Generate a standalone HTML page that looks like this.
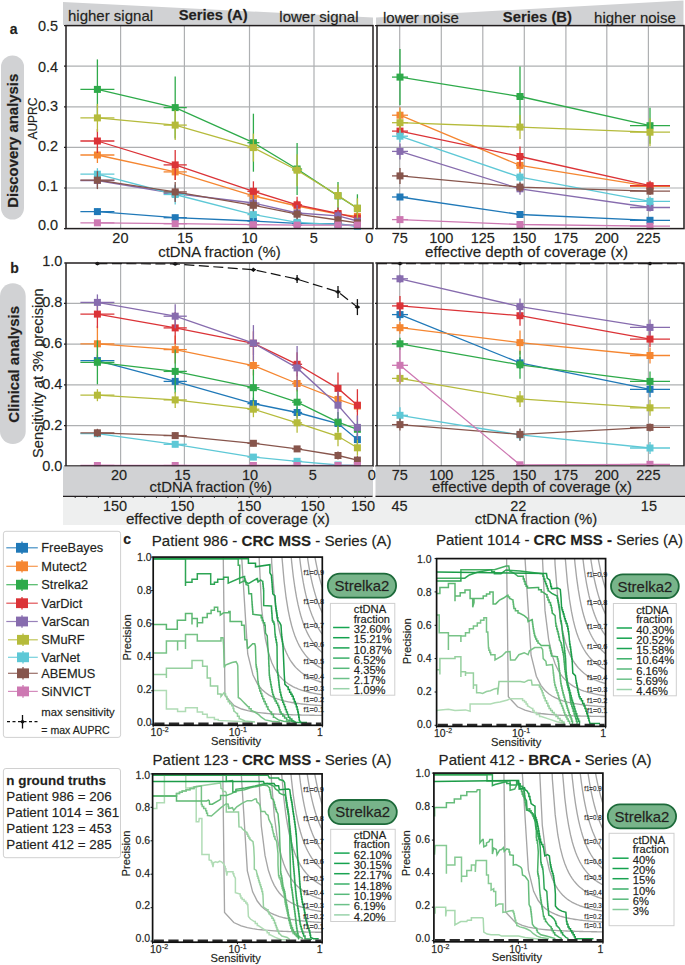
<!DOCTYPE html>
<html><head><meta charset="utf-8"><style>
html,body{margin:0;padding:0;background:#fff;}
svg{display:block;font-family:"Liberation Sans", sans-serif;}
text{stroke:#231f20;stroke-width:0.3px;stroke-opacity:0.6;}
</style></head><body>
<svg width="685" height="965" viewBox="0 0 685 965">
<rect width="685" height="965" fill="#fff"/>
<polygon points="63,2 373,17.5 373,25 63,25" fill="#d1d2d4"/>
<polygon points="376,17.5 683.5,0.5 683.5,25 376,25" fill="#d1d2d4"/>
<text x="68.0" y="21.0" font-size="15" text-anchor="start" font-weight="normal" fill="#231f20" >higher signal</text>
<text x="213.2" y="19.9" font-size="14.8" text-anchor="middle" font-weight="bold" fill="#231f20" >Series (A)</text>
<text x="279.3" y="21.9" font-size="15" text-anchor="start" font-weight="normal" fill="#231f20" >lower signal</text>
<text x="383.0" y="23.4" font-size="15" text-anchor="start" font-weight="normal" fill="#231f20" >lower noise</text>
<text x="537.4" y="21.6" font-size="14.8" text-anchor="middle" font-weight="bold" fill="#231f20" >Series (B)</text>
<text x="675.8" y="23.4" font-size="15" text-anchor="end" font-weight="normal" fill="#231f20" >higher noise</text>
<text x="9.8" y="33.6" font-size="14" text-anchor="start" font-weight="bold" fill="#231f20" >a</text>
<text x="10.2" y="272.6" font-size="14" text-anchor="start" font-weight="bold" fill="#231f20" >b</text>
<rect x="1" y="55.5" width="23" height="164" rx="11.5" fill="#d1d2d4"/>
<rect x="0" y="283.3" width="25.7" height="160.7" rx="12.8" fill="#d1d2d4"/>
<text transform="translate(18.2,140.8) rotate(-90)" font-size="14.9" font-weight="bold" text-anchor="middle" fill="#231f20">Discovery analysis</text>
<text transform="translate(18.6,364.3) rotate(-90)" font-size="15" font-weight="bold" text-anchor="middle" fill="#231f20">Clinical analysis</text>
<text transform="translate(37.4,118.6) rotate(-90)" font-size="12" text-anchor="middle" fill="#231f20">AUPRC</text>
<text transform="translate(42.6,373.2) rotate(-90)" font-size="14.6" text-anchor="middle" fill="#231f20">Sensitivity at 3% precision</text>
<line x1="120.6" y1="25.6" x2="120.6" y2="228.6" stroke="#aeb0b2" stroke-width="1.2"/>
<line x1="184.4" y1="25.6" x2="184.4" y2="228.6" stroke="#aeb0b2" stroke-width="1.2"/>
<line x1="249.5" y1="25.6" x2="249.5" y2="228.6" stroke="#aeb0b2" stroke-width="1.2"/>
<line x1="314.0" y1="25.6" x2="314.0" y2="228.6" stroke="#aeb0b2" stroke-width="1.2"/>
<line x1="66" y1="66.2" x2="373" y2="66.2" stroke="#aeb0b2" stroke-width="1.2"/>
<line x1="66" y1="106.8" x2="373" y2="106.8" stroke="#aeb0b2" stroke-width="1.2"/>
<line x1="66" y1="147.4" x2="373" y2="147.4" stroke="#aeb0b2" stroke-width="1.2"/>
<line x1="66" y1="188.0" x2="373" y2="188.0" stroke="#aeb0b2" stroke-width="1.2"/>
<line x1="399.7" y1="25.6" x2="399.7" y2="228.6" stroke="#aeb0b2" stroke-width="1.2"/>
<line x1="441.3" y1="25.6" x2="441.3" y2="228.6" stroke="#aeb0b2" stroke-width="1.2"/>
<line x1="482.8" y1="25.6" x2="482.8" y2="228.6" stroke="#aeb0b2" stroke-width="1.2"/>
<line x1="524.3" y1="25.6" x2="524.3" y2="228.6" stroke="#aeb0b2" stroke-width="1.2"/>
<line x1="565.9" y1="25.6" x2="565.9" y2="228.6" stroke="#aeb0b2" stroke-width="1.2"/>
<line x1="606.8" y1="25.6" x2="606.8" y2="228.6" stroke="#aeb0b2" stroke-width="1.2"/>
<line x1="648.4" y1="25.6" x2="648.4" y2="228.6" stroke="#aeb0b2" stroke-width="1.2"/>
<line x1="377" y1="66.2" x2="684" y2="66.2" stroke="#aeb0b2" stroke-width="1.2"/>
<line x1="377" y1="106.8" x2="684" y2="106.8" stroke="#aeb0b2" stroke-width="1.2"/>
<line x1="377" y1="147.4" x2="684" y2="147.4" stroke="#aeb0b2" stroke-width="1.2"/>
<line x1="377" y1="188.0" x2="684" y2="188.0" stroke="#aeb0b2" stroke-width="1.2"/>
<text x="58.2" y="31.4" font-size="14.5" text-anchor="end" font-weight="normal" fill="#231f20" >0.5</text>
<line x1="64" y1="25.6" x2="66" y2="25.6" stroke="#231f20" stroke-width="1.2"/>
<line x1="375" y1="25.6" x2="377" y2="25.6" stroke="#231f20" stroke-width="1.2"/>
<text x="58.2" y="72.3" font-size="14.5" text-anchor="end" font-weight="normal" fill="#231f20" >0.4</text>
<line x1="64" y1="66.2" x2="66" y2="66.2" stroke="#231f20" stroke-width="1.2"/>
<line x1="375" y1="66.2" x2="377" y2="66.2" stroke="#231f20" stroke-width="1.2"/>
<text x="58.2" y="111.2" font-size="14.5" text-anchor="end" font-weight="normal" fill="#231f20" >0.3</text>
<line x1="64" y1="106.8" x2="66" y2="106.8" stroke="#231f20" stroke-width="1.2"/>
<line x1="375" y1="106.8" x2="377" y2="106.8" stroke="#231f20" stroke-width="1.2"/>
<text x="58.2" y="151.2" font-size="14.5" text-anchor="end" font-weight="normal" fill="#231f20" >0.2</text>
<line x1="64" y1="147.4" x2="66" y2="147.4" stroke="#231f20" stroke-width="1.2"/>
<line x1="375" y1="147.4" x2="377" y2="147.4" stroke="#231f20" stroke-width="1.2"/>
<text x="58.2" y="191.0" font-size="14.5" text-anchor="end" font-weight="normal" fill="#231f20" >0.1</text>
<line x1="64" y1="188.0" x2="66" y2="188.0" stroke="#231f20" stroke-width="1.2"/>
<line x1="375" y1="188.0" x2="377" y2="188.0" stroke="#231f20" stroke-width="1.2"/>
<text x="58.2" y="229.5" font-size="14.5" text-anchor="end" font-weight="normal" fill="#231f20" >0.0</text>
<line x1="64" y1="228.6" x2="66" y2="228.6" stroke="#231f20" stroke-width="1.2"/>
<line x1="375" y1="228.6" x2="377" y2="228.6" stroke="#231f20" stroke-width="1.2"/>
<text x="120.4" y="242.8" font-size="14.5" text-anchor="middle" font-weight="normal" fill="#231f20" >20</text>
<text x="185.0" y="242.8" font-size="14.5" text-anchor="middle" font-weight="normal" fill="#231f20" >15</text>
<text x="249.6" y="242.8" font-size="14.5" text-anchor="middle" font-weight="normal" fill="#231f20" >10</text>
<text x="313.7" y="242.8" font-size="14.5" text-anchor="middle" font-weight="normal" fill="#231f20" >5</text>
<text x="369.3" y="242.8" font-size="14.5" text-anchor="middle" font-weight="normal" fill="#231f20" >0</text>
<text x="219.5" y="257.4" font-size="14.9" text-anchor="middle" font-weight="normal" fill="#231f20" >ctDNA fraction (%)</text>
<text x="399.7" y="242.8" font-size="14.5" text-anchor="middle" font-weight="normal" fill="#231f20" >75</text>
<text x="441.3" y="242.8" font-size="14.5" text-anchor="middle" font-weight="normal" fill="#231f20" >100</text>
<text x="482.8" y="242.8" font-size="14.5" text-anchor="middle" font-weight="normal" fill="#231f20" >125</text>
<text x="524.3" y="242.8" font-size="14.5" text-anchor="middle" font-weight="normal" fill="#231f20" >150</text>
<text x="565.9" y="242.8" font-size="14.5" text-anchor="middle" font-weight="normal" fill="#231f20" >175</text>
<text x="606.8" y="242.8" font-size="14.5" text-anchor="middle" font-weight="normal" fill="#231f20" >200</text>
<text x="648.4" y="242.8" font-size="14.5" text-anchor="middle" font-weight="normal" fill="#231f20" >225</text>
<text x="526.6" y="257.4" font-size="14.9" text-anchor="middle" font-weight="normal" fill="#231f20" textLength="203" lengthAdjust="spacingAndGlyphs">effective depth of coverage (x)</text>
<polyline points="97.4,211.6 175.2,217.7 253.4,221.0 297.1,223.3 338.0,224.0 357.4,226.0" fill="none" stroke="#2079b8" stroke-width="1.3"/>
<line x1="80.4" y1="211.6" x2="114.4" y2="211.6" stroke="#2079b8" stroke-width="1.3"/>
<line x1="97.4" y1="208.6" x2="97.4" y2="214.6" stroke="#2079b8" stroke-width="1.3"/>
<rect x="93.9" y="208.1" width="7" height="7" fill="#2079b8"/>
<line x1="163.6" y1="217.7" x2="186.8" y2="217.7" stroke="#2079b8" stroke-width="1.3"/>
<line x1="175.2" y1="214.7" x2="175.2" y2="220.7" stroke="#2079b8" stroke-width="1.3"/>
<rect x="171.7" y="214.2" width="7" height="7" fill="#2079b8"/>
<line x1="247.4" y1="221.0" x2="259.4" y2="221.0" stroke="#2079b8" stroke-width="1.3"/>
<line x1="253.4" y1="218.0" x2="253.4" y2="224.0" stroke="#2079b8" stroke-width="1.3"/>
<rect x="249.9" y="217.5" width="7" height="7" fill="#2079b8"/>
<line x1="292.1" y1="223.3" x2="302.1" y2="223.3" stroke="#2079b8" stroke-width="1.3"/>
<line x1="297.1" y1="221.3" x2="297.1" y2="225.3" stroke="#2079b8" stroke-width="1.3"/>
<rect x="293.6" y="219.8" width="7" height="7" fill="#2079b8"/>
<line x1="335.0" y1="224.0" x2="341.0" y2="224.0" stroke="#2079b8" stroke-width="1.3"/>
<line x1="338.0" y1="222.0" x2="338.0" y2="226.0" stroke="#2079b8" stroke-width="1.3"/>
<rect x="334.5" y="220.5" width="7" height="7" fill="#2079b8"/>
<line x1="355.4" y1="226.0" x2="359.4" y2="226.0" stroke="#2079b8" stroke-width="1.3"/>
<line x1="357.4" y1="224.0" x2="357.4" y2="228.0" stroke="#2079b8" stroke-width="1.3"/>
<rect x="353.9" y="222.5" width="7" height="7" fill="#2079b8"/>
<polyline points="400.0,197.0 520.0,214.5 650.0,220.3" fill="none" stroke="#2079b8" stroke-width="1.3"/>
<line x1="392.0" y1="197.0" x2="408.0" y2="197.0" stroke="#2079b8" stroke-width="1.3"/>
<line x1="400.0" y1="194.0" x2="400.0" y2="200.0" stroke="#2079b8" stroke-width="1.3"/>
<rect x="396.5" y="193.5" width="7" height="7" fill="#2079b8"/>
<line x1="516.0" y1="214.5" x2="524.0" y2="214.5" stroke="#2079b8" stroke-width="1.3"/>
<line x1="520.0" y1="211.5" x2="520.0" y2="217.5" stroke="#2079b8" stroke-width="1.3"/>
<rect x="516.5" y="211.0" width="7" height="7" fill="#2079b8"/>
<line x1="630.0" y1="220.3" x2="670.0" y2="220.3" stroke="#2079b8" stroke-width="1.3"/>
<line x1="650.0" y1="217.3" x2="650.0" y2="223.3" stroke="#2079b8" stroke-width="1.3"/>
<rect x="646.5" y="216.8" width="7" height="7" fill="#2079b8"/>
<polyline points="97.4,155.0 175.2,171.9 253.4,195.9 297.1,206.0 338.0,214.2 357.4,216.3" fill="none" stroke="#f58631" stroke-width="1.3"/>
<line x1="80.4" y1="155.0" x2="114.4" y2="155.0" stroke="#f58631" stroke-width="1.3"/>
<line x1="97.4" y1="147.0" x2="97.4" y2="163.0" stroke="#f58631" stroke-width="1.3"/>
<rect x="93.9" y="151.5" width="7" height="7" fill="#f58631"/>
<line x1="163.6" y1="171.9" x2="186.8" y2="171.9" stroke="#f58631" stroke-width="1.3"/>
<line x1="175.2" y1="163.9" x2="175.2" y2="179.9" stroke="#f58631" stroke-width="1.3"/>
<rect x="171.7" y="168.4" width="7" height="7" fill="#f58631"/>
<line x1="247.4" y1="195.9" x2="259.4" y2="195.9" stroke="#f58631" stroke-width="1.3"/>
<line x1="253.4" y1="187.9" x2="253.4" y2="203.9" stroke="#f58631" stroke-width="1.3"/>
<rect x="249.9" y="192.4" width="7" height="7" fill="#f58631"/>
<line x1="292.1" y1="206.0" x2="302.1" y2="206.0" stroke="#f58631" stroke-width="1.3"/>
<line x1="297.1" y1="200.0" x2="297.1" y2="212.0" stroke="#f58631" stroke-width="1.3"/>
<rect x="293.6" y="202.5" width="7" height="7" fill="#f58631"/>
<line x1="335.0" y1="214.2" x2="341.0" y2="214.2" stroke="#f58631" stroke-width="1.3"/>
<line x1="338.0" y1="210.2" x2="338.0" y2="218.2" stroke="#f58631" stroke-width="1.3"/>
<rect x="334.5" y="210.7" width="7" height="7" fill="#f58631"/>
<line x1="355.4" y1="216.3" x2="359.4" y2="216.3" stroke="#f58631" stroke-width="1.3"/>
<line x1="357.4" y1="212.3" x2="357.4" y2="220.3" stroke="#f58631" stroke-width="1.3"/>
<rect x="353.9" y="212.8" width="7" height="7" fill="#f58631"/>
<polyline points="400.0,115.2 520.0,165.4 650.0,186.4" fill="none" stroke="#f58631" stroke-width="1.3"/>
<line x1="392.0" y1="115.2" x2="408.0" y2="115.2" stroke="#f58631" stroke-width="1.3"/>
<line x1="400.0" y1="107.2" x2="400.0" y2="123.2" stroke="#f58631" stroke-width="1.3"/>
<rect x="396.5" y="111.7" width="7" height="7" fill="#f58631"/>
<line x1="516.0" y1="165.4" x2="524.0" y2="165.4" stroke="#f58631" stroke-width="1.3"/>
<line x1="520.0" y1="157.4" x2="520.0" y2="173.4" stroke="#f58631" stroke-width="1.3"/>
<rect x="516.5" y="161.9" width="7" height="7" fill="#f58631"/>
<line x1="630.0" y1="186.4" x2="670.0" y2="186.4" stroke="#f58631" stroke-width="1.3"/>
<line x1="650.0" y1="182.4" x2="650.0" y2="190.4" stroke="#f58631" stroke-width="1.3"/>
<rect x="646.5" y="182.9" width="7" height="7" fill="#f58631"/>
<polyline points="97.4,89.4 175.2,107.6 253.4,142.7 297.1,169.0 338.0,195.9 357.4,208.3" fill="none" stroke="#2eaa4a" stroke-width="1.3"/>
<line x1="80.4" y1="89.4" x2="114.4" y2="89.4" stroke="#2eaa4a" stroke-width="1.3"/>
<line x1="97.4" y1="59.4" x2="97.4" y2="119.4" stroke="#2eaa4a" stroke-width="1.3"/>
<rect x="93.9" y="85.9" width="7" height="7" fill="#2eaa4a"/>
<line x1="163.6" y1="107.6" x2="186.8" y2="107.6" stroke="#2eaa4a" stroke-width="1.3"/>
<line x1="175.2" y1="76.6" x2="175.2" y2="138.6" stroke="#2eaa4a" stroke-width="1.3"/>
<rect x="171.7" y="104.1" width="7" height="7" fill="#2eaa4a"/>
<line x1="247.4" y1="142.7" x2="259.4" y2="142.7" stroke="#2eaa4a" stroke-width="1.3"/>
<line x1="253.4" y1="113.7" x2="253.4" y2="171.7" stroke="#2eaa4a" stroke-width="1.3"/>
<rect x="249.9" y="139.2" width="7" height="7" fill="#2eaa4a"/>
<line x1="292.1" y1="169.0" x2="302.1" y2="169.0" stroke="#2eaa4a" stroke-width="1.3"/>
<line x1="297.1" y1="143.0" x2="297.1" y2="195.0" stroke="#2eaa4a" stroke-width="1.3"/>
<rect x="293.6" y="165.5" width="7" height="7" fill="#2eaa4a"/>
<line x1="335.0" y1="195.9" x2="341.0" y2="195.9" stroke="#2eaa4a" stroke-width="1.3"/>
<line x1="338.0" y1="181.9" x2="338.0" y2="209.9" stroke="#2eaa4a" stroke-width="1.3"/>
<rect x="334.5" y="192.4" width="7" height="7" fill="#2eaa4a"/>
<line x1="355.4" y1="208.3" x2="359.4" y2="208.3" stroke="#2eaa4a" stroke-width="1.3"/>
<line x1="357.4" y1="194.3" x2="357.4" y2="222.3" stroke="#2eaa4a" stroke-width="1.3"/>
<rect x="353.9" y="204.8" width="7" height="7" fill="#2eaa4a"/>
<polyline points="400.0,77.1 520.0,96.5 650.0,125.7" fill="none" stroke="#2eaa4a" stroke-width="1.3"/>
<line x1="392.0" y1="77.1" x2="408.0" y2="77.1" stroke="#2eaa4a" stroke-width="1.3"/>
<line x1="400.0" y1="49.1" x2="400.0" y2="105.1" stroke="#2eaa4a" stroke-width="1.3"/>
<rect x="396.5" y="73.6" width="7" height="7" fill="#2eaa4a"/>
<line x1="516.0" y1="96.5" x2="524.0" y2="96.5" stroke="#2eaa4a" stroke-width="1.3"/>
<line x1="520.0" y1="66.5" x2="520.0" y2="126.5" stroke="#2eaa4a" stroke-width="1.3"/>
<rect x="516.5" y="93.0" width="7" height="7" fill="#2eaa4a"/>
<line x1="630.0" y1="125.7" x2="670.0" y2="125.7" stroke="#2eaa4a" stroke-width="1.3"/>
<line x1="650.0" y1="107.7" x2="650.0" y2="143.7" stroke="#2eaa4a" stroke-width="1.3"/>
<rect x="646.5" y="122.2" width="7" height="7" fill="#2eaa4a"/>
<polyline points="97.4,141.0 175.2,164.9 253.4,191.3 297.1,204.8 338.0,213.5 357.4,218.1" fill="none" stroke="#db3337" stroke-width="1.3"/>
<line x1="80.4" y1="141.0" x2="114.4" y2="141.0" stroke="#db3337" stroke-width="1.3"/>
<line x1="97.4" y1="129.0" x2="97.4" y2="153.0" stroke="#db3337" stroke-width="1.3"/>
<rect x="93.9" y="137.5" width="7" height="7" fill="#db3337"/>
<line x1="163.6" y1="164.9" x2="186.8" y2="164.9" stroke="#db3337" stroke-width="1.3"/>
<line x1="175.2" y1="149.9" x2="175.2" y2="179.9" stroke="#db3337" stroke-width="1.3"/>
<rect x="171.7" y="161.4" width="7" height="7" fill="#db3337"/>
<line x1="247.4" y1="191.3" x2="259.4" y2="191.3" stroke="#db3337" stroke-width="1.3"/>
<line x1="253.4" y1="181.3" x2="253.4" y2="201.3" stroke="#db3337" stroke-width="1.3"/>
<rect x="249.9" y="187.8" width="7" height="7" fill="#db3337"/>
<line x1="292.1" y1="204.8" x2="302.1" y2="204.8" stroke="#db3337" stroke-width="1.3"/>
<line x1="297.1" y1="196.8" x2="297.1" y2="212.8" stroke="#db3337" stroke-width="1.3"/>
<rect x="293.6" y="201.3" width="7" height="7" fill="#db3337"/>
<line x1="335.0" y1="213.5" x2="341.0" y2="213.5" stroke="#db3337" stroke-width="1.3"/>
<line x1="338.0" y1="207.5" x2="338.0" y2="219.5" stroke="#db3337" stroke-width="1.3"/>
<rect x="334.5" y="210.0" width="7" height="7" fill="#db3337"/>
<line x1="355.4" y1="218.1" x2="359.4" y2="218.1" stroke="#db3337" stroke-width="1.3"/>
<line x1="357.4" y1="213.1" x2="357.4" y2="223.1" stroke="#db3337" stroke-width="1.3"/>
<rect x="353.9" y="214.6" width="7" height="7" fill="#db3337"/>
<polyline points="400.0,131.1 520.0,156.5 650.0,185.7" fill="none" stroke="#db3337" stroke-width="1.3"/>
<line x1="392.0" y1="131.1" x2="408.0" y2="131.1" stroke="#db3337" stroke-width="1.3"/>
<line x1="400.0" y1="123.1" x2="400.0" y2="139.1" stroke="#db3337" stroke-width="1.3"/>
<rect x="396.5" y="127.6" width="7" height="7" fill="#db3337"/>
<line x1="516.0" y1="156.5" x2="524.0" y2="156.5" stroke="#db3337" stroke-width="1.3"/>
<line x1="520.0" y1="146.5" x2="520.0" y2="166.5" stroke="#db3337" stroke-width="1.3"/>
<rect x="516.5" y="153.0" width="7" height="7" fill="#db3337"/>
<line x1="630.0" y1="185.7" x2="670.0" y2="185.7" stroke="#db3337" stroke-width="1.3"/>
<line x1="650.0" y1="180.7" x2="650.0" y2="190.7" stroke="#db3337" stroke-width="1.3"/>
<rect x="646.5" y="182.2" width="7" height="7" fill="#db3337"/>
<polyline points="97.4,180.5 175.2,193.5 253.4,203.0 297.1,213.0 338.0,215.8 357.4,221.0" fill="none" stroke="#876cae" stroke-width="1.3"/>
<line x1="80.4" y1="180.5" x2="114.4" y2="180.5" stroke="#876cae" stroke-width="1.3"/>
<line x1="97.4" y1="172.5" x2="97.4" y2="188.5" stroke="#876cae" stroke-width="1.3"/>
<rect x="93.9" y="177.0" width="7" height="7" fill="#876cae"/>
<line x1="163.6" y1="193.5" x2="186.8" y2="193.5" stroke="#876cae" stroke-width="1.3"/>
<line x1="175.2" y1="185.5" x2="175.2" y2="201.5" stroke="#876cae" stroke-width="1.3"/>
<rect x="171.7" y="190.0" width="7" height="7" fill="#876cae"/>
<line x1="247.4" y1="203.0" x2="259.4" y2="203.0" stroke="#876cae" stroke-width="1.3"/>
<line x1="253.4" y1="195.0" x2="253.4" y2="211.0" stroke="#876cae" stroke-width="1.3"/>
<rect x="249.9" y="199.5" width="7" height="7" fill="#876cae"/>
<line x1="292.1" y1="213.0" x2="302.1" y2="213.0" stroke="#876cae" stroke-width="1.3"/>
<line x1="297.1" y1="205.0" x2="297.1" y2="221.0" stroke="#876cae" stroke-width="1.3"/>
<rect x="293.6" y="209.5" width="7" height="7" fill="#876cae"/>
<line x1="335.0" y1="215.8" x2="341.0" y2="215.8" stroke="#876cae" stroke-width="1.3"/>
<line x1="338.0" y1="210.8" x2="338.0" y2="220.8" stroke="#876cae" stroke-width="1.3"/>
<rect x="334.5" y="212.3" width="7" height="7" fill="#876cae"/>
<line x1="355.4" y1="221.0" x2="359.4" y2="221.0" stroke="#876cae" stroke-width="1.3"/>
<line x1="357.4" y1="216.0" x2="357.4" y2="226.0" stroke="#876cae" stroke-width="1.3"/>
<rect x="353.9" y="217.5" width="7" height="7" fill="#876cae"/>
<polyline points="400.0,151.4 520.0,188.8 650.0,207.5" fill="none" stroke="#876cae" stroke-width="1.3"/>
<line x1="392.0" y1="151.4" x2="408.0" y2="151.4" stroke="#876cae" stroke-width="1.3"/>
<line x1="400.0" y1="143.4" x2="400.0" y2="159.4" stroke="#876cae" stroke-width="1.3"/>
<rect x="396.5" y="147.9" width="7" height="7" fill="#876cae"/>
<line x1="516.0" y1="188.8" x2="524.0" y2="188.8" stroke="#876cae" stroke-width="1.3"/>
<line x1="520.0" y1="182.8" x2="520.0" y2="194.8" stroke="#876cae" stroke-width="1.3"/>
<rect x="516.5" y="185.3" width="7" height="7" fill="#876cae"/>
<line x1="630.0" y1="207.5" x2="670.0" y2="207.5" stroke="#876cae" stroke-width="1.3"/>
<line x1="650.0" y1="203.5" x2="650.0" y2="211.5" stroke="#876cae" stroke-width="1.3"/>
<rect x="646.5" y="204.0" width="7" height="7" fill="#876cae"/>
<polyline points="97.4,117.9 175.2,125.1 253.4,147.6 297.1,170.2 338.0,195.5 357.4,208.3" fill="none" stroke="#b5bb3b" stroke-width="1.3"/>
<line x1="80.4" y1="117.9" x2="114.4" y2="117.9" stroke="#b5bb3b" stroke-width="1.3"/>
<line x1="97.4" y1="103.9" x2="97.4" y2="131.9" stroke="#b5bb3b" stroke-width="1.3"/>
<rect x="93.9" y="114.4" width="7" height="7" fill="#b5bb3b"/>
<line x1="163.6" y1="125.1" x2="186.8" y2="125.1" stroke="#b5bb3b" stroke-width="1.3"/>
<line x1="175.2" y1="110.1" x2="175.2" y2="140.1" stroke="#b5bb3b" stroke-width="1.3"/>
<rect x="171.7" y="121.6" width="7" height="7" fill="#b5bb3b"/>
<line x1="247.4" y1="147.6" x2="259.4" y2="147.6" stroke="#b5bb3b" stroke-width="1.3"/>
<line x1="253.4" y1="133.6" x2="253.4" y2="161.6" stroke="#b5bb3b" stroke-width="1.3"/>
<rect x="249.9" y="144.1" width="7" height="7" fill="#b5bb3b"/>
<line x1="292.1" y1="170.2" x2="302.1" y2="170.2" stroke="#b5bb3b" stroke-width="1.3"/>
<line x1="297.1" y1="154.2" x2="297.1" y2="186.2" stroke="#b5bb3b" stroke-width="1.3"/>
<rect x="293.6" y="166.7" width="7" height="7" fill="#b5bb3b"/>
<line x1="335.0" y1="195.5" x2="341.0" y2="195.5" stroke="#b5bb3b" stroke-width="1.3"/>
<line x1="338.0" y1="184.5" x2="338.0" y2="206.5" stroke="#b5bb3b" stroke-width="1.3"/>
<rect x="334.5" y="192.0" width="7" height="7" fill="#b5bb3b"/>
<line x1="355.4" y1="208.3" x2="359.4" y2="208.3" stroke="#b5bb3b" stroke-width="1.3"/>
<line x1="357.4" y1="198.3" x2="357.4" y2="218.3" stroke="#b5bb3b" stroke-width="1.3"/>
<rect x="353.9" y="204.8" width="7" height="7" fill="#b5bb3b"/>
<polyline points="400.0,122.7 520.0,127.1 650.0,132.2" fill="none" stroke="#b5bb3b" stroke-width="1.3"/>
<line x1="392.0" y1="122.7" x2="408.0" y2="122.7" stroke="#b5bb3b" stroke-width="1.3"/>
<line x1="400.0" y1="110.7" x2="400.0" y2="134.7" stroke="#b5bb3b" stroke-width="1.3"/>
<rect x="396.5" y="119.2" width="7" height="7" fill="#b5bb3b"/>
<line x1="516.0" y1="127.1" x2="524.0" y2="127.1" stroke="#b5bb3b" stroke-width="1.3"/>
<line x1="520.0" y1="115.1" x2="520.0" y2="139.1" stroke="#b5bb3b" stroke-width="1.3"/>
<rect x="516.5" y="123.6" width="7" height="7" fill="#b5bb3b"/>
<line x1="630.0" y1="132.2" x2="670.0" y2="132.2" stroke="#b5bb3b" stroke-width="1.3"/>
<line x1="650.0" y1="118.2" x2="650.0" y2="146.2" stroke="#b5bb3b" stroke-width="1.3"/>
<rect x="646.5" y="128.7" width="7" height="7" fill="#b5bb3b"/>
<polyline points="97.4,174.2 175.2,194.5 253.4,214.6 297.1,222.3 338.0,224.7 357.4,226.0" fill="none" stroke="#5ec8d6" stroke-width="1.3"/>
<line x1="80.4" y1="174.2" x2="114.4" y2="174.2" stroke="#5ec8d6" stroke-width="1.3"/>
<line x1="97.4" y1="168.2" x2="97.4" y2="180.2" stroke="#5ec8d6" stroke-width="1.3"/>
<rect x="93.9" y="170.7" width="7" height="7" fill="#5ec8d6"/>
<line x1="163.6" y1="194.5" x2="186.8" y2="194.5" stroke="#5ec8d6" stroke-width="1.3"/>
<line x1="175.2" y1="184.5" x2="175.2" y2="204.5" stroke="#5ec8d6" stroke-width="1.3"/>
<rect x="171.7" y="191.0" width="7" height="7" fill="#5ec8d6"/>
<line x1="247.4" y1="214.6" x2="259.4" y2="214.6" stroke="#5ec8d6" stroke-width="1.3"/>
<line x1="253.4" y1="208.6" x2="253.4" y2="220.6" stroke="#5ec8d6" stroke-width="1.3"/>
<rect x="249.9" y="211.1" width="7" height="7" fill="#5ec8d6"/>
<line x1="292.1" y1="222.3" x2="302.1" y2="222.3" stroke="#5ec8d6" stroke-width="1.3"/>
<line x1="297.1" y1="218.3" x2="297.1" y2="226.3" stroke="#5ec8d6" stroke-width="1.3"/>
<rect x="293.6" y="218.8" width="7" height="7" fill="#5ec8d6"/>
<line x1="335.0" y1="224.7" x2="341.0" y2="224.7" stroke="#5ec8d6" stroke-width="1.3"/>
<line x1="338.0" y1="221.7" x2="338.0" y2="227.7" stroke="#5ec8d6" stroke-width="1.3"/>
<rect x="334.5" y="221.2" width="7" height="7" fill="#5ec8d6"/>
<line x1="355.4" y1="226.0" x2="359.4" y2="226.0" stroke="#5ec8d6" stroke-width="1.3"/>
<line x1="357.4" y1="224.0" x2="357.4" y2="228.0" stroke="#5ec8d6" stroke-width="1.3"/>
<rect x="353.9" y="222.5" width="7" height="7" fill="#5ec8d6"/>
<polyline points="400.0,136.2 520.0,177.1 650.0,201.4" fill="none" stroke="#5ec8d6" stroke-width="1.3"/>
<line x1="392.0" y1="136.2" x2="408.0" y2="136.2" stroke="#5ec8d6" stroke-width="1.3"/>
<line x1="400.0" y1="130.2" x2="400.0" y2="142.2" stroke="#5ec8d6" stroke-width="1.3"/>
<rect x="396.5" y="132.7" width="7" height="7" fill="#5ec8d6"/>
<line x1="516.0" y1="177.1" x2="524.0" y2="177.1" stroke="#5ec8d6" stroke-width="1.3"/>
<line x1="520.0" y1="172.1" x2="520.0" y2="182.1" stroke="#5ec8d6" stroke-width="1.3"/>
<rect x="516.5" y="173.6" width="7" height="7" fill="#5ec8d6"/>
<line x1="630.0" y1="201.4" x2="670.0" y2="201.4" stroke="#5ec8d6" stroke-width="1.3"/>
<line x1="650.0" y1="196.4" x2="650.0" y2="206.4" stroke="#5ec8d6" stroke-width="1.3"/>
<rect x="646.5" y="197.9" width="7" height="7" fill="#5ec8d6"/>
<polyline points="97.4,180.1 175.2,191.9 253.4,205.3 297.1,214.2 338.0,220.0 357.4,222.8" fill="none" stroke="#87554c" stroke-width="1.3"/>
<line x1="80.4" y1="180.1" x2="114.4" y2="180.1" stroke="#87554c" stroke-width="1.3"/>
<line x1="97.4" y1="171.1" x2="97.4" y2="189.1" stroke="#87554c" stroke-width="1.3"/>
<rect x="93.9" y="176.6" width="7" height="7" fill="#87554c"/>
<line x1="163.6" y1="191.9" x2="186.8" y2="191.9" stroke="#87554c" stroke-width="1.3"/>
<line x1="175.2" y1="181.9" x2="175.2" y2="201.9" stroke="#87554c" stroke-width="1.3"/>
<rect x="171.7" y="188.4" width="7" height="7" fill="#87554c"/>
<line x1="247.4" y1="205.3" x2="259.4" y2="205.3" stroke="#87554c" stroke-width="1.3"/>
<line x1="253.4" y1="199.3" x2="253.4" y2="211.3" stroke="#87554c" stroke-width="1.3"/>
<rect x="249.9" y="201.8" width="7" height="7" fill="#87554c"/>
<line x1="292.1" y1="214.2" x2="302.1" y2="214.2" stroke="#87554c" stroke-width="1.3"/>
<line x1="297.1" y1="209.2" x2="297.1" y2="219.2" stroke="#87554c" stroke-width="1.3"/>
<rect x="293.6" y="210.7" width="7" height="7" fill="#87554c"/>
<line x1="335.0" y1="220.0" x2="341.0" y2="220.0" stroke="#87554c" stroke-width="1.3"/>
<line x1="338.0" y1="216.0" x2="338.0" y2="224.0" stroke="#87554c" stroke-width="1.3"/>
<rect x="334.5" y="216.5" width="7" height="7" fill="#87554c"/>
<line x1="355.4" y1="222.8" x2="359.4" y2="222.8" stroke="#87554c" stroke-width="1.3"/>
<line x1="357.4" y1="219.8" x2="357.4" y2="225.8" stroke="#87554c" stroke-width="1.3"/>
<rect x="353.9" y="219.3" width="7" height="7" fill="#87554c"/>
<polyline points="400.0,175.9 520.0,187.1 650.0,191.1" fill="none" stroke="#87554c" stroke-width="1.3"/>
<line x1="392.0" y1="175.9" x2="408.0" y2="175.9" stroke="#87554c" stroke-width="1.3"/>
<line x1="400.0" y1="167.9" x2="400.0" y2="183.9" stroke="#87554c" stroke-width="1.3"/>
<rect x="396.5" y="172.4" width="7" height="7" fill="#87554c"/>
<line x1="516.0" y1="187.1" x2="524.0" y2="187.1" stroke="#87554c" stroke-width="1.3"/>
<line x1="520.0" y1="182.1" x2="520.0" y2="192.1" stroke="#87554c" stroke-width="1.3"/>
<rect x="516.5" y="183.6" width="7" height="7" fill="#87554c"/>
<line x1="630.0" y1="191.1" x2="670.0" y2="191.1" stroke="#87554c" stroke-width="1.3"/>
<line x1="650.0" y1="187.1" x2="650.0" y2="195.1" stroke="#87554c" stroke-width="1.3"/>
<rect x="646.5" y="187.6" width="7" height="7" fill="#87554c"/>
<polyline points="97.4,222.8 175.2,223.7 253.4,224.7 297.1,225.1 338.0,225.1 357.4,225.1" fill="none" stroke="#cd78b2" stroke-width="1.3"/>
<line x1="80.4" y1="222.8" x2="114.4" y2="222.8" stroke="#cd78b2" stroke-width="1.3"/>
<line x1="97.4" y1="221.8" x2="97.4" y2="223.8" stroke="#cd78b2" stroke-width="1.3"/>
<rect x="93.9" y="219.3" width="7" height="7" fill="#cd78b2"/>
<line x1="163.6" y1="223.7" x2="186.8" y2="223.7" stroke="#cd78b2" stroke-width="1.3"/>
<line x1="175.2" y1="222.7" x2="175.2" y2="224.7" stroke="#cd78b2" stroke-width="1.3"/>
<rect x="171.7" y="220.2" width="7" height="7" fill="#cd78b2"/>
<line x1="247.4" y1="224.7" x2="259.4" y2="224.7" stroke="#cd78b2" stroke-width="1.3"/>
<line x1="253.4" y1="223.7" x2="253.4" y2="225.7" stroke="#cd78b2" stroke-width="1.3"/>
<rect x="249.9" y="221.2" width="7" height="7" fill="#cd78b2"/>
<line x1="292.1" y1="225.1" x2="302.1" y2="225.1" stroke="#cd78b2" stroke-width="1.3"/>
<line x1="297.1" y1="224.1" x2="297.1" y2="226.1" stroke="#cd78b2" stroke-width="1.3"/>
<rect x="293.6" y="221.6" width="7" height="7" fill="#cd78b2"/>
<line x1="335.0" y1="225.1" x2="341.0" y2="225.1" stroke="#cd78b2" stroke-width="1.3"/>
<line x1="338.0" y1="224.1" x2="338.0" y2="226.1" stroke="#cd78b2" stroke-width="1.3"/>
<rect x="334.5" y="221.6" width="7" height="7" fill="#cd78b2"/>
<line x1="355.4" y1="225.1" x2="359.4" y2="225.1" stroke="#cd78b2" stroke-width="1.3"/>
<line x1="357.4" y1="224.1" x2="357.4" y2="226.1" stroke="#cd78b2" stroke-width="1.3"/>
<rect x="353.9" y="221.6" width="7" height="7" fill="#cd78b2"/>
<polyline points="400.0,219.6 520.0,224.5 650.0,226.2" fill="none" stroke="#cd78b2" stroke-width="1.3"/>
<line x1="392.0" y1="219.6" x2="408.0" y2="219.6" stroke="#cd78b2" stroke-width="1.3"/>
<line x1="400.0" y1="217.6" x2="400.0" y2="221.6" stroke="#cd78b2" stroke-width="1.3"/>
<rect x="396.5" y="216.1" width="7" height="7" fill="#cd78b2"/>
<line x1="516.0" y1="224.5" x2="524.0" y2="224.5" stroke="#cd78b2" stroke-width="1.3"/>
<line x1="520.0" y1="222.5" x2="520.0" y2="226.5" stroke="#cd78b2" stroke-width="1.3"/>
<rect x="516.5" y="221.0" width="7" height="7" fill="#cd78b2"/>
<line x1="630.0" y1="226.2" x2="670.0" y2="226.2" stroke="#cd78b2" stroke-width="1.3"/>
<line x1="650.0" y1="225.2" x2="650.0" y2="227.2" stroke="#cd78b2" stroke-width="1.3"/>
<rect x="646.5" y="222.7" width="7" height="7" fill="#cd78b2"/>
<rect x="66" y="25.6" width="307" height="203.0" fill="none" stroke="#231f20" stroke-width="1.5"/>
<rect x="377" y="25.6" width="307" height="203.0" fill="none" stroke="#231f20" stroke-width="1.5"/>
<line x1="120.6" y1="263" x2="120.6" y2="466.0" stroke="#aeb0b2" stroke-width="1.2"/>
<line x1="184.4" y1="263" x2="184.4" y2="466.0" stroke="#aeb0b2" stroke-width="1.2"/>
<line x1="249.5" y1="263" x2="249.5" y2="466.0" stroke="#aeb0b2" stroke-width="1.2"/>
<line x1="314.0" y1="263" x2="314.0" y2="466.0" stroke="#aeb0b2" stroke-width="1.2"/>
<line x1="66" y1="303.4" x2="373" y2="303.4" stroke="#aeb0b2" stroke-width="1.2"/>
<line x1="66" y1="344.1" x2="373" y2="344.1" stroke="#aeb0b2" stroke-width="1.2"/>
<line x1="66" y1="384.8" x2="373" y2="384.8" stroke="#aeb0b2" stroke-width="1.2"/>
<line x1="66" y1="425.6" x2="373" y2="425.6" stroke="#aeb0b2" stroke-width="1.2"/>
<line x1="399.7" y1="263" x2="399.7" y2="466.0" stroke="#aeb0b2" stroke-width="1.2"/>
<line x1="441.3" y1="263" x2="441.3" y2="466.0" stroke="#aeb0b2" stroke-width="1.2"/>
<line x1="482.8" y1="263" x2="482.8" y2="466.0" stroke="#aeb0b2" stroke-width="1.2"/>
<line x1="524.3" y1="263" x2="524.3" y2="466.0" stroke="#aeb0b2" stroke-width="1.2"/>
<line x1="565.9" y1="263" x2="565.9" y2="466.0" stroke="#aeb0b2" stroke-width="1.2"/>
<line x1="606.8" y1="263" x2="606.8" y2="466.0" stroke="#aeb0b2" stroke-width="1.2"/>
<line x1="648.4" y1="263" x2="648.4" y2="466.0" stroke="#aeb0b2" stroke-width="1.2"/>
<line x1="377" y1="303.4" x2="684" y2="303.4" stroke="#aeb0b2" stroke-width="1.2"/>
<line x1="377" y1="344.1" x2="684" y2="344.1" stroke="#aeb0b2" stroke-width="1.2"/>
<line x1="377" y1="384.8" x2="684" y2="384.8" stroke="#aeb0b2" stroke-width="1.2"/>
<line x1="377" y1="425.6" x2="684" y2="425.6" stroke="#aeb0b2" stroke-width="1.2"/>
<text x="62.4" y="266.3" font-size="14.5" text-anchor="end" font-weight="normal" fill="#231f20" >1.0</text>
<line x1="64" y1="263.0" x2="66" y2="263.0" stroke="#231f20" stroke-width="1.2"/>
<line x1="375" y1="263.0" x2="377" y2="263.0" stroke="#231f20" stroke-width="1.2"/>
<text x="62.4" y="307.0" font-size="14.5" text-anchor="end" font-weight="normal" fill="#231f20" >0.8</text>
<line x1="64" y1="303.4" x2="66" y2="303.4" stroke="#231f20" stroke-width="1.2"/>
<line x1="375" y1="303.4" x2="377" y2="303.4" stroke="#231f20" stroke-width="1.2"/>
<text x="62.4" y="347.5" font-size="14.5" text-anchor="end" font-weight="normal" fill="#231f20" >0.6</text>
<line x1="64" y1="344.1" x2="66" y2="344.1" stroke="#231f20" stroke-width="1.2"/>
<line x1="375" y1="344.1" x2="377" y2="344.1" stroke="#231f20" stroke-width="1.2"/>
<text x="62.4" y="389.2" font-size="14.5" text-anchor="end" font-weight="normal" fill="#231f20" >0.4</text>
<line x1="64" y1="384.8" x2="66" y2="384.8" stroke="#231f20" stroke-width="1.2"/>
<line x1="375" y1="384.8" x2="377" y2="384.8" stroke="#231f20" stroke-width="1.2"/>
<text x="62.4" y="429.6" font-size="14.5" text-anchor="end" font-weight="normal" fill="#231f20" >0.2</text>
<line x1="64" y1="425.6" x2="66" y2="425.6" stroke="#231f20" stroke-width="1.2"/>
<line x1="375" y1="425.6" x2="377" y2="425.6" stroke="#231f20" stroke-width="1.2"/>
<text x="62.4" y="470.7" font-size="14.5" text-anchor="end" font-weight="normal" fill="#231f20" >0.0</text>
<line x1="64" y1="466.0" x2="66" y2="466.0" stroke="#231f20" stroke-width="1.2"/>
<line x1="375" y1="466.0" x2="377" y2="466.0" stroke="#231f20" stroke-width="1.2"/>
<polyline points="97.4,360.6 175.2,381.4 253.4,403.6 297.1,412.5 338.0,423.5 357.4,439.6" fill="none" stroke="#2079b8" stroke-width="1.3"/>
<line x1="80.4" y1="360.6" x2="114.4" y2="360.6" stroke="#2079b8" stroke-width="1.3"/>
<line x1="97.4" y1="354.6" x2="97.4" y2="366.6" stroke="#2079b8" stroke-width="1.3"/>
<rect x="93.9" y="357.1" width="7" height="7" fill="#2079b8"/>
<line x1="163.6" y1="381.4" x2="186.8" y2="381.4" stroke="#2079b8" stroke-width="1.3"/>
<line x1="175.2" y1="373.4" x2="175.2" y2="389.4" stroke="#2079b8" stroke-width="1.3"/>
<rect x="171.7" y="377.9" width="7" height="7" fill="#2079b8"/>
<line x1="247.4" y1="403.6" x2="259.4" y2="403.6" stroke="#2079b8" stroke-width="1.3"/>
<line x1="253.4" y1="397.6" x2="253.4" y2="409.6" stroke="#2079b8" stroke-width="1.3"/>
<rect x="249.9" y="400.1" width="7" height="7" fill="#2079b8"/>
<line x1="292.1" y1="412.5" x2="302.1" y2="412.5" stroke="#2079b8" stroke-width="1.3"/>
<line x1="297.1" y1="406.5" x2="297.1" y2="418.5" stroke="#2079b8" stroke-width="1.3"/>
<rect x="293.6" y="409.0" width="7" height="7" fill="#2079b8"/>
<line x1="335.0" y1="423.5" x2="341.0" y2="423.5" stroke="#2079b8" stroke-width="1.3"/>
<line x1="338.0" y1="417.5" x2="338.0" y2="429.5" stroke="#2079b8" stroke-width="1.3"/>
<rect x="334.5" y="420.0" width="7" height="7" fill="#2079b8"/>
<line x1="355.4" y1="439.6" x2="359.4" y2="439.6" stroke="#2079b8" stroke-width="1.3"/>
<line x1="357.4" y1="433.6" x2="357.4" y2="445.6" stroke="#2079b8" stroke-width="1.3"/>
<rect x="353.9" y="436.1" width="7" height="7" fill="#2079b8"/>
<polyline points="400.0,314.6 520.0,362.9 650.0,389.3" fill="none" stroke="#2079b8" stroke-width="1.3"/>
<line x1="392.0" y1="314.6" x2="408.0" y2="314.6" stroke="#2079b8" stroke-width="1.3"/>
<line x1="400.0" y1="308.6" x2="400.0" y2="320.6" stroke="#2079b8" stroke-width="1.3"/>
<rect x="396.5" y="311.1" width="7" height="7" fill="#2079b8"/>
<line x1="516.0" y1="362.9" x2="524.0" y2="362.9" stroke="#2079b8" stroke-width="1.3"/>
<line x1="520.0" y1="356.9" x2="520.0" y2="368.9" stroke="#2079b8" stroke-width="1.3"/>
<rect x="516.5" y="359.4" width="7" height="7" fill="#2079b8"/>
<line x1="630.0" y1="389.3" x2="670.0" y2="389.3" stroke="#2079b8" stroke-width="1.3"/>
<line x1="650.0" y1="381.3" x2="650.0" y2="397.3" stroke="#2079b8" stroke-width="1.3"/>
<rect x="646.5" y="385.8" width="7" height="7" fill="#2079b8"/>
<polyline points="97.4,343.8 175.2,349.6 253.4,365.5 297.1,383.5 338.0,399.4 357.4,406.0" fill="none" stroke="#f58631" stroke-width="1.3"/>
<line x1="80.4" y1="343.8" x2="114.4" y2="343.8" stroke="#f58631" stroke-width="1.3"/>
<line x1="97.4" y1="325.8" x2="97.4" y2="361.8" stroke="#f58631" stroke-width="1.3"/>
<rect x="93.9" y="340.3" width="7" height="7" fill="#f58631"/>
<line x1="163.6" y1="349.6" x2="186.8" y2="349.6" stroke="#f58631" stroke-width="1.3"/>
<line x1="175.2" y1="335.6" x2="175.2" y2="363.6" stroke="#f58631" stroke-width="1.3"/>
<rect x="171.7" y="346.1" width="7" height="7" fill="#f58631"/>
<line x1="247.4" y1="365.5" x2="259.4" y2="365.5" stroke="#f58631" stroke-width="1.3"/>
<line x1="253.4" y1="355.5" x2="253.4" y2="375.5" stroke="#f58631" stroke-width="1.3"/>
<rect x="249.9" y="362.0" width="7" height="7" fill="#f58631"/>
<line x1="292.1" y1="383.5" x2="302.1" y2="383.5" stroke="#f58631" stroke-width="1.3"/>
<line x1="297.1" y1="375.5" x2="297.1" y2="391.5" stroke="#f58631" stroke-width="1.3"/>
<rect x="293.6" y="380.0" width="7" height="7" fill="#f58631"/>
<line x1="335.0" y1="399.4" x2="341.0" y2="399.4" stroke="#f58631" stroke-width="1.3"/>
<line x1="338.0" y1="393.4" x2="338.0" y2="405.4" stroke="#f58631" stroke-width="1.3"/>
<rect x="334.5" y="395.9" width="7" height="7" fill="#f58631"/>
<line x1="355.4" y1="406.0" x2="359.4" y2="406.0" stroke="#f58631" stroke-width="1.3"/>
<line x1="357.4" y1="400.0" x2="357.4" y2="412.0" stroke="#f58631" stroke-width="1.3"/>
<rect x="353.9" y="402.5" width="7" height="7" fill="#f58631"/>
<polyline points="400.0,327.7 520.0,342.6 650.0,355.5" fill="none" stroke="#f58631" stroke-width="1.3"/>
<line x1="392.0" y1="327.7" x2="408.0" y2="327.7" stroke="#f58631" stroke-width="1.3"/>
<line x1="400.0" y1="321.7" x2="400.0" y2="333.7" stroke="#f58631" stroke-width="1.3"/>
<rect x="396.5" y="324.2" width="7" height="7" fill="#f58631"/>
<line x1="516.0" y1="342.6" x2="524.0" y2="342.6" stroke="#f58631" stroke-width="1.3"/>
<line x1="520.0" y1="330.6" x2="520.0" y2="354.6" stroke="#f58631" stroke-width="1.3"/>
<rect x="516.5" y="339.1" width="7" height="7" fill="#f58631"/>
<line x1="630.0" y1="355.5" x2="670.0" y2="355.5" stroke="#f58631" stroke-width="1.3"/>
<line x1="650.0" y1="347.5" x2="650.0" y2="363.5" stroke="#f58631" stroke-width="1.3"/>
<rect x="646.5" y="352.0" width="7" height="7" fill="#f58631"/>
<polyline points="97.4,362.3 175.2,371.4 253.4,387.7 297.1,402.2 338.0,422.1 357.4,429.3" fill="none" stroke="#2eaa4a" stroke-width="1.3"/>
<line x1="80.4" y1="362.3" x2="114.4" y2="362.3" stroke="#2eaa4a" stroke-width="1.3"/>
<line x1="97.4" y1="340.3" x2="97.4" y2="384.3" stroke="#2eaa4a" stroke-width="1.3"/>
<rect x="93.9" y="358.8" width="7" height="7" fill="#2eaa4a"/>
<line x1="163.6" y1="371.4" x2="186.8" y2="371.4" stroke="#2eaa4a" stroke-width="1.3"/>
<line x1="175.2" y1="349.4" x2="175.2" y2="393.4" stroke="#2eaa4a" stroke-width="1.3"/>
<rect x="171.7" y="367.9" width="7" height="7" fill="#2eaa4a"/>
<line x1="247.4" y1="387.7" x2="259.4" y2="387.7" stroke="#2eaa4a" stroke-width="1.3"/>
<line x1="253.4" y1="369.7" x2="253.4" y2="405.7" stroke="#2eaa4a" stroke-width="1.3"/>
<rect x="249.9" y="384.2" width="7" height="7" fill="#2eaa4a"/>
<line x1="292.1" y1="402.2" x2="302.1" y2="402.2" stroke="#2eaa4a" stroke-width="1.3"/>
<line x1="297.1" y1="388.2" x2="297.1" y2="416.2" stroke="#2eaa4a" stroke-width="1.3"/>
<rect x="293.6" y="398.7" width="7" height="7" fill="#2eaa4a"/>
<line x1="335.0" y1="422.1" x2="341.0" y2="422.1" stroke="#2eaa4a" stroke-width="1.3"/>
<line x1="338.0" y1="412.1" x2="338.0" y2="432.1" stroke="#2eaa4a" stroke-width="1.3"/>
<rect x="334.5" y="418.6" width="7" height="7" fill="#2eaa4a"/>
<line x1="355.4" y1="429.3" x2="359.4" y2="429.3" stroke="#2eaa4a" stroke-width="1.3"/>
<line x1="357.4" y1="421.3" x2="357.4" y2="437.3" stroke="#2eaa4a" stroke-width="1.3"/>
<rect x="353.9" y="425.8" width="7" height="7" fill="#2eaa4a"/>
<polyline points="400.0,343.8 520.0,364.8 650.0,381.4" fill="none" stroke="#2eaa4a" stroke-width="1.3"/>
<line x1="392.0" y1="343.8" x2="408.0" y2="343.8" stroke="#2eaa4a" stroke-width="1.3"/>
<line x1="400.0" y1="337.8" x2="400.0" y2="349.8" stroke="#2eaa4a" stroke-width="1.3"/>
<rect x="396.5" y="340.3" width="7" height="7" fill="#2eaa4a"/>
<line x1="516.0" y1="364.8" x2="524.0" y2="364.8" stroke="#2eaa4a" stroke-width="1.3"/>
<line x1="520.0" y1="350.8" x2="520.0" y2="378.8" stroke="#2eaa4a" stroke-width="1.3"/>
<rect x="516.5" y="361.3" width="7" height="7" fill="#2eaa4a"/>
<line x1="630.0" y1="381.4" x2="670.0" y2="381.4" stroke="#2eaa4a" stroke-width="1.3"/>
<line x1="650.0" y1="371.4" x2="650.0" y2="391.4" stroke="#2eaa4a" stroke-width="1.3"/>
<rect x="646.5" y="377.9" width="7" height="7" fill="#2eaa4a"/>
<polyline points="97.4,314.1 175.2,327.9 253.4,343.3 297.1,364.3 338.0,388.4 357.4,405.2" fill="none" stroke="#db3337" stroke-width="1.3"/>
<line x1="80.4" y1="314.1" x2="114.4" y2="314.1" stroke="#db3337" stroke-width="1.3"/>
<line x1="97.4" y1="300.1" x2="97.4" y2="328.1" stroke="#db3337" stroke-width="1.3"/>
<rect x="93.9" y="310.6" width="7" height="7" fill="#db3337"/>
<line x1="163.6" y1="327.9" x2="186.8" y2="327.9" stroke="#db3337" stroke-width="1.3"/>
<line x1="175.2" y1="311.9" x2="175.2" y2="343.9" stroke="#db3337" stroke-width="1.3"/>
<rect x="171.7" y="324.4" width="7" height="7" fill="#db3337"/>
<line x1="247.4" y1="343.3" x2="259.4" y2="343.3" stroke="#db3337" stroke-width="1.3"/>
<line x1="253.4" y1="331.3" x2="253.4" y2="355.3" stroke="#db3337" stroke-width="1.3"/>
<rect x="249.9" y="339.8" width="7" height="7" fill="#db3337"/>
<line x1="292.1" y1="364.3" x2="302.1" y2="364.3" stroke="#db3337" stroke-width="1.3"/>
<line x1="297.1" y1="352.3" x2="297.1" y2="376.3" stroke="#db3337" stroke-width="1.3"/>
<rect x="293.6" y="360.8" width="7" height="7" fill="#db3337"/>
<line x1="335.0" y1="388.4" x2="341.0" y2="388.4" stroke="#db3337" stroke-width="1.3"/>
<line x1="338.0" y1="372.4" x2="338.0" y2="404.4" stroke="#db3337" stroke-width="1.3"/>
<rect x="334.5" y="384.9" width="7" height="7" fill="#db3337"/>
<line x1="355.4" y1="405.2" x2="359.4" y2="405.2" stroke="#db3337" stroke-width="1.3"/>
<line x1="357.4" y1="389.2" x2="357.4" y2="421.2" stroke="#db3337" stroke-width="1.3"/>
<rect x="353.9" y="401.7" width="7" height="7" fill="#db3337"/>
<polyline points="400.0,305.9 520.0,315.7 650.0,339.1" fill="none" stroke="#db3337" stroke-width="1.3"/>
<line x1="392.0" y1="305.9" x2="408.0" y2="305.9" stroke="#db3337" stroke-width="1.3"/>
<line x1="400.0" y1="295.9" x2="400.0" y2="315.9" stroke="#db3337" stroke-width="1.3"/>
<rect x="396.5" y="302.4" width="7" height="7" fill="#db3337"/>
<line x1="516.0" y1="315.7" x2="524.0" y2="315.7" stroke="#db3337" stroke-width="1.3"/>
<line x1="520.0" y1="305.7" x2="520.0" y2="325.7" stroke="#db3337" stroke-width="1.3"/>
<rect x="516.5" y="312.2" width="7" height="7" fill="#db3337"/>
<line x1="630.0" y1="339.1" x2="670.0" y2="339.1" stroke="#db3337" stroke-width="1.3"/>
<line x1="650.0" y1="331.1" x2="650.0" y2="347.1" stroke="#db3337" stroke-width="1.3"/>
<rect x="646.5" y="335.6" width="7" height="7" fill="#db3337"/>
<polyline points="97.4,302.4 175.2,316.2 253.4,343.1 297.1,367.9 338.0,405.2 357.4,427.4" fill="none" stroke="#876cae" stroke-width="1.3"/>
<line x1="80.4" y1="302.4" x2="114.4" y2="302.4" stroke="#876cae" stroke-width="1.3"/>
<line x1="97.4" y1="294.4" x2="97.4" y2="310.4" stroke="#876cae" stroke-width="1.3"/>
<rect x="93.9" y="298.9" width="7" height="7" fill="#876cae"/>
<line x1="163.6" y1="316.2" x2="186.8" y2="316.2" stroke="#876cae" stroke-width="1.3"/>
<line x1="175.2" y1="304.2" x2="175.2" y2="328.2" stroke="#876cae" stroke-width="1.3"/>
<rect x="171.7" y="312.7" width="7" height="7" fill="#876cae"/>
<line x1="247.4" y1="343.1" x2="259.4" y2="343.1" stroke="#876cae" stroke-width="1.3"/>
<line x1="253.4" y1="325.1" x2="253.4" y2="361.1" stroke="#876cae" stroke-width="1.3"/>
<rect x="249.9" y="339.6" width="7" height="7" fill="#876cae"/>
<line x1="292.1" y1="367.9" x2="302.1" y2="367.9" stroke="#876cae" stroke-width="1.3"/>
<line x1="297.1" y1="345.9" x2="297.1" y2="389.9" stroke="#876cae" stroke-width="1.3"/>
<rect x="293.6" y="364.4" width="7" height="7" fill="#876cae"/>
<line x1="335.0" y1="405.2" x2="341.0" y2="405.2" stroke="#876cae" stroke-width="1.3"/>
<line x1="338.0" y1="391.2" x2="338.0" y2="419.2" stroke="#876cae" stroke-width="1.3"/>
<rect x="334.5" y="401.7" width="7" height="7" fill="#876cae"/>
<line x1="355.4" y1="427.4" x2="359.4" y2="427.4" stroke="#876cae" stroke-width="1.3"/>
<line x1="357.4" y1="415.4" x2="357.4" y2="439.4" stroke="#876cae" stroke-width="1.3"/>
<rect x="353.9" y="423.9" width="7" height="7" fill="#876cae"/>
<polyline points="400.0,278.8 520.0,306.6 650.0,327.4" fill="none" stroke="#876cae" stroke-width="1.3"/>
<line x1="392.0" y1="278.8" x2="408.0" y2="278.8" stroke="#876cae" stroke-width="1.3"/>
<line x1="400.0" y1="274.8" x2="400.0" y2="282.8" stroke="#876cae" stroke-width="1.3"/>
<rect x="396.5" y="275.3" width="7" height="7" fill="#876cae"/>
<line x1="516.0" y1="306.6" x2="524.0" y2="306.6" stroke="#876cae" stroke-width="1.3"/>
<line x1="520.0" y1="298.6" x2="520.0" y2="314.6" stroke="#876cae" stroke-width="1.3"/>
<rect x="516.5" y="303.1" width="7" height="7" fill="#876cae"/>
<line x1="630.0" y1="327.4" x2="670.0" y2="327.4" stroke="#876cae" stroke-width="1.3"/>
<line x1="650.0" y1="319.4" x2="650.0" y2="335.4" stroke="#876cae" stroke-width="1.3"/>
<rect x="646.5" y="323.9" width="7" height="7" fill="#876cae"/>
<polyline points="97.4,395.2 175.2,399.9 253.4,409.2 297.1,422.8 338.0,436.3 357.4,447.8" fill="none" stroke="#b5bb3b" stroke-width="1.3"/>
<line x1="80.4" y1="395.2" x2="114.4" y2="395.2" stroke="#b5bb3b" stroke-width="1.3"/>
<line x1="97.4" y1="389.2" x2="97.4" y2="401.2" stroke="#b5bb3b" stroke-width="1.3"/>
<rect x="93.9" y="391.7" width="7" height="7" fill="#b5bb3b"/>
<line x1="163.6" y1="399.9" x2="186.8" y2="399.9" stroke="#b5bb3b" stroke-width="1.3"/>
<line x1="175.2" y1="391.9" x2="175.2" y2="407.9" stroke="#b5bb3b" stroke-width="1.3"/>
<rect x="171.7" y="396.4" width="7" height="7" fill="#b5bb3b"/>
<line x1="247.4" y1="409.2" x2="259.4" y2="409.2" stroke="#b5bb3b" stroke-width="1.3"/>
<line x1="253.4" y1="401.2" x2="253.4" y2="417.2" stroke="#b5bb3b" stroke-width="1.3"/>
<rect x="249.9" y="405.7" width="7" height="7" fill="#b5bb3b"/>
<line x1="292.1" y1="422.8" x2="302.1" y2="422.8" stroke="#b5bb3b" stroke-width="1.3"/>
<line x1="297.1" y1="412.8" x2="297.1" y2="432.8" stroke="#b5bb3b" stroke-width="1.3"/>
<rect x="293.6" y="419.3" width="7" height="7" fill="#b5bb3b"/>
<line x1="335.0" y1="436.3" x2="341.0" y2="436.3" stroke="#b5bb3b" stroke-width="1.3"/>
<line x1="338.0" y1="426.3" x2="338.0" y2="446.3" stroke="#b5bb3b" stroke-width="1.3"/>
<rect x="334.5" y="432.8" width="7" height="7" fill="#b5bb3b"/>
<line x1="355.4" y1="447.8" x2="359.4" y2="447.8" stroke="#b5bb3b" stroke-width="1.3"/>
<line x1="357.4" y1="439.8" x2="357.4" y2="455.8" stroke="#b5bb3b" stroke-width="1.3"/>
<rect x="353.9" y="444.3" width="7" height="7" fill="#b5bb3b"/>
<polyline points="400.0,378.4 520.0,398.9 650.0,407.8" fill="none" stroke="#b5bb3b" stroke-width="1.3"/>
<line x1="392.0" y1="378.4" x2="408.0" y2="378.4" stroke="#b5bb3b" stroke-width="1.3"/>
<line x1="400.0" y1="372.4" x2="400.0" y2="384.4" stroke="#b5bb3b" stroke-width="1.3"/>
<rect x="396.5" y="374.9" width="7" height="7" fill="#b5bb3b"/>
<line x1="516.0" y1="398.9" x2="524.0" y2="398.9" stroke="#b5bb3b" stroke-width="1.3"/>
<line x1="520.0" y1="390.9" x2="520.0" y2="406.9" stroke="#b5bb3b" stroke-width="1.3"/>
<rect x="516.5" y="395.4" width="7" height="7" fill="#b5bb3b"/>
<line x1="630.0" y1="407.8" x2="670.0" y2="407.8" stroke="#b5bb3b" stroke-width="1.3"/>
<line x1="650.0" y1="399.8" x2="650.0" y2="415.8" stroke="#b5bb3b" stroke-width="1.3"/>
<rect x="646.5" y="404.3" width="7" height="7" fill="#b5bb3b"/>
<polyline points="97.4,433.7 175.2,444.3 253.4,457.1 297.1,461.3 338.0,465.0 357.4,465.5" fill="none" stroke="#5ec8d6" stroke-width="1.3"/>
<line x1="80.4" y1="433.7" x2="114.4" y2="433.7" stroke="#5ec8d6" stroke-width="1.3"/>
<line x1="97.4" y1="430.7" x2="97.4" y2="436.7" stroke="#5ec8d6" stroke-width="1.3"/>
<rect x="93.9" y="430.2" width="7" height="7" fill="#5ec8d6"/>
<line x1="163.6" y1="444.3" x2="186.8" y2="444.3" stroke="#5ec8d6" stroke-width="1.3"/>
<line x1="175.2" y1="441.3" x2="175.2" y2="447.3" stroke="#5ec8d6" stroke-width="1.3"/>
<rect x="171.7" y="440.8" width="7" height="7" fill="#5ec8d6"/>
<line x1="247.4" y1="457.1" x2="259.4" y2="457.1" stroke="#5ec8d6" stroke-width="1.3"/>
<line x1="253.4" y1="454.1" x2="253.4" y2="460.1" stroke="#5ec8d6" stroke-width="1.3"/>
<rect x="249.9" y="453.6" width="7" height="7" fill="#5ec8d6"/>
<line x1="292.1" y1="461.3" x2="302.1" y2="461.3" stroke="#5ec8d6" stroke-width="1.3"/>
<line x1="297.1" y1="459.3" x2="297.1" y2="463.3" stroke="#5ec8d6" stroke-width="1.3"/>
<rect x="293.6" y="457.8" width="7" height="7" fill="#5ec8d6"/>
<line x1="335.0" y1="465.0" x2="341.0" y2="465.0" stroke="#5ec8d6" stroke-width="1.3"/>
<line x1="338.0" y1="464.0" x2="338.0" y2="466.0" stroke="#5ec8d6" stroke-width="1.3"/>
<rect x="334.5" y="461.5" width="7" height="7" fill="#5ec8d6"/>
<line x1="355.4" y1="465.5" x2="359.4" y2="465.5" stroke="#5ec8d6" stroke-width="1.3"/>
<line x1="357.4" y1="464.5" x2="357.4" y2="466.5" stroke="#5ec8d6" stroke-width="1.3"/>
<rect x="353.9" y="462.0" width="7" height="7" fill="#5ec8d6"/>
<polyline points="400.0,415.3 520.0,434.9 650.0,448.0" fill="none" stroke="#5ec8d6" stroke-width="1.3"/>
<line x1="392.0" y1="415.3" x2="408.0" y2="415.3" stroke="#5ec8d6" stroke-width="1.3"/>
<line x1="400.0" y1="407.3" x2="400.0" y2="423.3" stroke="#5ec8d6" stroke-width="1.3"/>
<rect x="396.5" y="411.8" width="7" height="7" fill="#5ec8d6"/>
<line x1="516.0" y1="434.9" x2="524.0" y2="434.9" stroke="#5ec8d6" stroke-width="1.3"/>
<line x1="520.0" y1="428.9" x2="520.0" y2="440.9" stroke="#5ec8d6" stroke-width="1.3"/>
<rect x="516.5" y="431.4" width="7" height="7" fill="#5ec8d6"/>
<line x1="630.0" y1="448.0" x2="670.0" y2="448.0" stroke="#5ec8d6" stroke-width="1.3"/>
<line x1="650.0" y1="442.0" x2="650.0" y2="454.0" stroke="#5ec8d6" stroke-width="1.3"/>
<rect x="646.5" y="444.5" width="7" height="7" fill="#5ec8d6"/>
<polyline points="97.4,432.8 175.2,435.6 253.4,443.3 297.1,448.9 338.0,455.5 357.4,460.1" fill="none" stroke="#87554c" stroke-width="1.3"/>
<line x1="80.4" y1="432.8" x2="114.4" y2="432.8" stroke="#87554c" stroke-width="1.3"/>
<line x1="97.4" y1="428.8" x2="97.4" y2="436.8" stroke="#87554c" stroke-width="1.3"/>
<rect x="93.9" y="429.3" width="7" height="7" fill="#87554c"/>
<line x1="163.6" y1="435.6" x2="186.8" y2="435.6" stroke="#87554c" stroke-width="1.3"/>
<line x1="175.2" y1="432.6" x2="175.2" y2="438.6" stroke="#87554c" stroke-width="1.3"/>
<rect x="171.7" y="432.1" width="7" height="7" fill="#87554c"/>
<line x1="247.4" y1="443.3" x2="259.4" y2="443.3" stroke="#87554c" stroke-width="1.3"/>
<line x1="253.4" y1="440.3" x2="253.4" y2="446.3" stroke="#87554c" stroke-width="1.3"/>
<rect x="249.9" y="439.8" width="7" height="7" fill="#87554c"/>
<line x1="292.1" y1="448.9" x2="302.1" y2="448.9" stroke="#87554c" stroke-width="1.3"/>
<line x1="297.1" y1="445.9" x2="297.1" y2="451.9" stroke="#87554c" stroke-width="1.3"/>
<rect x="293.6" y="445.4" width="7" height="7" fill="#87554c"/>
<line x1="335.0" y1="455.5" x2="341.0" y2="455.5" stroke="#87554c" stroke-width="1.3"/>
<line x1="338.0" y1="451.5" x2="338.0" y2="459.5" stroke="#87554c" stroke-width="1.3"/>
<rect x="334.5" y="452.0" width="7" height="7" fill="#87554c"/>
<line x1="355.4" y1="460.1" x2="359.4" y2="460.1" stroke="#87554c" stroke-width="1.3"/>
<line x1="357.4" y1="456.1" x2="357.4" y2="464.1" stroke="#87554c" stroke-width="1.3"/>
<rect x="353.9" y="456.6" width="7" height="7" fill="#87554c"/>
<polyline points="400.0,424.6 520.0,434.4 650.0,427.4" fill="none" stroke="#87554c" stroke-width="1.3"/>
<line x1="392.0" y1="424.6" x2="408.0" y2="424.6" stroke="#87554c" stroke-width="1.3"/>
<line x1="400.0" y1="418.6" x2="400.0" y2="430.6" stroke="#87554c" stroke-width="1.3"/>
<rect x="396.5" y="421.1" width="7" height="7" fill="#87554c"/>
<line x1="516.0" y1="434.4" x2="524.0" y2="434.4" stroke="#87554c" stroke-width="1.3"/>
<line x1="520.0" y1="428.4" x2="520.0" y2="440.4" stroke="#87554c" stroke-width="1.3"/>
<rect x="516.5" y="430.9" width="7" height="7" fill="#87554c"/>
<line x1="630.0" y1="427.4" x2="670.0" y2="427.4" stroke="#87554c" stroke-width="1.3"/>
<line x1="650.0" y1="423.4" x2="650.0" y2="431.4" stroke="#87554c" stroke-width="1.3"/>
<rect x="646.5" y="423.9" width="7" height="7" fill="#87554c"/>
<polyline points="97.4,465.5 175.2,465.5 253.4,465.5 297.1,465.5 338.0,465.5 357.4,465.5" fill="none" stroke="#cd78b2" stroke-width="1.3"/>
<line x1="80.4" y1="465.5" x2="114.4" y2="465.5" stroke="#cd78b2" stroke-width="1.3"/>
<rect x="93.9" y="462.0" width="7" height="7" fill="#cd78b2"/>
<line x1="163.6" y1="465.5" x2="186.8" y2="465.5" stroke="#cd78b2" stroke-width="1.3"/>
<rect x="171.7" y="462.0" width="7" height="7" fill="#cd78b2"/>
<line x1="247.4" y1="465.5" x2="259.4" y2="465.5" stroke="#cd78b2" stroke-width="1.3"/>
<rect x="249.9" y="462.0" width="7" height="7" fill="#cd78b2"/>
<line x1="292.1" y1="465.5" x2="302.1" y2="465.5" stroke="#cd78b2" stroke-width="1.3"/>
<rect x="293.6" y="462.0" width="7" height="7" fill="#cd78b2"/>
<line x1="335.0" y1="465.5" x2="341.0" y2="465.5" stroke="#cd78b2" stroke-width="1.3"/>
<rect x="334.5" y="462.0" width="7" height="7" fill="#cd78b2"/>
<line x1="355.4" y1="465.5" x2="359.4" y2="465.5" stroke="#cd78b2" stroke-width="1.3"/>
<rect x="353.9" y="462.0" width="7" height="7" fill="#cd78b2"/>
<polyline points="400.0,365.3 520.0,464.8 650.0,464.3" fill="none" stroke="#cd78b2" stroke-width="1.3"/>
<line x1="392.0" y1="365.3" x2="408.0" y2="365.3" stroke="#cd78b2" stroke-width="1.3"/>
<line x1="400.0" y1="347.3" x2="400.0" y2="383.3" stroke="#cd78b2" stroke-width="1.3"/>
<rect x="396.5" y="361.8" width="7" height="7" fill="#cd78b2"/>
<line x1="516.0" y1="464.8" x2="524.0" y2="464.8" stroke="#cd78b2" stroke-width="1.3"/>
<rect x="516.5" y="461.3" width="7" height="7" fill="#cd78b2"/>
<line x1="630.0" y1="464.3" x2="670.0" y2="464.3" stroke="#cd78b2" stroke-width="1.3"/>
<rect x="646.5" y="460.8" width="7" height="7" fill="#cd78b2"/>
<polyline points="97.4,263.6 175.2,263.9 253.4,269.7 297.1,279.1 338,291.9 357.4,307.1" fill="none" stroke="#111" stroke-width="1.2" stroke-dasharray="10,4.5"/>
<line x1="97.4" y1="262.6" x2="97.4" y2="264.6" stroke="#111" stroke-width="1.3"/>
<line x1="94.9" y1="263.6" x2="99.9" y2="263.6" stroke="#111" stroke-width="1.3"/>
<circle cx="97.4" cy="263.6" r="1.8" fill="#111"/>
<line x1="175.2" y1="262.9" x2="175.2" y2="264.9" stroke="#111" stroke-width="1.3"/>
<line x1="172.7" y1="263.9" x2="177.7" y2="263.9" stroke="#111" stroke-width="1.3"/>
<circle cx="175.2" cy="263.9" r="1.8" fill="#111"/>
<line x1="253.4" y1="267.7" x2="253.4" y2="271.7" stroke="#111" stroke-width="1.3"/>
<line x1="250.9" y1="269.7" x2="255.9" y2="269.7" stroke="#111" stroke-width="1.3"/>
<circle cx="253.4" cy="269.7" r="1.8" fill="#111"/>
<line x1="297.1" y1="275.1" x2="297.1" y2="283.1" stroke="#111" stroke-width="1.3"/>
<line x1="294.6" y1="279.1" x2="299.6" y2="279.1" stroke="#111" stroke-width="1.3"/>
<circle cx="297.1" cy="279.1" r="1.8" fill="#111"/>
<line x1="338" y1="285.9" x2="338" y2="297.9" stroke="#111" stroke-width="1.3"/>
<line x1="335.5" y1="291.9" x2="340.5" y2="291.9" stroke="#111" stroke-width="1.3"/>
<circle cx="338" cy="291.9" r="1.8" fill="#111"/>
<line x1="357.4" y1="299.1" x2="357.4" y2="315.1" stroke="#111" stroke-width="1.3"/>
<line x1="354.9" y1="307.1" x2="359.9" y2="307.1" stroke="#111" stroke-width="1.3"/>
<circle cx="357.4" cy="307.1" r="1.8" fill="#111"/>
<line x1="377" y1="263.6" x2="684" y2="263.6" stroke="#111" stroke-width="1.2" stroke-dasharray="10,4.5"/>
<circle cx="400" cy="263.6" r="1.8" fill="#111"/>
<line x1="397.5" y1="263.6" x2="402.5" y2="263.6" stroke="#111" stroke-width="1.3"/>
<circle cx="520" cy="263.6" r="1.8" fill="#111"/>
<line x1="517.5" y1="263.6" x2="522.5" y2="263.6" stroke="#111" stroke-width="1.3"/>
<circle cx="650" cy="263.6" r="1.8" fill="#111"/>
<line x1="647.5" y1="263.6" x2="652.5" y2="263.6" stroke="#111" stroke-width="1.3"/>
<rect x="66" y="263" width="307" height="203.0" fill="none" stroke="#231f20" stroke-width="1.5"/>
<rect x="377" y="263" width="307" height="203.0" fill="none" stroke="#231f20" stroke-width="1.5"/>
<rect x="63" y="466.5" width="310" height="30" fill="#d1d2d4"/>
<rect x="375.5" y="466.5" width="309.5" height="30" fill="#d1d2d4"/>
<rect x="63" y="497" width="622" height="28" fill="#eeefef"/>
<line x1="63" y1="496.3" x2="372.5" y2="496.3" stroke="#231f20" stroke-width="1.3"/>
<line x1="375.5" y1="496.3" x2="685" y2="496.3" stroke="#231f20" stroke-width="1.3"/>
<line x1="75.2" y1="496.3" x2="75.2" y2="498" stroke="#231f20" stroke-width="0.9"/>
<line x1="86.8" y1="496.3" x2="86.8" y2="498" stroke="#231f20" stroke-width="0.9"/>
<line x1="98.4" y1="496.3" x2="98.4" y2="498" stroke="#231f20" stroke-width="0.9"/>
<line x1="110.0" y1="496.3" x2="110.0" y2="498" stroke="#231f20" stroke-width="0.9"/>
<line x1="121.6" y1="496.3" x2="121.6" y2="498" stroke="#231f20" stroke-width="0.9"/>
<line x1="133.2" y1="496.3" x2="133.2" y2="498" stroke="#231f20" stroke-width="0.9"/>
<line x1="144.8" y1="496.3" x2="144.8" y2="498" stroke="#231f20" stroke-width="0.9"/>
<line x1="156.4" y1="496.3" x2="156.4" y2="498" stroke="#231f20" stroke-width="0.9"/>
<line x1="168.0" y1="496.3" x2="168.0" y2="498" stroke="#231f20" stroke-width="0.9"/>
<line x1="179.6" y1="496.3" x2="179.6" y2="498" stroke="#231f20" stroke-width="0.9"/>
<line x1="191.2" y1="496.3" x2="191.2" y2="498" stroke="#231f20" stroke-width="0.9"/>
<line x1="202.8" y1="496.3" x2="202.8" y2="498" stroke="#231f20" stroke-width="0.9"/>
<line x1="214.4" y1="496.3" x2="214.4" y2="498" stroke="#231f20" stroke-width="0.9"/>
<line x1="226.0" y1="496.3" x2="226.0" y2="498" stroke="#231f20" stroke-width="0.9"/>
<line x1="237.6" y1="496.3" x2="237.6" y2="498" stroke="#231f20" stroke-width="0.9"/>
<line x1="249.2" y1="496.3" x2="249.2" y2="498" stroke="#231f20" stroke-width="0.9"/>
<line x1="260.8" y1="496.3" x2="260.8" y2="498" stroke="#231f20" stroke-width="0.9"/>
<line x1="272.4" y1="496.3" x2="272.4" y2="498" stroke="#231f20" stroke-width="0.9"/>
<line x1="284.0" y1="496.3" x2="284.0" y2="498" stroke="#231f20" stroke-width="0.9"/>
<line x1="295.6" y1="496.3" x2="295.6" y2="498" stroke="#231f20" stroke-width="0.9"/>
<line x1="307.2" y1="496.3" x2="307.2" y2="498" stroke="#231f20" stroke-width="0.9"/>
<line x1="318.8" y1="496.3" x2="318.8" y2="498" stroke="#231f20" stroke-width="0.9"/>
<line x1="330.4" y1="496.3" x2="330.4" y2="498" stroke="#231f20" stroke-width="0.9"/>
<line x1="342.0" y1="496.3" x2="342.0" y2="498" stroke="#231f20" stroke-width="0.9"/>
<line x1="353.6" y1="496.3" x2="353.6" y2="498" stroke="#231f20" stroke-width="0.9"/>
<line x1="365.2" y1="496.3" x2="365.2" y2="498" stroke="#231f20" stroke-width="0.9"/>
<text x="119.0" y="479.5" font-size="14.5" text-anchor="middle" font-weight="normal" fill="#231f20" >20</text>
<text x="182.4" y="479.5" font-size="14.5" text-anchor="middle" font-weight="normal" fill="#231f20" >15</text>
<text x="250.0" y="479.5" font-size="14.5" text-anchor="middle" font-weight="normal" fill="#231f20" >10</text>
<text x="312.7" y="479.5" font-size="14.5" text-anchor="middle" font-weight="normal" fill="#231f20" >5</text>
<text x="371.8" y="479.5" font-size="14.5" text-anchor="middle" font-weight="normal" fill="#231f20" >0</text>
<text x="210.8" y="492.0" font-size="14.9" text-anchor="middle" font-weight="normal" fill="#231f20" textLength="122.4" lengthAdjust="spacingAndGlyphs">ctDNA fraction (%)</text>
<text x="399.7" y="479.5" font-size="14.5" text-anchor="middle" font-weight="normal" fill="#231f20" >75</text>
<text x="441.3" y="479.5" font-size="14.5" text-anchor="middle" font-weight="normal" fill="#231f20" >100</text>
<text x="482.8" y="479.5" font-size="14.5" text-anchor="middle" font-weight="normal" fill="#231f20" >125</text>
<text x="524.3" y="479.5" font-size="14.5" text-anchor="middle" font-weight="normal" fill="#231f20" >150</text>
<text x="565.9" y="479.5" font-size="14.5" text-anchor="middle" font-weight="normal" fill="#231f20" >175</text>
<text x="606.8" y="479.5" font-size="14.5" text-anchor="middle" font-weight="normal" fill="#231f20" >200</text>
<text x="648.4" y="479.5" font-size="14.5" text-anchor="middle" font-weight="normal" fill="#231f20" >225</text>
<text x="532.0" y="492.0" font-size="14.9" text-anchor="middle" font-weight="normal" fill="#231f20" >effective depth of coverage (x)</text>
<text x="115.0" y="511.4" font-size="14.5" text-anchor="middle" font-weight="normal" fill="#231f20" >150</text>
<text x="182.3" y="511.4" font-size="14.5" text-anchor="middle" font-weight="normal" fill="#231f20" >150</text>
<text x="249.2" y="511.4" font-size="14.5" text-anchor="middle" font-weight="normal" fill="#231f20" >150</text>
<text x="312.7" y="511.4" font-size="14.5" text-anchor="middle" font-weight="normal" fill="#231f20" >150</text>
<text x="363.0" y="511.4" font-size="14.5" text-anchor="middle" font-weight="normal" fill="#231f20" >150</text>
<text x="227.9" y="524.0" font-size="14.9" text-anchor="middle" font-weight="normal" fill="#231f20" textLength="204" lengthAdjust="spacingAndGlyphs">effective depth of coverage (x)</text>
<text x="399.6" y="511.4" font-size="14.5" text-anchor="middle" font-weight="normal" fill="#231f20" >45</text>
<text x="518.2" y="511.4" font-size="14.5" text-anchor="middle" font-weight="normal" fill="#231f20" >22</text>
<text x="648.9" y="511.4" font-size="14.5" text-anchor="middle" font-weight="normal" fill="#231f20" >15</text>
<text x="536.0" y="524.0" font-size="14.9" text-anchor="middle" font-weight="normal" fill="#231f20" >ctDNA fraction (%)</text>
<rect x="3.4" y="531.3" width="117.2" height="206.1" rx="2.5" fill="#fff" stroke="#d0d0d0" stroke-width="1"/>
<line x1="6.3" y1="547.8" x2="37.8" y2="547.8" stroke="#2079b8" stroke-width="1.2" stroke-opacity="0.85"/>
<line x1="22.0" y1="541.5" x2="22.0" y2="554.0999999999999" stroke="#2079b8" stroke-width="1.3"/>
<rect x="16.0" y="542.9" width="12" height="9.8" fill="#2079b8"/>
<text x="41.3" y="552.4" font-size="12.8" text-anchor="start" font-weight="normal" fill="#231f20" >FreeBayes</text>
<line x1="6.3" y1="566.3" x2="37.8" y2="566.3" stroke="#f58631" stroke-width="1.2" stroke-opacity="0.85"/>
<line x1="22.0" y1="560.0" x2="22.0" y2="572.5999999999999" stroke="#f58631" stroke-width="1.3"/>
<rect x="16.0" y="561.4" width="12" height="9.8" fill="#f58631"/>
<text x="41.3" y="570.9" font-size="12.8" text-anchor="start" font-weight="normal" fill="#231f20" >Mutect2</text>
<line x1="6.3" y1="584.7" x2="37.8" y2="584.7" stroke="#2eaa4a" stroke-width="1.2" stroke-opacity="0.85"/>
<line x1="22.0" y1="578.4000000000001" x2="22.0" y2="591.0" stroke="#2eaa4a" stroke-width="1.3"/>
<rect x="16.0" y="579.8000000000001" width="12" height="9.8" fill="#2eaa4a"/>
<text x="41.3" y="589.3" font-size="12.8" text-anchor="start" font-weight="normal" fill="#231f20" >Strelka2</text>
<line x1="6.3" y1="603.2" x2="37.8" y2="603.2" stroke="#db3337" stroke-width="1.2" stroke-opacity="0.85"/>
<line x1="22.0" y1="596.9000000000001" x2="22.0" y2="609.5" stroke="#db3337" stroke-width="1.3"/>
<rect x="16.0" y="598.3000000000001" width="12" height="9.8" fill="#db3337"/>
<text x="41.3" y="607.8" font-size="12.8" text-anchor="start" font-weight="normal" fill="#231f20" >VarDict</text>
<line x1="6.3" y1="621.5" x2="37.8" y2="621.5" stroke="#876cae" stroke-width="1.2" stroke-opacity="0.85"/>
<line x1="22.0" y1="615.2" x2="22.0" y2="627.8" stroke="#876cae" stroke-width="1.3"/>
<rect x="16.0" y="616.6" width="12" height="9.8" fill="#876cae"/>
<text x="41.3" y="626.1" font-size="12.8" text-anchor="start" font-weight="normal" fill="#231f20" >VarScan</text>
<line x1="8.0" y1="639.8" x2="37.8" y2="639.8" stroke="#b5bb3b" stroke-width="1.2" stroke-opacity="0.85"/>
<line x1="23.0" y1="633.5" x2="23.0" y2="646.0999999999999" stroke="#b5bb3b" stroke-width="1.3"/>
<rect x="17.0" y="634.9" width="12" height="9.8" fill="#b5bb3b"/>
<text x="41.3" y="644.4" font-size="12.8" text-anchor="start" font-weight="normal" fill="#231f20" >SMuRF</text>
<line x1="8.0" y1="657.3" x2="37.8" y2="657.3" stroke="#5ec8d6" stroke-width="1.2" stroke-opacity="0.85"/>
<line x1="23.0" y1="651.0" x2="23.0" y2="663.5999999999999" stroke="#5ec8d6" stroke-width="1.3"/>
<rect x="17.0" y="652.4" width="12" height="9.8" fill="#5ec8d6"/>
<text x="41.3" y="661.9" font-size="12.8" text-anchor="start" font-weight="normal" fill="#231f20" >VarNet</text>
<line x1="8.0" y1="673.3" x2="37.8" y2="673.3" stroke="#87554c" stroke-width="1.2" stroke-opacity="0.85"/>
<line x1="23.0" y1="667.0" x2="23.0" y2="679.5999999999999" stroke="#87554c" stroke-width="1.3"/>
<rect x="17.0" y="668.4" width="12" height="9.8" fill="#87554c"/>
<text x="41.3" y="677.9" font-size="12.8" text-anchor="start" font-weight="normal" fill="#231f20" >ABEMUS</text>
<line x1="8.0" y1="691.4" x2="37.8" y2="691.4" stroke="#cd78b2" stroke-width="1.2" stroke-opacity="0.85"/>
<line x1="23.0" y1="685.1" x2="23.0" y2="697.6999999999999" stroke="#cd78b2" stroke-width="1.3"/>
<rect x="17.0" y="686.5" width="12" height="9.8" fill="#cd78b2"/>
<text x="41.3" y="696.0" font-size="12.8" text-anchor="start" font-weight="normal" fill="#231f20" >SiNVICT</text>
<line x1="7" y1="721.7" x2="38" y2="721.7" stroke="#111" stroke-width="1.2" stroke-dasharray="3,2.5"/>
<line x1="22.5" y1="715" x2="22.5" y2="728.5" stroke="#111" stroke-width="1.3"/>
<circle cx="22.5" cy="721.7" r="1.8" fill="#111"/>
<text x="41.3" y="715.5" font-size="10.8" text-anchor="start" font-weight="normal" fill="#231f20" textLength="73.4" lengthAdjust="spacingAndGlyphs">max sensitivity</text>
<text x="41.3" y="733.5" font-size="10.8" text-anchor="start" font-weight="normal" fill="#231f20" textLength="68.4" lengthAdjust="spacingAndGlyphs">= max AUPRC</text>
<rect x="3.4" y="768.5" width="117.1" height="89.2" rx="2.5" fill="#fff" stroke="#d0d0d0" stroke-width="1"/>
<text x="6.3" y="784.7" font-size="13.4" text-anchor="start" font-weight="bold" fill="#231f20" >n ground truths</text>
<text x="6.3" y="800.8" font-size="13.4" text-anchor="start" font-weight="normal" fill="#231f20" >Patient 986 = 206</text>
<text x="6.3" y="816.9" font-size="13.4" text-anchor="start" font-weight="normal" fill="#231f20" >Patient 1014 = 361</text>
<text x="6.3" y="833.0" font-size="13.4" text-anchor="start" font-weight="normal" fill="#231f20" >Patient 123 = 453</text>
<text x="6.3" y="849.1" font-size="13.4" text-anchor="start" font-weight="normal" fill="#231f20" >Patient 412 = 285</text>
<clipPath id="cp1"><rect x="153.2" y="557.1" width="169.10000000000002" height="168.19999999999993"/></clipPath>
<g clip-path="url(#cp1)">
<polyline points="212.60,-307.64 224.97,695.58 234.21,705.61 241.59,709.00 247.73,710.70 252.99,711.73 257.59,712.41 261.67,712.90 265.35,713.27 268.69,713.55 271.75,713.78 274.58,713.97 277.21,714.12 279.66,714.26 281.95,714.37 284.11,714.47 286.15,714.55 288.09,714.63 289.92,714.70 291.67,714.76 293.34,714.81 294.94,714.86 296.47,714.91 297.94,714.95 299.35,714.98 300.71,715.02 302.03,715.05 303.29,715.08 304.52,715.11 305.70,715.13 306.85,715.16 307.96,715.18 309.04,715.20 310.09,715.22 311.11,715.24 312.10,715.25 313.07,715.27 314.01,715.29 314.93,715.30 315.83,715.32 316.70,715.33 317.55,715.34 318.39,715.35 319.21,715.36 320.00,715.38 320.79,715.39 321.55,715.40 322.30,715.41" fill="none" stroke="#a6a6a6" stroke-width="1.35"/>
<polyline points="241.59,555.86 247.73,653.97 252.99,675.00 257.59,684.16 261.67,689.29 265.35,692.58 268.69,694.85 271.75,696.53 274.58,697.81 277.21,698.83 279.66,699.65 281.95,700.33 284.11,700.90 286.15,701.38 288.09,701.80 289.92,702.17 291.67,702.49 293.34,702.78 294.94,703.03 296.47,703.26 297.94,703.46 299.35,703.65 300.71,703.82 302.03,703.98 303.29,704.12 304.52,704.25 305.70,704.37 306.85,704.49 307.96,704.59 309.04,704.69 310.09,704.78 311.11,704.87 312.10,704.95 313.07,705.02 314.01,705.10 314.93,705.16 315.83,705.23 316.70,705.29 317.55,705.34 318.39,705.40 319.21,705.45 320.00,705.50 320.79,705.55 321.55,705.59 322.30,705.63" fill="none" stroke="#a6a6a6" stroke-width="1.35"/>
<polyline points="252.99,-1932.69 257.59,525.34 261.67,609.27 265.35,638.53 268.69,653.42 271.75,662.44 274.58,668.48 277.21,672.82 279.66,676.08 281.95,678.62 284.11,680.66 286.15,682.33 288.09,683.72 289.92,684.90 291.67,685.91 293.34,686.79 294.94,687.56 296.47,688.23 297.94,688.84 299.35,689.38 300.71,689.86 302.03,690.30 303.29,690.70 304.52,691.07 305.70,691.40 306.85,691.71 307.96,692.00 309.04,692.26 310.09,692.51 311.11,692.73 312.10,692.95 313.07,693.15 314.01,693.33 314.93,693.51 315.83,693.67 316.70,693.83 317.55,693.98 318.39,694.12 319.21,694.25 320.00,694.37 320.79,694.49 321.55,694.60 322.30,694.71" fill="none" stroke="#a6a6a6" stroke-width="1.35"/>
<polyline points="265.35,135.67 268.69,483.49 271.75,563.34 274.58,598.78 277.21,618.80 279.66,631.66 281.95,640.62 284.11,647.23 286.15,652.29 288.09,656.30 289.92,659.56 291.67,662.25 293.34,664.52 294.94,666.45 296.47,668.11 297.94,669.57 299.35,670.85 300.71,671.98 302.03,672.99 303.29,673.90 304.52,674.72 305.70,675.46 306.85,676.14 307.96,676.76 309.04,677.33 310.09,677.86 311.11,678.34 312.10,678.79 313.07,679.21 314.01,679.60 314.93,679.97 315.83,680.31 316.70,680.63 317.55,680.93 318.39,681.22 319.21,681.49 320.00,681.74 320.79,681.98 321.55,682.21 322.30,682.42" fill="none" stroke="#a6a6a6" stroke-width="1.35"/>
<polyline points="271.75,-3582.11 274.58,221.39 277.21,438.74 279.66,516.81 281.95,557.00 284.11,581.49 286.15,597.98 288.09,609.84 289.92,618.78 291.67,625.75 293.34,631.35 294.94,635.95 296.47,639.78 297.94,643.03 299.35,645.82 300.71,648.24 302.03,650.36 303.29,652.23 304.52,653.90 305.70,655.39 306.85,656.74 307.96,657.95 309.04,659.06 310.09,660.07 311.11,661.00 312.10,661.85 313.07,662.64 314.01,663.37 314.93,664.04 315.83,664.67 316.70,665.26 317.55,665.82 318.39,666.33 319.21,666.82 320.00,667.28 320.79,667.71 321.55,668.11 322.30,668.50" fill="none" stroke="#a6a6a6" stroke-width="1.35"/>
<polyline points="279.66,-477.35 281.95,221.98 284.11,392.81 286.15,469.94 288.09,513.87 289.92,542.24 291.67,562.08 293.34,576.72 294.94,587.98 296.47,596.91 297.94,604.15 299.35,610.16 300.71,615.21 302.03,619.52 303.29,623.25 304.52,626.50 305.70,629.35 306.85,631.89 307.96,634.15 309.04,636.18 310.09,638.02 311.11,639.68 312.10,641.20 313.07,642.59 314.01,643.87 314.93,645.05 315.83,646.14 316.70,647.15 317.55,648.09 318.39,648.96 319.21,649.78 320.00,650.55 320.79,651.27 321.55,651.95 322.30,652.59" fill="none" stroke="#a6a6a6" stroke-width="1.35"/>
<polyline points="284.11,-5234.39 286.15,-198.96 288.09,199.20 289.92,346.28 291.67,422.85 293.34,469.81 294.94,501.55 296.47,524.44 297.94,541.73 299.35,555.25 300.71,566.11 302.03,575.03 303.29,582.48 304.52,588.80 305.70,594.22 306.85,598.94 307.96,603.07 309.04,606.71 310.09,609.96 311.11,612.87 312.10,615.49 313.07,617.86 314.01,620.02 314.93,621.99 315.83,623.80 316.70,625.47 317.55,627.00 318.39,628.43 319.21,629.75 320.00,630.98 320.79,632.14 321.55,633.21 322.30,634.22" fill="none" stroke="#a6a6a6" stroke-width="1.35"/>
<polyline points="289.92,-1241.28 291.67,-122.44 293.34,166.70 294.94,299.42 296.47,375.63 297.94,425.08 299.35,459.76 300.71,485.44 302.03,505.20 303.29,520.89 304.52,533.65 305.70,544.23 306.85,553.14 307.96,560.75 309.04,567.32 310.09,573.06 311.11,578.11 312.10,582.58 313.07,586.58 314.01,590.18 314.93,593.42 315.83,596.37 316.70,599.06 317.55,601.52 318.39,603.78 319.21,605.86 320.00,607.79 320.79,609.58 321.55,611.25 322.30,612.80" fill="none" stroke="#a6a6a6" stroke-width="1.35"/>
<polyline points="293.34,-6887.58 294.94,-721.28 296.47,-104.65 297.94,129.24 299.35,252.34 300.71,328.30 302.03,379.84 303.29,417.11 304.52,445.31 305.70,467.40 306.85,485.17 307.96,499.77 309.04,511.98 310.09,522.34 311.11,531.25 312.10,538.98 313.07,545.76 314.01,551.76 314.93,557.10 315.83,561.88 316.70,566.19 317.55,570.09 318.39,573.64 319.21,576.88 320.00,579.86 320.79,582.60 321.55,585.14 322.30,587.48" fill="none" stroke="#a6a6a6" stroke-width="1.35"/>
<polyline points="153.0,690.6 166.4,690.6 166.4,709.0 177.6,709.0 177.6,711.6 185.5,711.6 185.5,707.7 197.3,707.7 197.3,712.0 202.6,712.0 202.6,714.2 207.2,714.2 207.2,717.5 214.4,717.5 214.4,719.5 218.3,719.5 218.3,720.4 240.0,721.5 250.0,722.2" fill="none" stroke="#b0dcb5" stroke-width="1.5" stroke-linejoin="miter"/>
<polyline points="153.0,674.4 166.4,674.4 166.4,678.0 166.4,668.2 192.0,668.2 192.0,660.6 202.6,660.6 202.6,666.3 207.2,666.3 207.2,678.1 210.4,678.1 210.4,686.0 217.7,686.0 217.7,693.9 221.0,693.9 221.0,696.5 224.2,692.6 224.9,693.9 225.6,693.9 225.6,696.5 226.9,696.5 226.9,699.2 228.2,699.2 228.2,701.8 228.8,701.8 229.8,701.8 229.8,703.8 231.8,703.8 231.8,705.7 232.8,705.7 233.1,705.7 233.1,708.4 233.8,708.4 233.8,711.0 234.1,711.0 236.7,713.6 237.5,713.6 237.5,716.2 239.2,716.2 239.2,718.8 240.0,718.8 245.0,721.0 255.0,722.0" fill="none" stroke="#96d09f" stroke-width="1.5" stroke-linejoin="miter"/>
<polyline points="153.0,652.9 166.4,652.9 166.4,641.0 177.6,641.0 177.6,650.5 177.6,641.0 185.5,641.0 185.5,649.0 185.5,634.5 197.3,634.5 197.3,641.0 221.0,641.0 221.0,637.8 223.0,637.8 223.6,645.0 224.2,667.6 225.5,665.0 228.8,663.7 232.0,662.5 236.0,661.7 237.4,664.0 237.8,666.0 238.3,697.5 240.3,698.8 242.9,701.5 245.5,704.1 248.1,706.7 249.1,706.7 249.1,708.7 251.1,708.7 251.1,710.7 252.1,710.7 254.7,712.0 258.7,714.6 261.3,717.2 265.2,719.9 271.8,721.2 280.0,722.0" fill="none" stroke="#78c387" stroke-width="1.5" stroke-linejoin="miter"/>
<polyline points="153.0,624.4 166.4,624.4 166.4,629.2 177.3,629.2 177.3,620.3 185.5,620.3 185.5,613.5 192.0,613.5 192.0,624.6 192.0,618.5 197.3,618.5 197.3,627.3 197.3,622.7 202.6,622.7 202.6,617.4 207.2,617.4 207.2,613.5 211.1,613.5 211.1,610.2 214.4,610.2 214.4,607.3 217.7,607.3 217.7,611.5 220.3,611.5 220.3,615.0 223.6,612.8 228.8,612.8 228.8,611.5 230.1,611.5 230.1,621.4 241.6,621.4 241.6,625.3 244.2,625.3 244.9,639.7 246.8,639.7 247.5,648.2 248.1,648.2 252.7,643.7 254.7,643.7 255.4,646.3 256.0,664.7 256.2,664.7 256.2,666.9 256.6,666.9 256.6,669.0 257.1,669.0 257.1,671.2 257.3,671.2 258.0,681.8 258.2,681.8 258.2,684.0 258.6,684.0 258.6,686.1 259.1,686.1 259.1,688.3 259.3,688.3 259.8,688.3 259.8,691.0 260.8,691.0 260.8,693.6 261.3,693.6 261.8,693.6 261.8,696.2 262.7,696.2 262.7,698.8 263.2,698.8 263.9,698.8 263.9,701.5 265.2,701.5 265.2,704.1 265.9,704.1 266.5,704.1 266.5,706.7 267.9,706.7 267.9,709.3 268.5,709.3 270.5,712.0 271.5,712.0 271.5,714.6 273.4,714.6 273.4,717.2 274.4,717.2 278.4,719.9 283.6,721.2 290.2,722.0" fill="none" stroke="#5db872" stroke-width="1.5" stroke-linejoin="miter"/>
<polyline points="153.0,558.8 238.2,558.8 238.2,565.2 239.7,565.2 239.7,583.1 243.8,581.0 245.3,580.5 245.6,580.5 245.6,582.5 246.1,582.5 246.1,584.6 246.4,584.6 248.4,585.6 248.9,593.8 251.5,593.8 252.0,602.0 252.1,602.0 252.1,604.5 252.3,604.5 252.3,606.9 252.5,606.9 252.5,609.4 252.7,609.4 252.7,611.8 252.9,611.8 252.9,614.3 253.0,614.3 260.7,615.3 261.2,615.3 261.2,617.8 262.2,617.8 262.2,620.4 262.7,620.4 263.3,620.4 263.3,622.8 264.6,622.8 264.6,625.3 265.2,625.3 265.5,633.1 267.2,635.8 267.8,646.3 268.5,654.2 268.6,654.2 268.6,656.5 268.6,656.5 268.6,658.9 268.8,658.9 268.8,661.2 268.8,661.2 268.8,663.5 268.9,663.5 268.9,665.9 269.1,665.9 269.1,668.2 269.1,668.2 269.1,670.5 269.2,670.5 269.2,672.9 269.3,672.9 269.3,675.2 269.4,675.2 269.6,675.2 269.6,677.4 269.9,677.4 269.9,679.6 270.3,679.6 270.3,681.8 270.5,681.8 270.7,681.8 270.7,684.4 271.2,684.4 271.2,687.0 271.7,687.0 271.7,689.7 272.2,689.7 272.2,692.3 272.4,692.3 272.7,692.3 272.7,694.5 273.4,694.5 273.4,696.6 274.1,696.6 274.1,698.8 274.4,698.8 275.1,698.8 275.1,701.0 276.4,701.0 276.4,703.2 277.7,703.2 277.7,705.4 278.4,705.4 278.7,705.4 278.7,707.6 279.4,707.6 279.4,709.8 280.0,709.8 280.0,712.0 280.3,712.0 281.1,712.0 281.1,714.0 282.8,714.0 282.8,715.9 283.6,715.9 284.6,715.9 284.6,717.9 286.6,717.9 286.6,719.9 287.6,719.9 291.5,721.2 295.0,722.5" fill="none" stroke="#45ae62" stroke-width="1.5" stroke-linejoin="miter"/>
<polyline points="153.0,558.8 185.5,558.8 185.5,585.9 185.5,582.3 192.0,582.3 192.0,579.3 197.3,579.3 197.3,573.7 210.7,573.7 210.7,584.2 214.4,584.2 214.4,582.3 217.7,582.3 217.7,579.3 223.6,579.3 223.6,577.3 228.2,577.3 228.2,583.2 240.0,578.0 244.3,576.5 244.6,576.5 244.6,579.0 245.1,579.0 245.1,581.6 245.3,581.6 248.4,583.6 257.1,578.5 257.4,578.5 257.4,580.3 257.9,580.3 257.9,582.1 258.1,582.1 260.7,580.0 262.7,581.6 262.8,581.6 262.8,583.9 263.1,583.9 263.1,586.2 263.3,586.2 263.3,588.5 263.6,588.5 263.6,590.8 263.7,590.8 263.7,605.6 271.4,606.1 271.5,606.1 271.5,608.5 271.6,608.5 271.6,610.9 271.8,610.9 271.8,613.2 272.0,613.2 272.0,615.6 272.1,615.6 272.1,618.0 272.3,618.0 272.3,620.4 272.4,620.4 272.9,620.4 272.9,622.1 273.9,622.1 273.9,623.9 274.4,623.9 275.1,634.5 275.3,634.5 275.3,637.1 275.8,637.1 275.8,639.8 276.3,639.8 276.3,642.4 276.8,642.4 276.8,645.0 277.0,645.0 277.3,669.9 277.5,669.9 277.5,672.5 277.9,672.5 277.9,675.2 278.2,675.2 278.2,677.8 278.4,677.8 278.5,677.8 278.5,680.2 278.8,680.2 278.8,682.5 279.0,682.5 279.0,684.9 279.3,684.9 279.3,687.2 279.6,687.2 279.6,689.6 279.7,689.6 280.0,689.6 280.0,692.2 280.7,692.2 280.7,694.9 281.0,694.9 281.3,694.9 281.3,697.5 282.0,697.5 282.0,700.1 282.3,700.1 282.7,700.1 282.7,702.3 283.6,702.3 283.6,704.5 284.5,704.5 284.5,706.7 284.9,706.7 285.4,706.7 285.4,709.4 286.4,709.4 286.4,712.0 286.9,712.0 287.4,712.0 287.4,714.6 288.4,714.6 288.4,717.2 288.9,717.2 289.9,717.2 289.9,718.9 291.8,718.9 291.8,720.5 292.8,720.5 296.0,722.5 302.0,722.5" fill="none" stroke="#2ea554" stroke-width="1.5" stroke-linejoin="miter"/>
<polyline points="153.0,558.8 248.4,558.8 248.4,563.2 255.5,563.2 255.5,566.8 269.9,564.7 269.9,572.9 271.4,575.4 271.5,575.4 271.5,577.7 271.7,577.7 271.7,580.0 271.9,580.0 271.9,582.3 272.1,582.3 272.1,584.6 272.2,584.6 272.2,586.9 272.4,586.9 272.4,589.2 272.6,589.2 272.6,591.5 272.8,591.5 272.8,593.8 272.9,593.8 275.0,595.9 275.5,604.0 275.6,604.0 275.6,606.3 275.9,606.3 275.9,608.5 276.2,608.5 276.2,610.8 276.6,610.8 276.6,613.0 276.9,613.0 276.9,615.3 277.0,615.3 277.2,615.3 277.2,617.8 277.8,617.8 277.8,620.4 278.0,620.4 279.7,622.6 281.0,625.3 281.6,634.5 281.7,634.5 281.7,636.9 282.0,636.9 282.0,639.2 282.3,639.2 282.3,641.6 282.6,641.6 282.6,643.9 282.9,643.9 282.9,646.3 283.0,646.3 283.6,659.4 284.3,675.2 284.9,684.4 287.6,687.0 288.2,687.0 288.2,689.6 289.6,689.6 289.6,692.3 290.2,692.3 290.9,692.3 290.9,694.3 292.1,694.3 292.1,696.3 292.8,696.3 293.3,696.3 293.3,698.9 294.3,698.9 294.3,701.5 294.8,701.5 295.3,701.5 295.3,704.1 296.3,704.1 296.3,706.7 296.8,706.7 297.1,706.7 297.1,709.4 297.8,709.4 297.8,712.0 298.1,712.0 298.3,712.0 298.3,714.6 298.8,714.6 298.8,717.3 299.2,717.3 299.2,719.9 299.4,719.9 300.5,722.5 307.0,722.5" fill="none" stroke="#1c9c48" stroke-width="1.5" stroke-linejoin="miter"/>
</g>
<text x="303.5" y="712.0" font-size="7.2" fill="#4a4a4a" textLength="20.5" lengthAdjust="spacingAndGlyphs">f1=0.1</text>
<text x="303.5" y="702.2" font-size="7.2" fill="#4a4a4a" textLength="20.5" lengthAdjust="spacingAndGlyphs">f1=0.2</text>
<text x="303.5" y="691.1" font-size="7.2" fill="#4a4a4a" textLength="20.5" lengthAdjust="spacingAndGlyphs">f1=0.3</text>
<text x="303.5" y="678.6" font-size="7.2" fill="#4a4a4a" textLength="20.5" lengthAdjust="spacingAndGlyphs">f1=0.4</text>
<text x="303.5" y="664.1" font-size="7.2" fill="#4a4a4a" textLength="20.5" lengthAdjust="spacingAndGlyphs">f1=0.5</text>
<text x="303.5" y="647.3" font-size="7.2" fill="#4a4a4a" textLength="20.5" lengthAdjust="spacingAndGlyphs">f1=0.6</text>
<text x="303.5" y="627.5" font-size="7.2" fill="#4a4a4a" textLength="20.5" lengthAdjust="spacingAndGlyphs">f1=0.7</text>
<text x="303.5" y="603.9" font-size="7.2" fill="#4a4a4a" textLength="20.5" lengthAdjust="spacingAndGlyphs">f1=0.8</text>
<text x="303.5" y="575.3" font-size="7.2" fill="#4a4a4a" textLength="20.5" lengthAdjust="spacingAndGlyphs">f1=0.9</text>
<line x1="154.2" y1="723.8" x2="321.3" y2="723.8" stroke="#2a2a2a" stroke-width="2.4" stroke-dasharray="10.3,4.4"/>
<rect x="153.2" y="557.1" width="169.10000000000002" height="168.19999999999993" fill="none" stroke="#111" stroke-width="1.7"/>
<line x1="151.2" y1="557.1" x2="153.2" y2="557.1" stroke="#111" stroke-width="1"/>
<text x="151.7" y="560.8" font-size="10.5" text-anchor="end" font-weight="normal" fill="#231f20" >1.0</text>
<line x1="151.2" y1="590.5" x2="153.2" y2="590.5" stroke="#111" stroke-width="1"/>
<text x="151.7" y="593.8" font-size="10.5" text-anchor="end" font-weight="normal" fill="#231f20" >0.8</text>
<line x1="151.2" y1="623.9" x2="153.2" y2="623.9" stroke="#111" stroke-width="1"/>
<text x="151.7" y="626.8" font-size="10.5" text-anchor="end" font-weight="normal" fill="#231f20" >0.6</text>
<line x1="151.2" y1="657.4" x2="153.2" y2="657.4" stroke="#111" stroke-width="1"/>
<text x="151.7" y="659.7" font-size="10.5" text-anchor="end" font-weight="normal" fill="#231f20" >0.4</text>
<line x1="151.2" y1="690.8" x2="153.2" y2="690.8" stroke="#111" stroke-width="1"/>
<text x="151.7" y="692.7" font-size="10.5" text-anchor="end" font-weight="normal" fill="#231f20" >0.2</text>
<line x1="151.2" y1="724.2" x2="153.2" y2="724.2" stroke="#111" stroke-width="1"/>
<text x="151.7" y="725.7" font-size="10.5" text-anchor="end" font-weight="normal" fill="#231f20" >0.0</text>
<line x1="153.2" y1="725.3" x2="153.2" y2="727.3" stroke="#111" stroke-width="1"/>
<line x1="237.8" y1="725.3" x2="237.8" y2="727.3" stroke="#111" stroke-width="1"/>
<line x1="322.3" y1="725.3" x2="322.3" y2="727.3" stroke="#111" stroke-width="1"/>
<text x="150.6" y="736.3" font-size="10.5" text-anchor="start" font-weight="normal" fill="#231f20" >10</text>
<text x="162.5" y="732.3" font-size="7.0" text-anchor="start" font-weight="normal" fill="#231f20" >-2</text>
<text x="228.7" y="736.3" font-size="10.5" text-anchor="start" font-weight="normal" fill="#231f20" >10</text>
<text x="240.6" y="732.3" font-size="7.0" text-anchor="start" font-weight="normal" fill="#231f20" >-1</text>
<text x="319.8" y="736.3" font-size="10.5" text-anchor="middle" font-weight="normal" fill="#231f20" >1</text>
<text x="236.1" y="744.9" font-size="11" text-anchor="middle" font-weight="normal" fill="#231f20" textLength="50.2" lengthAdjust="spacingAndGlyphs" >Sensitivity</text>
<text transform="translate(131.1,637.4) rotate(-90)" font-size="11.2" text-anchor="middle" fill="#231f20" textLength="46" lengthAdjust="spacingAndGlyphs">Precision</text>
<text x="151.8" y="545.9" font-size="14" fill="#231f20" textLength="239.8" lengthAdjust="spacingAndGlyphs">Patient 986 - <tspan font-weight="bold">CRC MSS</tspan> - Series (A)</text>
<rect x="327.8" y="573.7" width="68.30000000000001" height="23.899999999999977" rx="11.949999999999989" fill="#78b48a" stroke="#1d6a3a" stroke-width="1.8"/>
<text x="362.0" y="591.0" font-size="14.6" text-anchor="middle" font-weight="normal" fill="#231f20" textLength="54.8" lengthAdjust="spacingAndGlyphs" >Strelka2</text>
<rect x="330.4" y="603.4" width="64.40000000000003" height="91.80000000000007" fill="#fff" stroke="#cfcfcf" stroke-width="1"/>
<text x="353.8" y="613.3" font-size="10.2" text-anchor="start" font-weight="normal" fill="#231f20" textLength="32.4" lengthAdjust="spacingAndGlyphs" >ctDNA</text>
<text x="353.8" y="622.7" font-size="10.2" text-anchor="start" font-weight="normal" fill="#231f20" textLength="36.2" lengthAdjust="spacingAndGlyphs" >fraction</text>
<line x1="333.1" y1="627.5" x2="349.5" y2="627.5" stroke="#17a652" stroke-width="1.5"/>
<text x="353.8" y="633.1" font-size="10.6" text-anchor="start" font-weight="normal" fill="#231f20" textLength="38.0" lengthAdjust="spacingAndGlyphs" >32.60%</text>
<line x1="333.1" y1="637.7" x2="349.5" y2="637.7" stroke="#14a24e" stroke-width="1.5"/>
<text x="353.8" y="643.3" font-size="10.6" text-anchor="start" font-weight="normal" fill="#231f20" textLength="38.0" lengthAdjust="spacingAndGlyphs" >15.21%</text>
<line x1="333.1" y1="647.9" x2="349.5" y2="647.9" stroke="#1aa352" stroke-width="1.5"/>
<text x="353.8" y="653.5" font-size="10.6" text-anchor="start" font-weight="normal" fill="#231f20" textLength="38.0" lengthAdjust="spacingAndGlyphs" >10.87%</text>
<line x1="333.1" y1="658.1" x2="349.5" y2="658.1" stroke="#3aaf68" stroke-width="1.5"/>
<text x="353.8" y="663.7" font-size="10.6" text-anchor="start" font-weight="normal" fill="#231f20" textLength="31.8" lengthAdjust="spacingAndGlyphs" >6.52%</text>
<line x1="333.1" y1="668.3" x2="349.5" y2="668.3" stroke="#57b97b" stroke-width="1.5"/>
<text x="353.8" y="673.9" font-size="10.6" text-anchor="start" font-weight="normal" fill="#231f20" textLength="31.8" lengthAdjust="spacingAndGlyphs" >4.35%</text>
<line x1="333.1" y1="678.5" x2="349.5" y2="678.5" stroke="#6cc189" stroke-width="1.5"/>
<text x="353.8" y="684.1" font-size="10.6" text-anchor="start" font-weight="normal" fill="#231f20" textLength="31.8" lengthAdjust="spacingAndGlyphs" >2.17%</text>
<line x1="333.1" y1="688.7" x2="349.5" y2="688.7" stroke="#99d3aa" stroke-width="1.5"/>
<text x="353.8" y="694.3" font-size="10.6" text-anchor="start" font-weight="normal" fill="#231f20" textLength="31.8" lengthAdjust="spacingAndGlyphs" >1.09%</text>
<clipPath id="cp2"><rect x="436.6" y="558.6" width="169.0" height="167.79999999999995"/></clipPath>
<g clip-path="url(#cp2)">
<polyline points="495.96,-304.07 508.33,696.75 517.56,706.75 524.94,710.14 531.07,711.83 536.33,712.86 540.92,713.54 545.01,714.03 548.68,714.39 552.02,714.68 555.08,714.91 557.91,715.09 560.53,715.25 562.98,715.38 565.28,715.49 567.44,715.59 569.48,715.68 571.41,715.75 573.24,715.82 574.99,715.88 576.66,715.93 578.26,715.98 579.79,716.03 581.25,716.07 582.67,716.11 584.03,716.14 585.34,716.17 586.60,716.20 587.83,716.23 589.01,716.25 590.16,716.28 591.27,716.30 592.35,716.32 593.40,716.34 594.42,716.36 595.41,716.38 596.38,716.39 597.32,716.41 598.23,716.42 599.13,716.44 600.00,716.45 600.86,716.46 601.69,716.47 602.51,716.49 603.31,716.50 604.09,716.51 604.85,716.52 605.60,716.53" fill="none" stroke="#a6a6a6" stroke-width="1.35"/>
<polyline points="524.94,557.37 531.07,655.24 536.33,676.22 540.92,685.36 545.01,690.48 548.68,693.75 552.02,696.02 555.08,697.70 557.91,698.97 560.53,699.99 562.98,700.81 565.28,701.48 567.44,702.05 569.48,702.54 571.41,702.96 573.24,703.32 574.99,703.64 576.66,703.93 578.26,704.18 579.79,704.41 581.25,704.61 582.67,704.80 584.03,704.97 585.34,705.13 586.60,705.27 587.83,705.40 589.01,705.52 590.16,705.63 591.27,705.74 592.35,705.84 593.40,705.93 594.42,706.01 595.41,706.09 596.38,706.17 597.32,706.24 598.23,706.31 599.13,706.37 600.00,706.43 600.86,706.49 601.69,706.54 602.51,706.60 603.31,706.64 604.09,706.69 604.85,706.74 605.60,706.78" fill="none" stroke="#a6a6a6" stroke-width="1.35"/>
<polyline points="536.33,-1925.23 540.92,526.91 545.01,610.64 548.68,639.84 552.02,654.69 555.08,663.68 557.91,669.71 560.53,674.04 562.98,677.29 565.28,679.83 567.44,681.86 569.48,683.53 571.41,684.92 573.24,686.09 574.99,687.10 576.66,687.98 578.26,688.74 579.79,689.42 581.25,690.02 582.67,690.56 584.03,691.05 585.34,691.48 586.60,691.88 587.83,692.25 589.01,692.58 590.16,692.89 591.27,693.17 592.35,693.44 593.40,693.68 594.42,693.91 595.41,694.12 596.38,694.32 597.32,694.51 598.23,694.68 599.13,694.85 600.00,695.00 600.86,695.15 601.69,695.29 602.51,695.42 603.31,695.54 604.09,695.66 604.85,695.77 605.60,695.88" fill="none" stroke="#a6a6a6" stroke-width="1.35"/>
<polyline points="548.68,138.18 552.02,485.17 555.08,564.83 557.91,600.18 560.53,620.15 562.98,632.98 565.28,641.92 567.44,648.51 569.48,653.57 571.41,657.57 573.24,660.81 574.99,663.50 576.66,665.76 578.26,667.69 579.79,669.35 581.25,670.80 582.67,672.07 584.03,673.20 585.34,674.21 586.60,675.12 587.83,675.94 589.01,676.68 590.16,677.35 591.27,677.97 592.35,678.54 593.40,679.07 594.42,679.55 595.41,680.00 596.38,680.42 597.32,680.81 598.23,681.17 599.13,681.51 600.00,681.84 600.86,682.14 601.69,682.42 602.51,682.69 603.31,682.94 604.09,683.18 604.85,683.41 605.60,683.62" fill="none" stroke="#a6a6a6" stroke-width="1.35"/>
<polyline points="555.08,-3570.70 557.91,223.70 560.53,440.52 562.98,518.41 565.28,558.50 567.44,582.93 569.48,599.38 571.41,611.21 573.24,620.13 574.99,627.09 576.66,632.68 578.26,637.26 579.79,641.08 581.25,644.32 582.67,647.11 584.03,649.52 585.34,651.64 586.60,653.51 587.83,655.17 589.01,656.66 590.16,658.00 591.27,659.21 592.35,660.31 593.40,661.32 594.42,662.25 595.41,663.10 596.38,663.88 597.32,664.61 598.23,665.29 599.13,665.92 600.00,666.50 600.86,667.06 601.69,667.57 602.51,668.06 603.31,668.51 604.09,668.94 604.85,669.35 605.60,669.73" fill="none" stroke="#a6a6a6" stroke-width="1.35"/>
<polyline points="562.98,-473.38 565.28,224.28 567.44,394.70 569.48,471.65 571.41,515.48 573.24,543.78 574.99,563.57 576.66,578.18 578.26,589.41 579.79,598.31 581.25,605.54 582.67,611.53 584.03,616.57 585.34,620.87 586.60,624.59 587.83,627.83 589.01,630.68 590.16,633.21 591.27,635.47 592.35,637.49 593.40,639.32 594.42,640.99 595.41,642.50 596.38,643.89 597.32,645.16 598.23,646.34 599.13,647.42 600.00,648.43 600.86,649.37 601.69,650.24 602.51,651.06 603.31,651.83 604.09,652.54 604.85,653.22 605.60,653.86" fill="none" stroke="#a6a6a6" stroke-width="1.35"/>
<polyline points="567.44,-5219.03 569.48,-195.65 571.41,201.55 573.24,348.29 574.99,424.67 576.66,471.52 578.26,503.19 579.79,526.02 581.25,543.27 582.67,556.75 584.03,567.59 585.34,576.48 586.60,583.92 587.83,590.22 589.01,595.64 590.16,600.34 591.27,604.46 592.35,608.10 593.40,611.33 594.42,614.24 595.41,616.85 596.38,619.22 597.32,621.37 598.23,623.34 599.13,625.14 600.00,626.80 600.86,628.34 601.69,629.76 602.51,631.08 603.31,632.31 604.09,633.46 604.85,634.53 605.60,635.54" fill="none" stroke="#a6a6a6" stroke-width="1.35"/>
<polyline points="573.24,-1235.48 574.99,-119.31 576.66,169.13 578.26,301.54 579.79,377.56 581.25,426.90 582.67,461.50 584.03,487.11 585.34,506.83 586.60,522.48 587.83,535.21 589.01,545.76 590.16,554.65 591.27,562.24 592.35,568.80 593.40,574.52 594.42,579.56 595.41,584.02 596.38,588.01 597.32,591.60 598.23,594.84 599.13,597.78 600.00,600.46 600.86,602.91 601.69,605.17 602.51,607.25 603.31,609.17 604.09,610.96 604.85,612.62 605.60,614.17" fill="none" stroke="#a6a6a6" stroke-width="1.35"/>
<polyline points="576.66,-6868.26 578.26,-716.72 579.79,-101.57 581.25,131.76 582.67,254.57 584.03,330.35 585.34,381.77 586.60,418.95 587.83,447.08 589.01,469.12 590.16,486.84 591.27,501.40 592.35,513.58 593.40,523.92 594.42,532.81 595.41,540.53 596.38,547.29 597.32,553.27 598.23,558.60 599.13,563.37 600.00,567.66 600.86,571.56 601.69,575.10 602.51,578.34 603.31,581.31 604.09,584.04 604.85,586.57 605.60,588.91" fill="none" stroke="#a6a6a6" stroke-width="1.35"/>
<polyline points="436.6,710.5 440.5,709.9 448.4,709.2 455.0,710.5 465.5,709.9 470.1,711.2 470.1,704.0 490.4,704.0 495.0,702.7 500.0,702.0 507.5,700.0 510.1,698.7 521.6,698.7 522.6,698.7 522.6,700.4 524.5,700.4 524.5,702.0 525.5,702.0 526.1,702.0 526.1,704.0 527.5,704.0 527.5,706.0 528.1,706.0 532.1,708.6 532.8,708.6 532.8,710.5 534.1,710.5 534.1,712.5 534.7,712.5 536.4,712.5 536.4,714.5 539.6,714.5 539.6,716.5 541.3,716.5 549.2,719.1 557.0,721.7 564.9,723.5" fill="none" stroke="#b0dcb5" stroke-width="1.5" stroke-linejoin="miter"/>
<polyline points="436.6,669.8 439.9,669.8 439.9,674.4 439.9,658.6 455.0,658.6 455.0,656.7 460.9,656.7 460.9,677.0 460.9,671.8 465.5,671.8 465.5,676.0 465.5,673.1 473.4,673.1 473.4,688.9 473.4,684.9 476.6,684.9 476.6,692.8 479.9,692.8 482.6,693.5 486.5,691.5 490.4,690.8 494.4,688.9 497.7,688.2 497.7,694.8 499.0,681.6 520.3,681.6 524.2,682.3 528.1,680.3 531.4,680.3 532.1,684.9 538.7,684.9 539.4,684.9 539.4,686.9 540.6,686.9 540.6,688.9 541.3,688.9 541.6,688.9 541.6,690.8 542.3,690.8 542.3,692.8 542.6,692.8 543.1,692.8 543.1,695.5 544.1,695.5 544.1,698.1 544.6,698.1 545.2,698.1 545.2,700.7 546.6,700.7 546.6,703.3 547.2,703.3 547.9,703.3 547.9,706.0 549.1,706.0 549.1,708.6 549.8,708.6 550.6,708.6 550.6,710.5 552.3,710.5 552.3,712.5 553.1,712.5 554.1,712.5 554.1,714.5 556.0,714.5 556.0,716.5 557.0,716.5 558.0,716.5 558.0,718.5 560.0,718.5 560.0,720.4 561.0,720.4 562.0,720.4 562.0,722.0 563.9,722.0 563.9,723.5 564.9,723.5" fill="none" stroke="#96d09f" stroke-width="1.5" stroke-linejoin="miter"/>
<polyline points="436.6,615.0 439.2,615.0 439.2,632.8 448.4,632.8 448.4,650.0 448.4,635.7 460.9,635.7 460.9,642.0 460.9,636.1 465.5,636.1 465.5,632.8 469.4,632.8 469.4,628.8 473.4,628.8 473.4,626.0 477.3,626.0 477.3,622.9 480.6,622.9 480.6,620.3 483.9,620.3 483.9,617.7 486.5,617.7 486.5,632.1 487.8,632.1 488.5,648.1 488.9,648.1 488.9,650.3 489.8,650.3 489.8,652.5 490.7,652.5 490.7,654.7 491.1,654.7 495.0,654.7 495.0,660.0 502.0,656.0 506.0,652.0 510.0,651.5 510.5,660.0 515.0,660.0 518.9,654.7 524.2,652.7 528.1,654.7 529.5,650.8 534.7,647.5 541.3,647.5 542.6,649.5 543.2,658.6 545.9,661.3 546.5,665.2 552.4,664.6 553.1,670.5 553.2,670.5 553.2,672.9 553.5,672.9 553.5,675.2 553.8,675.2 553.8,677.6 554.0,677.6 554.0,679.9 554.3,679.9 554.3,682.3 554.4,682.3 554.7,682.3 554.7,685.0 555.4,685.0 555.4,687.6 555.7,687.6 556.2,687.6 556.2,690.2 557.0,690.2 557.0,692.8 558.0,692.8 558.0,695.4 558.4,695.4 558.7,695.4 558.7,698.0 559.4,698.0 559.4,700.7 559.7,700.7 560.4,700.7 560.4,703.4 561.6,703.4 561.6,706.0 562.3,706.0 562.6,706.0 562.6,708.2 563.3,708.2 563.3,710.3 564.0,710.3 564.0,712.5 564.3,712.5 564.8,712.5 564.8,714.7 566.0,714.7 566.0,716.9 567.0,716.9 567.0,719.1 567.6,719.1 568.2,719.1 568.2,721.3 569.6,721.3 569.6,723.5 570.2,723.5" fill="none" stroke="#78c387" stroke-width="1.5" stroke-linejoin="miter"/>
<polyline points="436.6,593.4 439.9,593.4 439.9,587.4 448.4,587.4 448.4,583.5 455.0,583.5 455.0,601.2 455.0,596.0 460.2,596.0 460.2,592.7 465.0,592.7 465.0,590.1 470.1,590.1 470.1,598.6 472.7,598.6 472.7,607.2 474.0,602.6 474.0,598.6 483.2,598.6 483.2,596.0 486.5,596.0 486.5,594.0 489.8,594.0 489.8,592.0 493.1,592.0 493.1,603.9 495.7,603.9 497.0,602.6 499.6,600.0 503.6,598.0 507.5,595.3 508.1,595.3 508.1,597.0 509.5,597.0 509.5,598.6 510.1,598.6 512.8,600.0 513.0,600.0 513.0,602.1 513.3,602.1 513.3,604.2 513.6,604.2 513.6,606.4 513.9,606.4 513.9,608.5 514.1,608.5 515.4,608.5 515.4,610.8 518.0,610.8 518.0,613.0 519.3,613.0 524.2,615.7 527.5,618.3 528.1,621.6 532.1,619.6 532.3,619.6 532.3,621.9 532.6,621.9 532.6,624.2 532.9,624.2 532.9,626.5 533.2,626.5 533.2,628.8 533.4,628.8 533.6,628.8 533.6,631.0 534.0,631.0 534.0,633.2 534.5,633.2 534.5,635.4 534.7,635.4 535.0,635.4 535.0,637.1 535.7,637.1 535.7,638.9 536.0,638.9 536.7,638.9 536.7,640.9 538.0,640.9 538.0,642.9 538.7,642.9 541.3,645.5 549.2,645.5 549.5,645.5 549.5,648.1 550.2,648.1 550.2,650.8 550.5,650.8 550.8,650.8 550.8,653.4 551.5,653.4 551.5,656.0 551.8,656.0 557.0,656.7 557.4,656.7 557.4,659.0 558.0,659.0 558.0,661.3 558.4,661.3 558.5,661.3 558.5,663.7 558.8,663.7 558.8,666.0 559.0,666.0 559.0,668.4 559.3,668.4 559.3,670.7 559.6,670.7 559.6,673.1 559.7,673.1 559.9,673.1 559.9,675.7 560.2,675.7 560.2,678.4 560.5,678.4 560.5,681.0 560.8,681.0 560.8,683.6 561.0,683.6 561.2,683.6 561.2,685.9 561.8,685.9 561.8,688.2 562.2,688.2 562.2,690.5 562.8,690.5 562.8,692.8 563.0,692.8 563.3,692.8 563.3,695.0 564.0,695.0 564.0,697.2 564.6,697.2 564.6,699.4 564.9,699.4 565.2,699.4 565.2,701.6 565.9,701.6 565.9,703.8 566.6,703.8 566.6,706.0 566.9,706.0 567.2,706.0 567.2,708.2 567.9,708.2 567.9,710.3 568.6,710.3 568.6,712.5 568.9,712.5 569.3,712.5 569.3,714.7 570.2,714.7 570.2,716.9 571.1,716.9 571.1,719.1 571.5,719.1 571.8,719.1 571.8,721.3 572.5,721.3 572.5,723.5 572.8,723.5" fill="none" stroke="#5db872" stroke-width="1.5" stroke-linejoin="miter"/>
<polyline points="436.6,578.2 460.9,578.2 460.9,569.7 494.4,569.7 506.2,566.0 508.8,566.0 509.5,571.0 514.7,573.7 518.0,576.3 522.9,576.3 523.3,576.3 523.3,578.9 524.2,578.9 524.2,581.6 525.1,581.6 525.1,584.2 525.5,584.2 526.1,584.2 526.1,586.2 527.5,586.2 527.5,588.1 528.1,588.1 537.3,587.4 538.6,587.4 538.6,589.7 541.3,589.7 541.3,592.0 542.6,592.0 546.5,594.7 547.0,594.7 547.0,597.3 548.0,597.3 548.0,599.9 548.5,599.9 549.1,599.9 549.1,602.5 550.5,602.5 550.5,605.2 551.1,605.2 551.3,605.2 551.3,607.8 551.8,607.8 551.8,610.5 552.2,610.5 552.2,613.1 552.4,613.1 555.1,615.7 555.7,623.6 556.0,623.6 556.0,626.2 556.7,626.2 556.7,628.9 557.4,628.9 557.4,631.5 558.1,631.5 558.1,634.1 558.4,634.1 558.7,634.1 558.7,637.0 559.4,637.0 559.4,640.0 559.7,640.0 561.0,642.9 561.3,642.9 561.3,645.3 561.8,645.3 561.8,647.6 562.3,647.6 562.3,650.0 562.8,650.0 562.8,652.3 563.3,652.3 563.3,654.7 563.6,654.7 563.7,654.7 563.7,657.1 563.9,657.1 563.9,659.5 564.1,659.5 564.1,662.0 564.4,662.0 564.4,664.4 564.6,664.4 564.6,666.8 564.8,666.8 564.8,669.2 564.9,669.2 565.1,669.2 565.1,671.8 565.5,671.8 565.5,674.4 565.9,674.4 565.9,677.1 566.3,677.1 566.3,679.7 566.7,679.7 566.7,682.3 566.9,682.3 567.2,682.3 567.2,684.9 567.9,684.9 567.9,687.5 568.5,687.5 568.5,690.2 569.2,690.2 569.2,692.8 569.5,692.8 569.7,692.8 569.7,695.1 570.0,695.1 570.0,697.4 570.3,697.4 570.3,699.7 570.6,699.7 570.6,702.0 570.8,702.0 571.1,702.0 571.1,704.2 571.8,704.2 571.8,706.4 572.5,706.4 572.5,708.6 572.8,708.6 573.2,708.6 573.2,711.2 574.1,711.2 574.1,713.9 575.0,713.9 575.0,716.5 575.4,716.5 575.7,716.5 575.7,718.8 576.4,718.8 576.4,721.2 577.1,721.2 577.1,723.5 577.4,723.5" fill="none" stroke="#45ae62" stroke-width="1.5" stroke-linejoin="miter"/>
<polyline points="436.6,580.9 460.9,580.9 460.9,578.2 464.8,578.2 469.4,575.0 477.3,572.3 490.4,569.7 491.7,569.7 491.7,571.7 494.4,571.7 494.4,573.7 495.7,573.7 501.0,573.7 506.0,570.0 520.0,571.0 542.6,573.7 543.0,573.7 543.0,576.3 543.9,576.3 543.9,578.9 544.8,578.9 544.8,581.5 545.2,581.5 545.6,581.5 545.6,583.8 546.4,583.8 546.4,586.1 547.3,586.1 547.3,588.4 548.1,588.4 548.1,590.7 548.5,590.7 551.8,593.4 557.0,596.0 557.2,596.0 557.2,598.2 557.7,598.2 557.7,600.4 558.2,600.4 558.2,602.6 558.4,602.6 558.6,602.6 558.6,604.8 559.0,604.8 559.0,606.9 559.5,606.9 559.5,609.1 559.7,609.1 560.3,618.3 560.6,618.3 560.6,621.0 561.3,621.0 561.3,623.6 561.6,623.6 562.3,631.5 562.5,631.5 562.5,633.6 562.8,633.6 562.8,635.8 563.1,635.8 563.1,637.9 563.4,637.9 563.4,640.0 563.6,640.0 564.3,648.1 564.5,648.1 564.5,650.7 564.8,650.7 564.8,653.4 565.1,653.4 565.1,656.0 565.4,656.0 565.4,658.6 565.6,658.6 566.2,673.1 566.4,673.1 566.4,675.7 566.7,675.7 566.7,678.4 567.1,678.4 567.1,681.0 567.4,681.0 567.4,683.6 567.6,683.6 567.9,683.6 567.9,685.8 568.5,685.8 568.5,688.0 569.2,688.0 569.2,690.2 569.5,690.2 569.8,690.2 569.8,692.8 570.5,692.8 570.5,695.5 571.2,695.5 571.2,698.1 571.5,698.1 571.8,698.1 571.8,700.3 572.5,700.3 572.5,702.4 573.2,702.4 573.2,704.6 573.5,704.6 573.8,704.6 573.8,706.8 574.5,706.8 574.5,709.0 575.1,709.0 575.1,711.2 575.4,711.2 575.9,711.2 575.9,713.8 576.8,713.8 576.8,716.5 577.6,716.5 577.6,719.1 578.1,719.1 578.6,719.1 578.6,721.3 579.5,721.3 579.5,723.5 580.0,723.5" fill="none" stroke="#2ea554" stroke-width="1.5" stroke-linejoin="miter"/>
<polyline points="436.6,572.1 546.5,573.5 547.2,578.2 549.8,580.2 550.5,584.0 550.8,584.0 550.8,586.4 551.5,586.4 551.5,588.8 551.8,588.8 557.7,588.1 560.3,589.4 561.0,597.3 561.6,607.8 562.0,607.8 562.0,609.8 562.6,609.8 562.6,611.8 563.0,611.8 563.3,611.8 563.3,614.1 564.0,614.1 564.0,616.4 564.6,616.4 564.6,618.7 565.3,618.7 565.3,621.0 565.6,621.0 566.1,621.0 566.1,623.6 567.1,623.6 567.1,626.2 567.6,626.2 567.8,626.2 567.8,628.8 568.2,628.8 568.2,631.5 568.7,631.5 568.7,634.1 568.9,634.1 569.5,641.6 569.7,641.6 569.7,644.2 570.1,644.2 570.1,646.9 570.6,646.9 570.6,649.5 570.8,649.5 570.9,649.5 570.9,651.9 571.2,651.9 571.2,654.2 571.5,654.2 571.5,656.6 571.8,656.6 571.8,658.9 572.1,658.9 572.1,661.3 572.2,661.3 572.8,673.1 575.4,675.7 576.1,681.0 576.3,681.0 576.3,683.2 576.8,683.2 576.8,685.4 577.2,685.4 577.2,687.6 577.4,687.6 577.6,687.6 577.6,689.9 578.1,689.9 578.1,692.2 578.6,692.2 578.6,694.5 579.1,694.5 579.1,696.8 579.4,696.8 580.0,696.8 580.0,698.8 581.4,698.8 581.4,700.7 582.0,700.7 582.6,700.7 582.6,703.4 584.0,703.4 584.0,706.0 584.6,706.0 585.0,706.0 585.0,708.6 586.0,708.6 586.0,711.2 586.8,711.2 586.8,713.8 587.3,713.8 587.6,713.8 587.6,716.0 588.2,716.0 588.2,718.2 588.9,718.2 588.9,720.4 589.2,720.4 589.9,723.5 600.0,723.5" fill="none" stroke="#1c9c48" stroke-width="1.5" stroke-linejoin="miter"/>
</g>
<text x="586.9" y="713.1" font-size="7.2" fill="#4a4a4a" textLength="20.5" lengthAdjust="spacingAndGlyphs">f1=0.1</text>
<text x="586.9" y="703.4" font-size="7.2" fill="#4a4a4a" textLength="20.5" lengthAdjust="spacingAndGlyphs">f1=0.2</text>
<text x="586.9" y="692.3" font-size="7.2" fill="#4a4a4a" textLength="20.5" lengthAdjust="spacingAndGlyphs">f1=0.3</text>
<text x="586.9" y="679.8" font-size="7.2" fill="#4a4a4a" textLength="20.5" lengthAdjust="spacingAndGlyphs">f1=0.4</text>
<text x="586.9" y="665.3" font-size="7.2" fill="#4a4a4a" textLength="20.5" lengthAdjust="spacingAndGlyphs">f1=0.5</text>
<text x="586.9" y="648.6" font-size="7.2" fill="#4a4a4a" textLength="20.5" lengthAdjust="spacingAndGlyphs">f1=0.6</text>
<text x="586.9" y="628.8" font-size="7.2" fill="#4a4a4a" textLength="20.5" lengthAdjust="spacingAndGlyphs">f1=0.7</text>
<text x="586.9" y="605.3" font-size="7.2" fill="#4a4a4a" textLength="20.5" lengthAdjust="spacingAndGlyphs">f1=0.8</text>
<text x="586.9" y="576.8" font-size="7.2" fill="#4a4a4a" textLength="20.5" lengthAdjust="spacingAndGlyphs">f1=0.9</text>
<line x1="437.6" y1="724.9" x2="604.6" y2="724.9" stroke="#2a2a2a" stroke-width="2.4" stroke-dasharray="10.3,4.4"/>
<rect x="436.6" y="558.6" width="169.0" height="167.79999999999995" fill="none" stroke="#111" stroke-width="1.7"/>
<line x1="434.6" y1="558.6" x2="436.6" y2="558.6" stroke="#111" stroke-width="1"/>
<text x="431.6" y="563.1" font-size="10.5" text-anchor="end" font-weight="normal" fill="#231f20" >1.0</text>
<line x1="434.6" y1="591.9" x2="436.6" y2="591.9" stroke="#111" stroke-width="1"/>
<text x="431.6" y="596.1" font-size="10.5" text-anchor="end" font-weight="normal" fill="#231f20" >0.8</text>
<line x1="434.6" y1="625.3" x2="436.6" y2="625.3" stroke="#111" stroke-width="1"/>
<text x="431.6" y="629.2" font-size="10.5" text-anchor="end" font-weight="normal" fill="#231f20" >0.6</text>
<line x1="434.6" y1="658.6" x2="436.6" y2="658.6" stroke="#111" stroke-width="1"/>
<text x="431.6" y="662.2" font-size="10.5" text-anchor="end" font-weight="normal" fill="#231f20" >0.4</text>
<line x1="434.6" y1="692.0" x2="436.6" y2="692.0" stroke="#111" stroke-width="1"/>
<text x="431.6" y="695.3" font-size="10.5" text-anchor="end" font-weight="normal" fill="#231f20" >0.2</text>
<line x1="434.6" y1="725.3" x2="436.6" y2="725.3" stroke="#111" stroke-width="1"/>
<text x="431.6" y="728.3" font-size="10.5" text-anchor="end" font-weight="normal" fill="#231f20" >0.0</text>
<line x1="436.6" y1="726.4" x2="436.6" y2="728.4" stroke="#111" stroke-width="1"/>
<line x1="521.1" y1="726.4" x2="521.1" y2="728.4" stroke="#111" stroke-width="1"/>
<line x1="605.6" y1="726.4" x2="605.6" y2="728.4" stroke="#111" stroke-width="1"/>
<text x="434.0" y="737.4" font-size="10.5" text-anchor="start" font-weight="normal" fill="#231f20" >10</text>
<text x="445.9" y="733.4" font-size="7.0" text-anchor="start" font-weight="normal" fill="#231f20" >-2</text>
<text x="511.9" y="737.4" font-size="10.5" text-anchor="start" font-weight="normal" fill="#231f20" >10</text>
<text x="523.8" y="733.4" font-size="7.0" text-anchor="start" font-weight="normal" fill="#231f20" >-1</text>
<text x="603.1" y="737.4" font-size="10.5" text-anchor="middle" font-weight="normal" fill="#231f20" >1</text>
<text x="516.2" y="746.0" font-size="11" text-anchor="middle" font-weight="normal" fill="#231f20" textLength="50.2" lengthAdjust="spacingAndGlyphs" >Sensitivity</text>
<text transform="translate(411.3,641.2) rotate(-90)" font-size="11.2" text-anchor="middle" fill="#231f20" textLength="46" lengthAdjust="spacingAndGlyphs">Precision</text>
<text x="436.0" y="545.3" font-size="14" fill="#231f20" textLength="246.9" lengthAdjust="spacingAndGlyphs">Patient 1014 - <tspan font-weight="bold">CRC MSS -</tspan> Series (A)</text>
<rect x="611" y="574.4" width="67.79999999999995" height="23.600000000000023" rx="11.800000000000011" fill="#78b48a" stroke="#1d6a3a" stroke-width="1.8"/>
<text x="644.9" y="591.5" font-size="14.6" text-anchor="middle" font-weight="normal" fill="#231f20" textLength="54.8" lengthAdjust="spacingAndGlyphs" >Strelka2</text>
<rect x="613.4" y="603.5" width="62.89999999999998" height="92.29999999999995" fill="#fff" stroke="#cfcfcf" stroke-width="1"/>
<text x="636.2" y="613.8" font-size="10.2" text-anchor="start" font-weight="normal" fill="#231f20" textLength="32.4" lengthAdjust="spacingAndGlyphs" >ctDNA</text>
<text x="636.2" y="623.2" font-size="10.2" text-anchor="start" font-weight="normal" fill="#231f20" textLength="36.2" lengthAdjust="spacingAndGlyphs" >fraction</text>
<line x1="616.6" y1="628.0" x2="632" y2="628.0" stroke="#17a652" stroke-width="1.5"/>
<text x="636.2" y="633.6" font-size="10.6" text-anchor="start" font-weight="normal" fill="#231f20" textLength="38.0" lengthAdjust="spacingAndGlyphs" >40.30%</text>
<line x1="616.6" y1="638.2" x2="632" y2="638.2" stroke="#14a24e" stroke-width="1.5"/>
<text x="636.2" y="643.9" font-size="10.6" text-anchor="start" font-weight="normal" fill="#231f20" textLength="38.0" lengthAdjust="spacingAndGlyphs" >20.52%</text>
<line x1="616.6" y1="648.5" x2="632" y2="648.5" stroke="#1aa352" stroke-width="1.5"/>
<text x="636.2" y="654.1" font-size="10.6" text-anchor="start" font-weight="normal" fill="#231f20" textLength="38.0" lengthAdjust="spacingAndGlyphs" >15.58%</text>
<line x1="616.6" y1="658.8" x2="632" y2="658.8" stroke="#3aaf68" stroke-width="1.5"/>
<text x="636.2" y="664.4" font-size="10.6" text-anchor="start" font-weight="normal" fill="#231f20" textLength="38.0" lengthAdjust="spacingAndGlyphs" >10.64%</text>
<line x1="616.6" y1="669.0" x2="632" y2="669.0" stroke="#57b97b" stroke-width="1.5"/>
<text x="636.2" y="674.6" font-size="10.6" text-anchor="start" font-weight="normal" fill="#231f20" textLength="31.8" lengthAdjust="spacingAndGlyphs" >6.16%</text>
<line x1="616.6" y1="679.2" x2="632" y2="679.2" stroke="#6cc189" stroke-width="1.5"/>
<text x="636.2" y="684.9" font-size="10.6" text-anchor="start" font-weight="normal" fill="#231f20" textLength="31.8" lengthAdjust="spacingAndGlyphs" >5.69%</text>
<line x1="616.6" y1="689.5" x2="632" y2="689.5" stroke="#99d3aa" stroke-width="1.5"/>
<text x="636.2" y="695.1" font-size="10.6" text-anchor="start" font-weight="normal" fill="#231f20" textLength="31.8" lengthAdjust="spacingAndGlyphs" >4.46%</text>
<clipPath id="cp3"><rect x="152.6" y="773.9" width="169.50000000000003" height="168.30000000000007"/></clipPath>
<g clip-path="url(#cp3)">
<polyline points="212.14,-91.36 224.54,912.46 233.80,922.50 241.20,925.89 247.35,927.59 252.62,928.62 257.23,929.30 261.33,929.79 265.01,930.16 268.36,930.45 271.43,930.68 274.27,930.86 276.90,931.02 279.35,931.15 281.66,931.26 283.82,931.36 285.87,931.45 287.81,931.52 289.65,931.59 291.40,931.65 293.08,931.71 294.68,931.76 296.21,931.80 297.68,931.84 299.10,931.88 300.46,931.91 301.78,931.94 303.05,931.97 304.27,932.00 305.46,932.03 306.61,932.05 307.73,932.07 308.81,932.09 309.86,932.11 310.89,932.13 311.88,932.15 312.85,932.17 313.79,932.18 314.71,932.20 315.61,932.21 316.49,932.22 317.34,932.24 318.18,932.25 319.00,932.26 319.80,932.27 320.58,932.28 321.35,932.29 322.10,932.30" fill="none" stroke="#a6a6a6" stroke-width="1.35"/>
<polyline points="241.20,772.66 247.35,870.83 252.62,891.87 257.23,901.04 261.33,906.17 265.01,909.46 268.36,911.74 271.43,913.41 274.27,914.70 276.90,915.71 279.35,916.53 281.66,917.21 283.82,917.78 285.87,918.27 287.81,918.69 289.65,919.06 291.40,919.38 293.08,919.66 294.68,919.92 296.21,920.15 297.68,920.35 299.10,920.54 300.46,920.71 301.78,920.87 303.05,921.01 304.27,921.14 305.46,921.26 306.61,921.38 307.73,921.48 308.81,921.58 309.86,921.67 310.89,921.76 311.88,921.84 312.85,921.91 313.79,921.98 314.71,922.05 315.61,922.12 316.49,922.18 317.34,922.23 318.18,922.29 319.00,922.34 319.80,922.39 320.58,922.43 321.35,922.48 322.10,922.52" fill="none" stroke="#a6a6a6" stroke-width="1.35"/>
<polyline points="252.62,-1717.38 257.23,742.12 261.33,826.10 265.01,855.38 268.36,870.28 271.43,879.30 274.27,885.35 276.90,889.69 279.35,892.95 281.66,895.49 283.82,897.53 285.87,899.20 287.81,900.59 289.65,901.77 291.40,902.79 293.08,903.66 294.68,904.43 296.21,905.11 297.68,905.72 299.10,906.26 300.46,906.74 301.78,907.18 303.05,907.58 304.27,907.95 305.46,908.28 306.61,908.59 307.73,908.88 308.81,909.14 309.86,909.39 310.89,909.61 311.88,909.83 312.85,910.03 313.79,910.21 314.71,910.39 315.61,910.55 316.49,910.71 317.34,910.86 318.18,911.00 319.00,911.13 319.80,911.25 320.58,911.37 321.35,911.49 322.10,911.59" fill="none" stroke="#a6a6a6" stroke-width="1.35"/>
<polyline points="265.01,352.22 268.36,700.25 271.43,780.15 274.27,815.61 276.90,835.64 279.35,848.51 281.66,857.47 283.82,864.08 285.87,869.15 287.81,873.16 289.65,876.42 291.40,879.11 293.08,881.38 294.68,883.31 296.21,884.98 297.68,886.44 299.10,887.71 300.46,888.85 301.78,889.86 303.05,890.77 304.27,891.59 305.46,892.33 306.61,893.01 307.73,893.63 308.81,894.20 309.86,894.73 310.89,895.21 311.88,895.66 312.85,896.08 313.79,896.48 314.71,896.84 315.61,897.18 316.49,897.50 317.34,897.81 318.18,898.09 319.00,898.36 319.80,898.61 320.58,898.86 321.35,899.08 322.10,899.30" fill="none" stroke="#a6a6a6" stroke-width="1.35"/>
<polyline points="271.43,-3367.78 274.27,437.99 276.90,655.47 279.35,733.59 281.66,773.80 283.82,798.30 285.87,814.80 287.81,826.67 289.65,835.61 291.40,842.59 293.08,848.20 294.68,852.79 296.21,856.63 297.68,859.88 299.10,862.67 300.46,865.09 301.78,867.22 303.05,869.09 304.27,870.76 305.46,872.25 306.61,873.59 307.73,874.81 308.81,875.92 309.86,876.93 310.89,877.86 311.88,878.71 312.85,879.50 313.79,880.23 314.71,880.91 315.61,881.54 316.49,882.13 317.34,882.68 318.18,883.20 319.00,883.68 319.80,884.14 320.58,884.57 321.35,884.98 322.10,885.37" fill="none" stroke="#a6a6a6" stroke-width="1.35"/>
<polyline points="279.35,-261.17 281.66,438.58 283.82,609.51 285.87,686.69 287.81,730.65 289.65,759.03 291.40,778.88 293.08,793.54 294.68,804.80 296.21,813.73 297.68,820.98 299.10,826.99 300.46,832.05 301.78,836.36 303.05,840.09 304.27,843.34 305.46,846.20 306.61,848.73 307.73,851.00 308.81,853.03 309.86,854.87 310.89,856.53 311.88,858.05 312.85,859.44 313.79,860.72 314.71,861.90 315.61,862.99 316.49,864.00 317.34,864.94 318.18,865.82 319.00,866.64 319.80,867.40 320.58,868.13 321.35,868.80 322.10,869.44" fill="none" stroke="#a6a6a6" stroke-width="1.35"/>
<polyline points="283.82,-5021.06 285.87,17.39 287.81,415.78 289.65,562.96 291.40,639.57 293.08,686.56 294.68,718.32 296.21,741.23 297.68,758.52 299.10,772.05 300.46,782.92 301.78,791.84 303.05,799.29 304.27,805.62 305.46,811.05 306.61,815.76 307.73,819.89 308.81,823.54 309.86,826.79 310.89,829.70 311.88,832.32 312.85,834.70 313.79,836.86 314.71,838.83 315.61,840.64 316.49,842.31 317.34,843.85 318.18,845.27 319.00,846.60 319.80,847.83 320.58,848.98 321.35,850.06 322.10,851.07" fill="none" stroke="#a6a6a6" stroke-width="1.35"/>
<polyline points="289.65,-1025.56 291.40,93.95 293.08,383.27 294.68,516.06 296.21,592.32 297.68,641.80 299.10,676.51 300.46,702.19 301.78,721.97 303.05,737.67 304.27,750.44 305.46,761.02 306.61,769.94 307.73,777.55 308.81,784.13 309.86,789.87 310.89,794.92 311.88,799.40 312.85,803.40 313.79,807.00 314.71,810.24 315.61,813.19 316.49,815.88 317.34,818.34 318.18,820.61 319.00,822.69 319.80,824.62 320.58,826.41 321.35,828.08 322.10,829.63" fill="none" stroke="#a6a6a6" stroke-width="1.35"/>
<polyline points="293.08,-6675.24 294.68,-505.25 296.21,111.75 297.68,345.78 299.10,468.96 300.46,544.96 301.78,596.53 303.05,633.83 304.27,662.05 305.46,684.15 306.61,701.92 307.73,716.53 308.81,728.75 309.86,739.12 310.89,748.03 311.88,755.77 312.85,762.56 313.79,768.56 314.71,773.90 315.61,778.68 316.49,782.99 317.34,786.90 318.18,790.45 319.00,793.70 319.80,796.68 320.58,799.42 321.35,801.95 322.10,804.30" fill="none" stroke="#a6a6a6" stroke-width="1.35"/>
<polyline points="152.9,808.5 156.8,808.5 156.8,802.8 164.4,802.8 164.4,775.3 185.8,775.3 185.8,788.0 190.0,788.0 196.2,786.5 196.2,821.7 198.8,821.7 199.2,818.6 201.9,818.6 201.9,854.6 209.1,854.6 209.1,859.9 211.1,860.5 211.4,860.5 211.4,862.1 212.1,862.1 212.1,863.8 212.4,863.8 213.0,867.1 213.7,862.5 215.7,861.9 217.6,862.5 219.6,861.2 221.6,861.9 223.5,863.8 224.9,866.5 225.2,866.5 225.2,868.8 225.9,868.8 225.9,871.1 226.2,871.1 226.8,875.7 227.5,871.7 232.7,871.7 233.0,871.7 233.0,873.7 233.8,873.7 233.8,875.7 234.1,875.7 235.4,878.3 235.4,892.7 239.9,894.0 240.2,894.0 240.2,896.0 240.9,896.0 240.9,898.0 241.2,898.0 242.2,898.0 242.2,899.6 244.1,899.6 244.1,901.3 245.1,901.3 245.8,901.3 245.8,903.0 247.1,903.0 247.1,904.6 247.8,904.6 248.4,916.4 250.4,919.0 254.3,921.6 255.3,921.6 255.3,923.6 257.3,923.6 257.3,925.6 258.3,925.6 262.2,928.2 266.2,930.8 267.2,930.8 267.2,932.8 269.1,932.8 269.1,934.8 270.1,934.8 275.4,937.4 280.6,939.4 287.2,939.8" fill="none" stroke="#b0dcb5" stroke-width="1.5" stroke-linejoin="miter"/>
<polyline points="152.9,796.0 176.5,796.0 176.5,793.6 179.5,793.6 179.5,792.3 182.2,792.3 182.2,791.0 186.1,791.0 186.1,789.7 190.0,789.7 190.0,788.4 194.0,788.4 194.0,787.1 197.3,786.4 201.2,785.7 220.1,783.0 220.6,783.0 221.0,788.4 222.3,788.8 222.8,791.5 225.4,791.5 226.3,792.8 226.3,812.0 238.5,812.0 239.0,826.9 241.2,827.1 242.5,829.1 245.1,831.1 246.5,832.4 247.0,832.4 247.0,834.3 247.9,834.3 247.9,836.3 248.4,836.3 248.9,836.3 248.9,838.0 249.9,838.0 249.9,839.6 250.4,839.6 253.0,841.6 253.7,846.8 254.3,858.0 254.3,869.1 256.3,870.4 257.0,874.3 257.3,874.3 257.3,876.3 258.0,876.3 258.0,878.3 258.3,878.3 258.6,878.3 258.6,880.5 259.2,880.5 259.2,882.6 259.9,882.6 259.9,884.8 260.2,884.8 260.6,884.8 260.6,886.8 261.2,886.8 261.2,888.8 261.6,888.8 261.9,888.8 261.9,891.4 262.6,891.4 262.6,894.0 262.9,894.0 263.5,907.2 267.5,909.8 268.0,909.8 268.0,911.8 268.9,911.8 268.9,913.8 269.4,913.8 271.4,916.4 272.0,916.4 272.0,918.3 273.4,918.3 273.4,920.3 274.0,920.3 274.5,920.3 274.5,923.0 275.5,923.0 275.5,925.6 276.0,925.6 276.3,925.6 276.3,927.5 277.0,927.5 277.0,929.5 277.3,929.5 277.8,929.5 277.8,931.5 278.8,931.5 278.8,933.5 279.3,933.5 281.9,936.1 287.2,937.4 289.8,939.5" fill="none" stroke="#96d09f" stroke-width="1.5" stroke-linejoin="miter"/>
<polyline points="152.9,796.0 176.5,796.0 176.5,793.6 179.5,793.6 179.5,792.3 182.2,792.3 182.2,791.0 186.1,791.0 186.1,789.7 190.0,789.7 190.0,788.4 194.0,788.4 194.0,787.1 197.3,786.4 201.4,786.0 201.4,804.6 202.2,804.6 202.2,806.5 203.7,806.5 203.7,808.5 204.4,808.5 205.3,808.5 205.7,808.5 205.7,810.8 206.6,810.8 206.6,813.2 207.5,813.2 207.5,815.5 207.9,815.5 211.4,816.0 221.0,807.7 224.5,805.0 226.3,803.7 228.0,804.2 228.2,804.2 228.2,806.4 228.7,806.4 228.7,808.5 228.9,808.5 232.4,807.7 233.7,810.3 236.8,806.8 242.0,803.3 247.3,800.7 251.7,800.8 255.0,798.9 256.3,798.9 257.0,802.2 258.9,803.5 260.2,806.1 260.9,811.4 264.8,811.4 266.2,814.0 268.1,815.3 268.8,819.2 270.1,821.9 271.4,824.5 271.7,824.5 271.7,827.1 272.4,827.1 272.4,829.8 272.7,829.8 273.4,833.7 273.9,833.7 273.9,836.4 274.9,836.4 274.9,839.0 275.4,839.0 276.7,841.6 277.3,846.8 278.0,853.4 278.0,865.1 278.6,875.7 279.1,875.7 279.1,877.7 280.1,877.7 280.1,879.6 280.6,879.6 280.8,879.6 280.8,881.8 281.2,881.8 281.2,884.0 281.7,884.0 281.7,886.2 281.9,886.2 282.2,886.2 282.2,888.4 282.9,888.4 282.9,890.5 283.6,890.5 283.6,892.7 283.9,892.7 284.1,892.7 284.1,895.0 284.4,895.0 284.4,897.3 284.7,897.3 284.7,899.6 285.0,899.6 285.0,901.9 285.2,901.9 285.4,901.9 285.4,904.2 285.9,904.2 285.9,906.5 286.4,906.5 286.4,908.8 286.9,908.8 286.9,911.1 287.2,911.1 287.4,911.1 287.4,913.3 287.9,913.3 287.9,915.5 288.3,915.5 288.3,917.7 288.5,917.7 288.8,917.7 288.8,920.4 289.5,920.4 289.5,923.0 289.8,923.0 290.1,923.0 290.1,925.6 290.8,925.6 290.8,928.2 291.1,928.2 291.8,928.2 291.8,930.9 293.1,930.9 293.1,933.5 293.8,933.5 296.4,936.1 299.0,938.7" fill="none" stroke="#78c387" stroke-width="1.5" stroke-linejoin="miter"/>
<polyline points="152.9,796.0 176.5,796.0 176.5,801.1 206.6,801.1 208.3,800.2 209.2,800.7 209.6,804.2 212.3,804.2 220.6,799.3 220.6,795.4 226.3,795.4 231.5,793.6 235.9,791.0 244.5,789.7 250.4,787.7 257.0,786.4 263.5,785.1 267.5,785.7 269.4,787.7 269.6,787.7 269.6,789.9 270.1,789.9 270.1,792.1 270.6,792.1 270.6,794.3 270.8,794.3 271.4,798.2 273.4,799.5 274.0,802.2 274.4,802.2 274.4,804.8 275.0,804.8 275.0,807.4 275.4,807.4 275.7,807.4 275.7,809.4 276.4,809.4 276.4,811.4 276.7,811.4 278.0,814.0 278.6,820.6 279.3,827.1 279.6,836.3 280.0,846.8 280.6,858.0 280.6,871.7 280.8,871.7 280.8,873.9 281.2,873.9 281.2,876.1 281.7,876.1 281.7,878.3 281.9,878.3 282.1,878.3 282.1,880.6 282.4,880.6 282.4,882.9 282.7,882.9 282.7,885.2 283.0,885.2 283.0,887.5 283.2,887.5 283.6,887.5 283.6,889.5 284.2,889.5 284.2,891.4 284.6,891.4 284.8,891.4 284.8,893.7 285.1,893.7 285.1,896.0 285.4,896.0 285.4,898.3 285.7,898.3 285.7,900.6 285.9,900.6 286.1,900.6 286.1,902.8 286.5,902.8 286.5,905.0 287.0,905.0 287.0,907.2 287.2,907.2 287.4,907.2 287.4,909.8 287.9,909.8 287.9,912.5 288.3,912.5 288.3,915.1 288.5,915.1 288.8,915.1 288.8,917.7 289.5,917.7 289.5,920.3 289.8,920.3 290.1,920.3 290.1,923.0 290.8,923.0 290.8,925.6 291.1,925.6 291.6,925.6 291.6,927.8 292.5,927.8 292.5,929.9 293.4,929.9 293.4,932.1 293.8,932.1 294.8,932.1 294.8,934.1 296.7,934.1 296.7,936.1 297.7,936.1 303.0,938.7" fill="none" stroke="#5db872" stroke-width="1.5" stroke-linejoin="miter"/>
<polyline points="152.9,775.3 226.3,775.3 226.3,781.4 232.4,780.5 232.8,781.0 232.8,791.9 235.9,791.9 235.9,789.3 245.0,788.0 255.0,786.0 263.5,784.0 267.5,783.5 271.4,785.1 274.0,786.4 275.4,789.0 278.6,791.0 279.3,793.0 281.9,794.3 283.9,794.9 285.2,794.3 285.9,798.2 286.1,798.2 286.1,800.5 286.4,800.5 286.4,802.8 286.7,802.8 286.7,805.1 287.0,805.1 287.0,807.4 287.2,807.4 287.4,807.4 287.4,809.6 287.9,809.6 287.9,811.8 288.3,811.8 288.3,814.0 288.5,814.0 289.2,823.2 289.8,836.3 290.0,852.0 290.5,871.7 291.1,884.8 291.3,884.8 291.3,887.4 291.8,887.4 291.8,890.1 292.2,890.1 292.2,892.7 292.4,892.7 292.5,892.7 292.5,895.1 292.8,895.1 292.8,897.5 293.1,897.5 293.1,899.8 293.4,899.8 293.4,902.2 293.7,902.2 293.7,904.6 293.8,904.6 294.0,904.6 294.0,906.9 294.3,906.9 294.3,909.2 294.6,909.2 294.6,911.5 294.9,911.5 294.9,913.8 295.1,913.8 295.2,913.8 295.2,916.2 295.5,916.2 295.5,918.5 295.8,918.5 295.8,920.9 296.0,920.9 296.0,923.2 296.3,923.2 296.3,925.6 296.4,925.6 296.6,925.6 296.6,928.2 297.0,928.2 297.0,930.9 297.5,930.9 297.5,933.5 297.7,933.5 298.0,933.5 298.0,936.1 298.7,936.1 298.7,938.7 299.0,938.7" fill="none" stroke="#45ae62" stroke-width="1.5" stroke-linejoin="miter"/>
<polyline points="152.9,775.3 268.1,775.3 269.4,777.9 278.6,777.9 279.3,779.6 283.2,780.5 284.6,782.5 285.2,789.0 285.9,798.2 286.1,798.2 286.1,800.5 286.5,800.5 286.5,802.7 286.8,802.7 286.8,805.0 287.2,805.0 287.2,807.2 287.6,807.2 287.6,809.5 287.9,809.5 287.9,811.7 288.3,811.7 288.3,814.0 288.5,814.0 288.6,814.0 288.6,816.5 288.9,816.5 288.9,818.9 289.1,818.9 289.1,821.4 289.4,821.4 289.4,823.9 289.6,823.9 289.6,826.3 289.9,826.3 289.9,828.8 290.1,828.8 290.1,831.2 290.4,831.2 290.4,833.7 290.5,833.7 290.6,833.7 290.6,836.0 290.9,836.0 290.9,838.3 291.1,838.3 291.1,840.6 291.3,840.6 291.3,842.9 291.6,842.9 291.6,845.1 291.8,845.1 291.8,847.4 292.0,847.4 292.0,849.7 292.3,849.7 292.3,852.0 292.4,852.0 292.5,852.0 292.5,854.4 292.7,854.4 292.7,856.9 292.9,856.9 292.9,859.3 293.1,859.3 293.1,861.8 293.3,861.8 293.3,864.2 293.5,864.2 293.5,866.7 293.7,866.7 293.7,869.1 293.8,869.1 293.9,869.1 293.9,871.3 294.1,871.3 294.1,873.6 294.3,873.6 294.3,875.8 294.5,875.8 294.5,878.1 294.6,878.1 294.6,880.3 294.8,880.3 294.8,882.6 295.0,882.6 295.0,884.8 295.1,884.8 295.2,884.8 295.2,887.0 295.4,887.0 295.4,889.2 295.6,889.2 295.6,891.4 295.9,891.4 295.9,893.6 296.1,893.6 296.1,895.8 296.3,895.8 296.3,898.0 296.4,898.0 296.6,898.0 296.6,900.6 297.0,900.6 297.0,903.2 297.4,903.2 297.4,905.9 297.8,905.9 297.8,908.5 298.2,908.5 298.2,911.1 298.4,911.1 298.6,911.1 298.6,913.7 299.0,913.7 299.0,916.4 299.4,916.4 299.4,919.0 299.7,919.0 299.7,921.7 300.1,921.7 300.1,924.3 300.3,924.3 300.6,924.3 300.6,926.6 301.3,926.6 301.3,928.9 302.0,928.9 302.0,931.2 302.7,931.2 302.7,933.5 303.0,933.5 303.6,933.5 303.6,936.1 305.0,936.1 305.0,938.7 305.6,938.7 312.0,939.3" fill="none" stroke="#2ea554" stroke-width="1.5" stroke-linejoin="miter"/>
<polyline points="152.9,781.6 263.5,781.6 264.2,783.5 274.0,783.5 275.4,785.7 278.6,785.7 279.3,789.7 288.5,789.0 289.8,789.7 290.5,795.6 290.7,795.6 290.7,797.8 291.1,797.8 291.1,800.0 291.6,800.0 291.6,802.2 291.8,802.2 292.0,802.2 292.0,804.5 292.3,804.5 292.3,806.8 292.6,806.8 292.6,809.1 292.9,809.1 292.9,811.4 293.1,811.4 293.3,811.4 293.3,814.0 293.7,814.0 293.7,816.6 294.1,816.6 294.1,819.3 294.5,819.3 294.5,821.9 294.9,821.9 294.9,824.5 295.1,824.5 295.2,824.5 295.2,826.9 295.5,826.9 295.5,829.2 295.8,829.2 295.8,831.6 296.0,831.6 296.0,833.9 296.3,833.9 296.3,836.3 296.4,836.3 297.0,846.8 297.7,858.0 297.8,858.0 297.8,860.3 298.0,860.3 298.0,862.6 298.2,862.6 298.2,864.9 298.5,864.9 298.5,867.1 298.7,867.1 298.7,869.4 298.9,869.4 298.9,871.7 299.0,871.7 299.1,871.7 299.1,874.1 299.3,874.1 299.3,876.6 299.5,876.6 299.5,879.0 299.6,879.0 299.6,881.5 299.8,881.5 299.8,883.9 300.0,883.9 300.0,886.4 300.2,886.4 300.2,888.8 300.3,888.8 300.5,888.8 300.5,891.4 300.9,891.4 300.9,894.0 301.3,894.0 301.3,896.7 301.7,896.7 301.7,899.3 302.1,899.3 302.1,901.9 302.3,901.9 302.6,901.9 302.6,904.5 303.3,904.5 303.3,907.2 304.0,907.2 304.0,909.8 304.3,909.8 304.5,909.8 304.5,912.4 305.0,912.4 305.0,915.1 305.4,915.1 305.4,917.7 305.6,917.7 305.9,917.7 305.9,920.3 306.6,920.3 306.6,923.0 307.2,923.0 307.2,925.6 307.5,925.6 308.0,925.6 308.0,928.2 309.0,928.2 309.0,930.8 309.5,930.8 309.7,930.8 309.7,933.0 310.1,933.0 310.1,935.2 310.6,935.2 310.6,937.4 310.8,937.4 313.5,938.7 318.7,938.7" fill="none" stroke="#1c9c48" stroke-width="1.5" stroke-linejoin="miter"/>
</g>
<text x="303.3" y="928.9" font-size="7.2" fill="#4a4a4a" textLength="20.5" lengthAdjust="spacingAndGlyphs">f1=0.1</text>
<text x="303.3" y="919.1" font-size="7.2" fill="#4a4a4a" textLength="20.5" lengthAdjust="spacingAndGlyphs">f1=0.2</text>
<text x="303.3" y="908.0" font-size="7.2" fill="#4a4a4a" textLength="20.5" lengthAdjust="spacingAndGlyphs">f1=0.3</text>
<text x="303.3" y="895.4" font-size="7.2" fill="#4a4a4a" textLength="20.5" lengthAdjust="spacingAndGlyphs">f1=0.4</text>
<text x="303.3" y="880.9" font-size="7.2" fill="#4a4a4a" textLength="20.5" lengthAdjust="spacingAndGlyphs">f1=0.5</text>
<text x="303.3" y="864.1" font-size="7.2" fill="#4a4a4a" textLength="20.5" lengthAdjust="spacingAndGlyphs">f1=0.6</text>
<text x="303.3" y="844.3" font-size="7.2" fill="#4a4a4a" textLength="20.5" lengthAdjust="spacingAndGlyphs">f1=0.7</text>
<text x="303.3" y="820.8" font-size="7.2" fill="#4a4a4a" textLength="20.5" lengthAdjust="spacingAndGlyphs">f1=0.8</text>
<text x="303.3" y="792.1" font-size="7.2" fill="#4a4a4a" textLength="20.5" lengthAdjust="spacingAndGlyphs">f1=0.9</text>
<line x1="153.6" y1="940.7" x2="321.1" y2="940.7" stroke="#2a2a2a" stroke-width="2.4" stroke-dasharray="10.3,4.4"/>
<rect x="152.6" y="773.9" width="169.50000000000003" height="168.30000000000007" fill="none" stroke="#111" stroke-width="1.7"/>
<line x1="150.6" y1="773.9" x2="152.6" y2="773.9" stroke="#111" stroke-width="1"/>
<text x="150.2" y="778.6" font-size="10.5" text-anchor="end" font-weight="normal" fill="#231f20" >1.0</text>
<line x1="150.6" y1="807.3" x2="152.6" y2="807.3" stroke="#111" stroke-width="1"/>
<text x="150.2" y="811.3" font-size="10.5" text-anchor="end" font-weight="normal" fill="#231f20" >0.8</text>
<line x1="150.6" y1="840.8" x2="152.6" y2="840.8" stroke="#111" stroke-width="1"/>
<text x="150.2" y="843.9" font-size="10.5" text-anchor="end" font-weight="normal" fill="#231f20" >0.6</text>
<line x1="150.6" y1="874.2" x2="152.6" y2="874.2" stroke="#111" stroke-width="1"/>
<text x="150.2" y="876.6" font-size="10.5" text-anchor="end" font-weight="normal" fill="#231f20" >0.4</text>
<line x1="150.6" y1="907.7" x2="152.6" y2="907.7" stroke="#111" stroke-width="1"/>
<text x="150.2" y="909.2" font-size="10.5" text-anchor="end" font-weight="normal" fill="#231f20" >0.2</text>
<line x1="150.6" y1="941.1" x2="152.6" y2="941.1" stroke="#111" stroke-width="1"/>
<text x="150.2" y="941.9" font-size="10.5" text-anchor="end" font-weight="normal" fill="#231f20" >0.0</text>
<line x1="152.6" y1="942.2" x2="152.6" y2="944.2" stroke="#111" stroke-width="1"/>
<line x1="237.4" y1="942.2" x2="237.4" y2="944.2" stroke="#111" stroke-width="1"/>
<line x1="322.1" y1="942.2" x2="322.1" y2="944.2" stroke="#111" stroke-width="1"/>
<text x="150.0" y="953.2" font-size="10.5" text-anchor="start" font-weight="normal" fill="#231f20" >10</text>
<text x="161.9" y="949.2" font-size="7.0" text-anchor="start" font-weight="normal" fill="#231f20" >-2</text>
<text x="228.4" y="953.2" font-size="10.5" text-anchor="start" font-weight="normal" fill="#231f20" >10</text>
<text x="240.3" y="949.2" font-size="7.0" text-anchor="start" font-weight="normal" fill="#231f20" >-1</text>
<text x="319.6" y="953.2" font-size="10.5" text-anchor="middle" font-weight="normal" fill="#231f20" >1</text>
<text x="235.7" y="961.8" font-size="11" text-anchor="middle" font-weight="normal" fill="#231f20" textLength="50.2" lengthAdjust="spacingAndGlyphs" >Sensitivity</text>
<text transform="translate(129.5,853.5) rotate(-90)" font-size="11.2" text-anchor="middle" fill="#231f20" textLength="46" lengthAdjust="spacingAndGlyphs">Precision</text>
<text x="152.6" y="764.7" font-size="14" fill="#231f20" textLength="238.9" lengthAdjust="spacingAndGlyphs">Patient 123 - <tspan font-weight="bold">CRC MSS -</tspan> Series (A)</text>
<rect x="328.6" y="800" width="68.19999999999999" height="24.100000000000023" rx="12.050000000000011" fill="#78b48a" stroke="#1d6a3a" stroke-width="1.8"/>
<text x="362.7" y="817.3" font-size="14.6" text-anchor="middle" font-weight="normal" fill="#231f20" textLength="54.8" lengthAdjust="spacingAndGlyphs" >Strelka2</text>
<rect x="330.7" y="829.3" width="64.5" height="92.20000000000005" fill="#fff" stroke="#cfcfcf" stroke-width="1"/>
<text x="353.8" y="838.9" font-size="10.2" text-anchor="start" font-weight="normal" fill="#231f20" textLength="32.4" lengthAdjust="spacingAndGlyphs" >ctDNA</text>
<text x="353.8" y="848.3" font-size="10.2" text-anchor="start" font-weight="normal" fill="#231f20" textLength="36.2" lengthAdjust="spacingAndGlyphs" >fraction</text>
<line x1="334.1" y1="853.1" x2="349.6" y2="853.1" stroke="#17a652" stroke-width="1.5"/>
<text x="353.8" y="858.7" font-size="10.6" text-anchor="start" font-weight="normal" fill="#231f20" textLength="38.0" lengthAdjust="spacingAndGlyphs" >62.10%</text>
<line x1="334.1" y1="863.4" x2="349.6" y2="863.4" stroke="#14a24e" stroke-width="1.5"/>
<text x="353.8" y="869.0" font-size="10.6" text-anchor="start" font-weight="normal" fill="#231f20" textLength="38.0" lengthAdjust="spacingAndGlyphs" >30.15%</text>
<line x1="334.1" y1="873.7" x2="349.6" y2="873.7" stroke="#1aa352" stroke-width="1.5"/>
<text x="353.8" y="879.3" font-size="10.6" text-anchor="start" font-weight="normal" fill="#231f20" textLength="38.0" lengthAdjust="spacingAndGlyphs" >22.17%</text>
<line x1="334.1" y1="884.0" x2="349.6" y2="884.0" stroke="#3aaf68" stroke-width="1.5"/>
<text x="353.8" y="889.6" font-size="10.6" text-anchor="start" font-weight="normal" fill="#231f20" textLength="38.0" lengthAdjust="spacingAndGlyphs" >14.18%</text>
<line x1="334.1" y1="894.3" x2="349.6" y2="894.3" stroke="#57b97b" stroke-width="1.5"/>
<text x="353.8" y="899.9" font-size="10.6" text-anchor="start" font-weight="normal" fill="#231f20" textLength="38.0" lengthAdjust="spacingAndGlyphs" >10.19%</text>
<line x1="334.1" y1="904.6" x2="349.6" y2="904.6" stroke="#6cc189" stroke-width="1.5"/>
<text x="353.8" y="910.2" font-size="10.6" text-anchor="start" font-weight="normal" fill="#231f20" textLength="31.8" lengthAdjust="spacingAndGlyphs" >6.19%</text>
<line x1="334.1" y1="914.9" x2="349.6" y2="914.9" stroke="#99d3aa" stroke-width="1.5"/>
<text x="353.8" y="920.5" font-size="10.6" text-anchor="start" font-weight="normal" fill="#231f20" textLength="31.8" lengthAdjust="spacingAndGlyphs" >4.20%</text>
<clipPath id="cp4"><rect x="433.9" y="773.1" width="169.0" height="168.69999999999993"/></clipPath>
<g clip-path="url(#cp4)">
<polyline points="493.26,-94.23 505.63,911.99 514.86,922.05 522.24,925.45 528.37,927.16 533.63,928.19 538.22,928.88 542.31,929.37 545.98,929.73 549.32,930.02 552.38,930.25 555.21,930.44 557.83,930.59 560.28,930.73 562.58,930.84 564.74,930.94 566.78,931.03 568.71,931.10 570.54,931.17 572.29,931.23 573.96,931.28 575.56,931.33 577.09,931.38 578.55,931.42 579.97,931.46 581.33,931.49 582.64,931.52 583.90,931.55 585.13,931.58 586.31,931.61 587.46,931.63 588.57,931.65 589.65,931.67 590.70,931.69 591.72,931.71 592.71,931.73 593.68,931.74 594.62,931.76 595.53,931.77 596.43,931.79 597.30,931.80 598.16,931.81 598.99,931.83 599.81,931.84 600.61,931.85 601.39,931.86 602.15,931.87 602.90,931.88" fill="none" stroke="#a6a6a6" stroke-width="1.35"/>
<polyline points="522.24,771.86 528.37,870.26 533.63,891.35 538.22,900.54 542.31,905.69 545.98,908.98 549.32,911.27 552.38,912.95 555.21,914.23 557.83,915.25 560.28,916.07 562.58,916.76 564.74,917.33 566.78,917.82 568.71,918.24 570.54,918.60 572.29,918.93 573.96,919.21 575.56,919.47 577.09,919.70 578.55,919.90 579.97,920.09 581.33,920.26 582.64,920.42 583.90,920.56 585.13,920.69 586.31,920.82 587.46,920.93 588.57,921.03 589.65,921.13 590.70,921.22 591.72,921.31 592.71,921.39 593.68,921.47 594.62,921.54 595.53,921.61 596.43,921.67 597.30,921.73 598.16,921.79 598.99,921.84 599.81,921.89 600.61,921.94 601.39,921.99 602.15,922.04 602.90,922.08" fill="none" stroke="#a6a6a6" stroke-width="1.35"/>
<polyline points="533.63,-1724.14 538.22,741.24 542.31,825.42 545.98,854.78 549.32,869.71 552.38,878.75 555.21,884.81 557.83,889.16 560.28,892.43 562.58,894.98 564.74,897.03 566.78,898.70 568.71,900.10 570.54,901.28 572.29,902.30 573.96,903.18 575.56,903.95 577.09,904.63 578.55,905.23 579.97,905.77 581.33,906.26 582.64,906.70 583.90,907.10 585.13,907.47 586.31,907.81 587.46,908.12 588.57,908.40 589.65,908.67 590.70,908.91 591.72,909.14 592.71,909.35 593.68,909.55 594.62,909.74 595.53,909.92 596.43,910.08 597.30,910.24 598.16,910.39 598.99,910.53 599.81,910.66 600.61,910.78 601.39,910.90 602.15,911.02 602.90,911.12" fill="none" stroke="#a6a6a6" stroke-width="1.35"/>
<polyline points="545.98,350.41 549.32,699.27 552.38,779.36 555.21,814.91 557.83,834.98 560.28,847.88 562.58,856.87 564.74,863.50 566.78,868.58 568.71,872.60 570.54,875.86 572.29,878.57 573.96,880.84 575.56,882.77 577.09,884.45 578.55,885.90 579.97,887.19 581.33,888.32 582.64,889.34 583.90,890.25 585.13,891.07 586.31,891.82 587.46,892.50 588.57,893.12 589.65,893.69 590.70,894.22 591.72,894.70 592.71,895.16 593.68,895.58 594.62,895.97 595.53,896.33 596.43,896.68 597.30,897.00 598.16,897.30 598.99,897.59 599.81,897.86 600.61,898.11 601.39,898.35 602.15,898.58 602.90,898.80" fill="none" stroke="#a6a6a6" stroke-width="1.35"/>
<polyline points="552.38,-3378.49 555.21,436.39 557.83,654.38 560.28,732.69 562.58,773.00 564.74,797.56 566.78,814.10 568.71,826.00 570.54,834.96 572.29,841.96 573.96,847.57 575.56,852.18 577.09,856.03 578.55,859.29 579.97,862.09 581.33,864.51 582.64,866.64 583.90,868.52 585.13,870.19 586.31,871.69 587.46,873.03 588.57,874.25 589.65,875.36 590.70,876.38 591.72,877.31 592.71,878.16 593.68,878.95 594.62,879.68 595.53,880.36 596.43,881.00 597.30,881.59 598.16,882.14 598.99,882.66 599.81,883.15 600.61,883.61 601.39,884.04 602.15,884.45 602.90,884.83" fill="none" stroke="#a6a6a6" stroke-width="1.35"/>
<polyline points="560.28,-264.45 562.58,436.97 564.74,608.31 566.78,685.68 568.71,729.74 570.54,758.20 572.29,778.09 573.96,792.78 575.56,804.07 577.09,813.03 578.55,820.30 579.97,826.32 581.33,831.39 582.64,835.71 583.90,839.45 585.13,842.70 586.31,845.57 587.46,848.11 588.57,850.38 589.65,852.42 590.70,854.26 591.72,855.93 592.71,857.45 593.68,858.85 594.62,860.13 595.53,861.31 596.43,862.40 597.30,863.42 598.16,864.36 598.99,865.24 599.81,866.06 600.61,866.83 601.39,867.55 602.15,868.23 602.90,868.87" fill="none" stroke="#a6a6a6" stroke-width="1.35"/>
<polyline points="564.74,-5035.72 566.78,14.78 568.71,414.12 570.54,561.65 572.29,638.45 573.96,685.55 575.56,717.39 577.09,740.35 578.55,757.69 579.97,771.24 581.33,782.14 582.64,791.08 583.90,798.55 585.13,804.89 586.31,810.34 587.46,815.06 588.57,819.20 589.65,822.86 590.70,826.12 591.72,829.04 592.71,831.66 593.68,834.04 594.62,836.21 595.53,838.19 596.43,840.00 597.30,841.67 598.16,843.21 598.99,844.64 599.81,845.97 600.61,847.21 601.39,848.36 602.15,849.44 602.90,850.45" fill="none" stroke="#a6a6a6" stroke-width="1.35"/>
<polyline points="570.54,-1030.66 572.29,91.53 573.96,381.53 575.56,514.65 577.09,591.08 578.55,640.68 579.97,675.47 581.33,701.22 582.64,721.05 583.90,736.79 585.13,749.58 586.31,760.19 587.46,769.13 588.57,776.76 589.65,783.35 590.70,789.11 591.72,794.17 592.71,798.66 593.68,802.67 594.62,806.28 595.53,809.53 596.43,812.49 597.30,815.18 598.16,817.65 598.99,819.92 599.81,822.01 600.61,823.94 601.39,825.74 602.15,827.41 602.90,828.97" fill="none" stroke="#a6a6a6" stroke-width="1.35"/>
<polyline points="573.96,-6693.86 575.56,-509.11 577.09,109.37 578.55,343.96 579.97,467.43 581.33,543.61 582.64,595.31 583.90,632.69 585.13,660.98 586.31,683.13 587.46,700.95 588.57,715.59 589.65,727.84 590.70,738.24 591.72,747.17 592.71,754.93 593.68,761.73 594.62,767.74 595.53,773.10 596.43,777.89 597.30,782.21 598.16,786.13 598.99,789.69 599.81,792.94 600.61,795.93 601.39,798.68 602.15,801.22 602.90,803.57" fill="none" stroke="#a6a6a6" stroke-width="1.35"/>
<polyline points="435.2,913.8 435.2,907.2 445.7,907.2 445.7,916.4 446.4,910.5 454.9,910.5 454.9,924.9 460.8,921.6 466.8,921.6 467.4,920.3 471.4,920.3 471.4,917.7 482.5,917.7 483.2,918.4 483.8,932.1 487.1,934.1 491.1,934.8 498.9,934.8 501.6,936.1 509.5,936.1 518.6,936.1 525.1,937.4 535.7,938.7 540.9,939.4" fill="none" stroke="#a8d9af" stroke-width="1.5" stroke-linejoin="miter"/>
<polyline points="434.6,854.7 435.2,845.5 446.4,845.5 446.4,873.7 446.4,865.1 454.9,865.1 454.9,857.3 461.5,857.3 461.5,882.2 461.5,876.3 466.8,876.3 466.8,870.4 471.4,870.4 471.4,865.1 475.3,865.1 475.3,872.0 476.0,860.5 486.5,860.5 486.5,875.0 488.4,875.0 488.4,883.5 491.1,883.5 491.1,890.1 493.7,888.8 493.7,891.4 495.7,891.4 495.7,905.9 498.9,903.9 502.9,903.9 502.9,912.4 506.8,911.8 509.5,911.1 512.7,910.5 513.1,910.5 513.1,912.1 513.8,912.1 513.8,913.8 514.1,913.8 514.3,913.8 514.3,916.0 514.7,916.0 514.7,918.1 515.1,918.1 515.1,920.3 515.3,920.3 515.8,920.3 515.8,923.0 516.8,923.0 516.8,925.6 517.3,925.6 519.9,926.9 525.1,928.2 527.8,929.5 530.4,930.8 533.0,933.5 537.0,936.1 540.9,937.4 548.8,938.7" fill="none" stroke="#86ca93" stroke-width="1.5" stroke-linejoin="miter"/>
<polyline points="434.6,816.6 434.6,807.4 446.4,807.4 446.4,802.8 454.3,802.8 454.3,798.9 460.8,798.9 460.8,795.6 466.8,795.6 466.8,791.7 476.6,791.7 477.3,789.7 479.9,789.7 479.9,842.9 482.5,839.6 483.2,839.6 483.8,846.8 486.5,845.5 486.5,842.9 489.1,841.6 489.8,839.6 492.4,839.6 492.4,854.1 493.7,848.1 496.3,849.5 497.0,854.7 499.6,850.1 501.6,849.5 503.5,847.5 504.2,851.4 506.8,848.8 508.8,849.5 509.1,849.5 509.1,852.1 509.8,852.1 509.8,854.7 510.1,854.7 513.3,855.4 513.3,865.1 516.0,864.5 519.9,866.5 521.2,867.8 521.9,869.1 522.5,875.0 525.1,876.3 526.5,878.3 528.4,880.9 529.1,904.6 530.4,907.2 530.6,907.2 530.6,909.5 530.9,909.5 530.9,911.8 531.2,911.8 531.2,914.1 531.5,914.1 531.5,916.4 531.7,916.4 532.4,924.3 534.3,926.9 536.3,928.2 536.6,928.2 536.6,930.2 537.3,930.2 537.3,932.1 537.6,932.1 540.9,934.8 546.2,936.1 551.4,937.4 555.4,938.7" fill="none" stroke="#66bc7b" stroke-width="1.5" stroke-linejoin="miter"/>
<polyline points="434.0,774.8 487.0,774.8 487.0,781.1 510.1,781.1 510.1,790.3 514.7,789.0 518.0,782.5 518.5,782.5 518.5,784.7 519.6,784.7 519.6,786.8 520.7,786.8 520.7,789.0 521.2,789.0 521.5,789.0 521.5,791.6 522.2,791.6 522.2,794.3 522.5,794.3 523.0,794.3 523.0,796.0 524.0,796.0 524.0,797.6 524.5,797.6 524.7,797.6 524.7,800.0 525.1,800.0 525.1,802.4 525.6,802.4 525.6,804.8 525.8,804.8 526.5,810.0 529.1,808.7 529.8,808.7 529.8,810.7 531.1,810.7 531.1,812.7 531.7,812.7 532.2,812.7 532.2,814.7 533.2,814.7 533.2,816.6 533.7,816.6 534.2,816.6 534.2,818.6 535.2,818.6 535.2,820.6 535.7,820.6 536.3,827.1 536.3,837.6 536.6,837.6 536.6,840.2 537.3,840.2 537.3,842.9 537.6,842.9 538.3,852.1 537.6,871.7 537.8,871.7 537.8,873.9 538.2,873.9 538.2,876.1 538.7,876.1 538.7,878.3 538.9,878.3 539.6,888.8 540.2,895.4 540.4,895.4 540.4,897.7 540.7,897.7 540.7,900.0 541.1,900.0 541.1,902.3 541.4,902.3 541.4,904.6 541.6,904.6 541.8,904.6 541.8,906.8 542.2,906.8 542.2,908.9 542.7,908.9 542.7,911.1 542.9,911.1 543.5,916.4 544.2,916.4 544.2,919.0 545.5,919.0 545.5,921.6 546.2,921.6 548.1,924.3 550.8,926.9 551.3,926.9 551.3,928.8 552.2,928.8 552.2,930.8 552.7,930.8 553.4,930.8 553.4,932.8 554.7,932.8 554.7,934.8 555.4,934.8 559.3,937.4 561.9,938.7" fill="none" stroke="#4ab066" stroke-width="1.5" stroke-linejoin="miter"/>
<polyline points="434.0,774.8 492.4,774.8 492.4,785.7 495.0,784.5 500.0,783.2 505.0,782.0 506.8,782.0 506.8,783.5 510.2,783.5 510.2,785.0 512.0,785.0 516.6,785.0 516.6,781.0 517.8,781.0 517.8,783.7 520.2,783.7 520.2,786.3 522.6,786.3 522.6,789.0 523.8,789.0 524.0,789.0 524.0,791.3 524.3,791.3 524.3,793.6 524.6,793.6 524.6,795.9 524.9,795.9 524.9,798.2 525.1,798.2 526.5,800.8 527.1,810.0 529.7,811.4 533.0,814.0 533.3,814.0 533.3,816.2 534.0,816.2 534.0,818.4 534.7,818.4 534.7,820.6 535.0,820.6 535.7,827.1 536.0,827.1 536.0,829.1 536.7,829.1 536.7,831.1 537.0,831.1 537.3,831.1 537.3,833.7 538.0,833.7 538.0,836.3 538.3,836.3 538.6,836.3 538.6,839.0 539.3,839.0 539.3,841.6 539.6,841.6 540.2,846.8 540.9,862.5 541.2,862.5 541.2,864.7 541.9,864.7 541.9,866.9 542.6,866.9 542.6,869.1 542.9,869.1 543.5,875.7 544.2,888.8 546.8,891.4 547.5,901.9 547.6,901.9 547.6,904.1 547.8,904.1 547.8,906.3 548.0,906.3 548.0,908.5 548.3,908.5 548.3,910.7 548.5,910.7 548.5,912.9 548.7,912.9 548.7,915.1 548.8,915.1 551.4,916.4 554.0,919.0 555.4,921.6 555.7,921.6 555.7,923.6 556.4,923.6 556.4,925.6 556.7,925.6 559.3,928.2 560.6,930.8 561.2,930.8 561.2,932.8 562.6,932.8 562.6,934.8 563.2,934.8 565.9,937.4 568.5,938.7" fill="none" stroke="#30a656" stroke-width="1.5" stroke-linejoin="miter"/>
<polyline points="434.0,781.5 512.0,780.5 518.6,780.5 519.2,789.0 521.9,788.4 524.5,787.7 525.1,789.7 527.1,791.0 528.4,793.6 528.9,793.6 528.9,796.5 529.9,796.5 529.9,799.5 530.4,799.5 531.1,803.5 533.7,805.4 535.0,806.1 535.0,815.3 535.3,815.3 535.3,817.5 536.0,817.5 536.0,819.7 536.7,819.7 536.7,821.9 537.0,821.9 537.2,821.9 537.2,824.1 537.6,824.1 537.6,826.2 538.1,826.2 538.1,828.4 538.3,828.4 538.5,828.4 538.5,831.0 539.0,831.0 539.0,833.7 539.4,833.7 539.4,836.3 539.6,836.3 539.9,836.3 539.9,839.2 540.6,839.2 540.6,842.2 540.9,842.2 541.5,842.2 541.5,844.5 542.9,844.5 542.9,846.8 543.5,846.8 544.2,852.0 544.8,855.9 547.5,854.6 549.4,855.9 550.1,862.5 550.3,862.5 550.3,864.7 550.8,864.7 550.8,866.9 551.2,866.9 551.2,869.1 551.4,869.1 551.7,869.1 551.7,871.3 552.4,871.3 552.4,873.5 553.1,873.5 553.1,875.7 553.4,875.7 553.6,875.7 553.6,878.0 553.9,878.0 553.9,880.2 554.2,880.2 554.2,882.5 554.5,882.5 554.5,884.8 554.7,884.8 555.4,894.0 555.4,905.9 557.3,908.5 559.3,909.8 561.9,911.1 565.9,912.4 566.5,921.6 567.0,921.6 567.0,924.2 568.0,924.2 568.0,926.9 568.5,926.9 569.1,926.9 569.1,928.8 570.5,928.8 570.5,930.8 571.1,930.8 571.8,930.8 571.8,932.8 573.1,932.8 573.1,934.8 573.8,934.8 574.3,934.8 574.3,936.8 575.2,936.8 575.2,938.7 575.7,938.7 593.5,938.7" fill="none" stroke="#1c9c48" stroke-width="1.5" stroke-linejoin="miter"/>
</g>
<text x="584.2" y="928.4" font-size="6.4" fill="#4a4a4a" textLength="17.4" lengthAdjust="spacingAndGlyphs">f1=0.1</text>
<text x="584.2" y="918.6" font-size="6.4" fill="#4a4a4a" textLength="17.4" lengthAdjust="spacingAndGlyphs">f1=0.2</text>
<text x="584.2" y="907.5" font-size="6.4" fill="#4a4a4a" textLength="17.4" lengthAdjust="spacingAndGlyphs">f1=0.3</text>
<text x="584.2" y="894.9" font-size="6.4" fill="#4a4a4a" textLength="17.4" lengthAdjust="spacingAndGlyphs">f1=0.4</text>
<text x="584.2" y="880.4" font-size="6.4" fill="#4a4a4a" textLength="17.4" lengthAdjust="spacingAndGlyphs">f1=0.5</text>
<text x="584.2" y="863.5" font-size="6.4" fill="#4a4a4a" textLength="17.4" lengthAdjust="spacingAndGlyphs">f1=0.6</text>
<text x="584.2" y="843.7" font-size="6.4" fill="#4a4a4a" textLength="17.4" lengthAdjust="spacingAndGlyphs">f1=0.7</text>
<text x="584.2" y="820.1" font-size="6.4" fill="#4a4a4a" textLength="17.4" lengthAdjust="spacingAndGlyphs">f1=0.8</text>
<text x="584.2" y="791.4" font-size="6.4" fill="#4a4a4a" textLength="17.4" lengthAdjust="spacingAndGlyphs">f1=0.9</text>
<line x1="434.9" y1="940.3" x2="601.9" y2="940.3" stroke="#2a2a2a" stroke-width="2.4" stroke-dasharray="10.3,4.4"/>
<rect x="433.9" y="773.1" width="169.0" height="168.69999999999993" fill="none" stroke="#111" stroke-width="1.7"/>
<line x1="431.9" y1="773.1" x2="433.9" y2="773.1" stroke="#111" stroke-width="1"/>
<text x="430.0" y="777.0" font-size="10.5" text-anchor="end" font-weight="normal" fill="#231f20" >1.0</text>
<line x1="431.9" y1="806.6" x2="433.9" y2="806.6" stroke="#111" stroke-width="1"/>
<text x="430.0" y="810.0" font-size="10.5" text-anchor="end" font-weight="normal" fill="#231f20" >0.8</text>
<line x1="431.9" y1="840.1" x2="433.9" y2="840.1" stroke="#111" stroke-width="1"/>
<text x="430.0" y="842.9" font-size="10.5" text-anchor="end" font-weight="normal" fill="#231f20" >0.6</text>
<line x1="431.9" y1="873.7" x2="433.9" y2="873.7" stroke="#111" stroke-width="1"/>
<text x="430.0" y="875.9" font-size="10.5" text-anchor="end" font-weight="normal" fill="#231f20" >0.4</text>
<line x1="431.9" y1="907.2" x2="433.9" y2="907.2" stroke="#111" stroke-width="1"/>
<text x="430.0" y="908.8" font-size="10.5" text-anchor="end" font-weight="normal" fill="#231f20" >0.2</text>
<line x1="431.9" y1="940.7" x2="433.9" y2="940.7" stroke="#111" stroke-width="1"/>
<text x="430.0" y="941.8" font-size="10.5" text-anchor="end" font-weight="normal" fill="#231f20" >0.0</text>
<line x1="433.9" y1="941.8" x2="433.9" y2="943.8" stroke="#111" stroke-width="1"/>
<line x1="518.4" y1="941.8" x2="518.4" y2="943.8" stroke="#111" stroke-width="1"/>
<line x1="602.9" y1="941.8" x2="602.9" y2="943.8" stroke="#111" stroke-width="1"/>
<text x="431.3" y="952.8" font-size="10.5" text-anchor="start" font-weight="normal" fill="#231f20" >10</text>
<text x="443.2" y="948.8" font-size="7.0" text-anchor="start" font-weight="normal" fill="#231f20" >-2</text>
<text x="509.2" y="952.8" font-size="10.5" text-anchor="start" font-weight="normal" fill="#231f20" >10</text>
<text x="521.1" y="948.8" font-size="7.0" text-anchor="start" font-weight="normal" fill="#231f20" >-1</text>
<text x="600.4" y="952.8" font-size="10.5" text-anchor="middle" font-weight="normal" fill="#231f20" >1</text>
<text x="516.9" y="961.4" font-size="11" text-anchor="middle" font-weight="normal" fill="#231f20" textLength="50.2" lengthAdjust="spacingAndGlyphs" >Sensitivity</text>
<text transform="translate(409.5,853.3) rotate(-90)" font-size="11.2" text-anchor="middle" fill="#231f20" textLength="46" lengthAdjust="spacingAndGlyphs">Precision</text>
<text x="438.6" y="764.7" font-size="14" fill="#231f20" textLength="212.9" lengthAdjust="spacingAndGlyphs">Patient 412 - <tspan font-weight="bold">BRCA -</tspan> Series (A)</text>
<rect x="607.8" y="804.3" width="68.30000000000007" height="24.100000000000023" rx="12.050000000000011" fill="#78b48a" stroke="#1d6a3a" stroke-width="1.8"/>
<text x="642.0" y="821.6" font-size="14.6" text-anchor="middle" font-weight="normal" fill="#231f20" textLength="54.8" lengthAdjust="spacingAndGlyphs" >Strelka2</text>
<rect x="609.1" y="833.3" width="64.89999999999998" height="92.40000000000009" fill="#fff" stroke="#cfcfcf" stroke-width="1"/>
<text x="632.8" y="844.0" font-size="10.2" text-anchor="start" font-weight="normal" fill="#231f20" textLength="32.4" lengthAdjust="spacingAndGlyphs" >ctDNA</text>
<text x="632.8" y="853.4" font-size="10.2" text-anchor="start" font-weight="normal" fill="#231f20" textLength="36.2" lengthAdjust="spacingAndGlyphs" >fraction</text>
<line x1="612.5" y1="858.2" x2="628.6" y2="858.2" stroke="#17a652" stroke-width="1.5"/>
<text x="632.8" y="863.8" font-size="10.6" text-anchor="start" font-weight="normal" fill="#231f20" textLength="22.4" lengthAdjust="spacingAndGlyphs" >40%</text>
<line x1="612.5" y1="868.5" x2="628.6" y2="868.5" stroke="#14a24e" stroke-width="1.5"/>
<text x="632.8" y="874.1" font-size="10.6" text-anchor="start" font-weight="normal" fill="#231f20" textLength="22.4" lengthAdjust="spacingAndGlyphs" >20%</text>
<line x1="612.5" y1="878.7" x2="628.6" y2="878.7" stroke="#1aa352" stroke-width="1.5"/>
<text x="632.8" y="884.3" font-size="10.6" text-anchor="start" font-weight="normal" fill="#231f20" textLength="22.4" lengthAdjust="spacingAndGlyphs" >15%</text>
<line x1="612.5" y1="889.0" x2="628.6" y2="889.0" stroke="#3aaf68" stroke-width="1.5"/>
<text x="632.8" y="894.6" font-size="10.6" text-anchor="start" font-weight="normal" fill="#231f20" textLength="22.4" lengthAdjust="spacingAndGlyphs" >10%</text>
<line x1="612.5" y1="899.2" x2="628.6" y2="899.2" stroke="#57b97b" stroke-width="1.5"/>
<text x="632.8" y="904.8" font-size="10.6" text-anchor="start" font-weight="normal" fill="#231f20" textLength="16.2" lengthAdjust="spacingAndGlyphs" >6%</text>
<line x1="612.5" y1="909.5" x2="628.6" y2="909.5" stroke="#86cb9a" stroke-width="1.5"/>
<text x="632.8" y="915.1" font-size="10.6" text-anchor="start" font-weight="normal" fill="#231f20" textLength="16.2" lengthAdjust="spacingAndGlyphs" >3%</text>
<text x="123.2" y="544.4" font-size="14" text-anchor="start" font-weight="bold" fill="#231f20" >c</text>
</svg>
</body></html>
